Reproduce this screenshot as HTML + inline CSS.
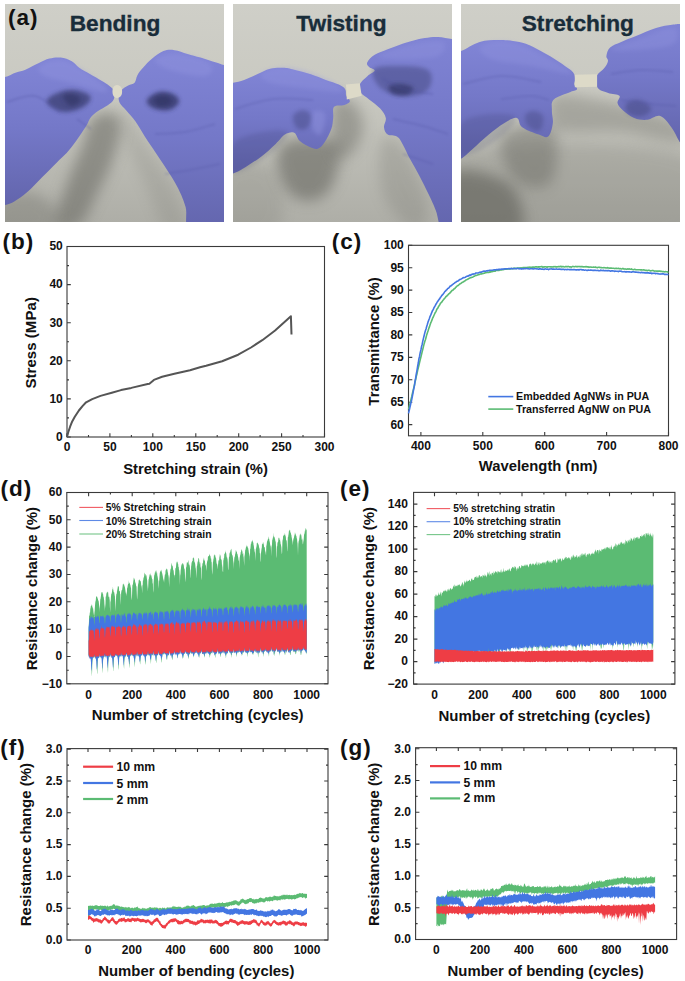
<!DOCTYPE html>
<html><head><meta charset="utf-8"><style>
html,body{margin:0;padding:0;background:#fff;}
svg{display:block;}
</style></head><body>
<svg width="685" height="981" viewBox="0 0 685 981">
<rect width="685" height="981" fill="#fff"/>
<defs>
<linearGradient id="bg1" x1="0" y1="0" x2="0" y2="1"><stop offset="0" stop-color="#cfcfc8"/><stop offset="0.4" stop-color="#c9c9c1"/><stop offset="1" stop-color="#aeaea7"/></linearGradient>
<linearGradient id="gl" x1="0" y1="0" x2="0" y2="1"><stop offset="0" stop-color="#8185d6"/><stop offset="0.45" stop-color="#7478c8"/><stop offset="1" stop-color="#6062a8"/></linearGradient>
<filter id="b2" x="-30%" y="-30%" width="160%" height="160%"><feGaussianBlur stdDeviation="2.2"/></filter>
<filter id="b6" x="-50%" y="-50%" width="200%" height="200%"><feGaussianBlur stdDeviation="7"/></filter>
<filter id="b1" x="-30%" y="-30%" width="160%" height="160%"><feGaussianBlur stdDeviation="0.9"/></filter>
<clipPath id="pc"><rect width="219" height="218"/></clipPath>
</defs><g transform="translate(5,4)"><g clip-path="url(#pc)"><rect width="219" height="218" fill="url(#bg1)"/><path d="M86.0 116.0 C90.7 110.2 98.6 107.3 104.0 108.0 C109.4 108.7 115.3 111.5 116.0 120.0 C116.7 128.5 112.3 142.4 108.0 155.0 C103.7 167.6 98.1 177.9 92.0 190.0 C85.9 202.1 81.6 216.2 74.0 222.0 C66.4 227.8 52.2 229.6 50.0 222.0 C47.8 214.4 57.0 194.8 62.0 180.0 C67.0 165.2 73.7 151.5 78.0 140.0 C82.3 128.5 81.3 121.8 86.0 116.0Z" fill="#5f5f59" opacity="0.5" filter="url(#b6)"/><path d="M-10.0 198.0 C-3.7 190.4 14.2 186.7 25.0 188.0 C35.8 189.3 46.4 197.4 50.0 205.0 C53.6 212.6 55.8 225.5 45.0 230.0 C34.2 234.5 -0.1 235.8 -10.0 230.0 C-19.9 224.2 -16.3 205.6 -10.0 198.0Z" fill="#5f5f59" opacity="0.3" filter="url(#b6)"/><path d="M118.0 105.0 C119.1 101.0 124.0 111.7 128.0 118.0 C132.0 124.3 134.2 130.6 140.0 140.0 C145.8 149.4 153.7 159.2 160.0 170.0 C166.3 180.8 171.4 190.1 175.0 200.0 C178.6 209.9 182.7 220.5 180.0 225.0 C177.3 229.5 167.2 233.1 160.0 225.0 C152.8 216.9 146.8 195.3 140.0 180.0 C133.2 164.7 126.0 153.5 122.0 140.0 C118.0 126.5 116.9 109.0 118.0 105.0Z" fill="#5f5f59" opacity="0.15" filter="url(#b6)"/><path d="M-10.0 74.0 C-8.2 50.6 -3.8 74.1 0.0 73.1 C3.8 72.1 7.4 69.8 11.1 68.5 C14.8 67.2 16.4 67.4 20.4 65.7 C24.4 64.0 29.1 61.2 33.4 59.2 C37.7 57.2 40.5 55.6 44.5 54.6 C48.5 53.6 51.7 53.1 55.7 53.6 C59.7 54.1 63.5 55.5 66.8 57.3 C70.1 59.1 70.9 61.5 74.2 63.8 C77.5 66.1 81.3 68.0 85.3 70.3 C89.3 72.6 93.2 74.8 96.5 76.8 C99.8 78.8 101.7 79.8 103.9 81.5 C106.1 83.2 107.5 84.3 108.5 86.1 C109.5 87.9 109.7 89.7 109.5 91.7 C109.3 93.7 109.3 95.2 107.6 97.2 C105.9 99.2 103.2 100.8 100.2 102.8 C97.2 104.8 93.6 106.4 90.9 108.4 C88.2 110.4 87.0 111.6 85.3 113.9 C83.6 116.2 83.6 118.0 81.6 121.3 C79.6 124.6 77.5 127.8 74.2 132.5 C70.9 137.2 67.1 142.6 63.1 147.3 C59.1 152.0 56.6 153.7 51.9 158.4 C47.2 163.1 42.4 168.0 37.1 173.3 C31.8 178.6 27.3 183.8 22.3 188.1 C17.3 192.4 13.3 195.1 9.3 197.4 C5.3 199.7 3.5 200.1 0.0 201.1 C-3.5 202.1 -8.2 225.9 -10.0 203.0 C-11.8 180.1 -11.8 97.4 -10.0 74.0Z" fill="url(#gl)"/><path d="M113.8 91.7 C114.1 89.4 114.9 87.9 116.6 86.1 C118.3 84.3 120.8 82.8 123.1 81.5 C125.4 80.2 127.9 80.5 129.6 78.7 C131.3 76.9 130.9 74.0 132.4 71.3 C133.9 68.6 135.3 66.8 138.0 63.8 C140.7 60.8 143.5 57.6 147.2 54.6 C150.9 51.6 154.4 48.6 158.4 47.1 C162.4 45.6 165.2 45.7 169.5 46.2 C173.8 46.7 177.8 48.6 182.5 49.9 C187.2 51.2 190.5 52.1 195.5 53.6 C200.5 55.1 206.1 57.0 210.3 58.3 C214.5 59.6 215.8 60.2 219.0 61.0 C222.2 61.8 226.4 32.9 228.0 63.0 C229.6 93.1 235.5 198.3 228.0 228.0 C220.5 257.7 194.7 232.5 186.2 228.0 C177.7 223.5 182.9 210.8 180.6 203.0 C178.3 195.2 176.5 191.1 173.2 184.4 C169.9 177.7 166.1 172.2 162.1 165.9 C158.1 159.6 155.0 155.2 151.0 149.2 C147.0 143.2 143.5 138.2 139.8 132.5 C136.1 126.8 133.8 122.3 130.5 117.6 C127.2 112.9 124.1 109.8 121.3 106.5 C118.5 103.2 116.1 101.8 114.8 99.1 C113.5 96.4 113.5 94.0 113.8 91.7Z" fill="url(#gl)"/><path d="M35.0 62.0 C38.6 59.3 49.2 54.1 60.0 57.0 C70.8 59.9 87.8 72.4 95.0 78.0 C102.2 83.6 104.5 87.6 100.0 88.0 C95.5 88.4 80.8 82.9 70.0 80.0 C59.2 77.1 46.3 75.2 40.0 72.0 C33.7 68.8 31.4 64.7 35.0 62.0Z" fill="#9598e2" opacity="0.35" filter="url(#b2)"/><path d="M150.0 55.0 C151.8 52.1 165.1 49.1 175.0 50.0 C184.9 50.9 200.5 56.0 205.0 60.0 C209.5 64.0 207.2 70.9 200.0 72.0 C192.8 73.1 174.0 69.1 165.0 66.0 C156.0 62.9 148.2 57.9 150.0 55.0Z" fill="#9598e2" opacity="0.35" filter="url(#b2)"/><path d="M42.0 96.0 C43.3 93.1 50.0 89.8 55.0 88.0 C60.0 86.2 64.6 85.3 70.0 86.0 C75.4 86.7 83.2 89.1 85.0 92.0 C86.8 94.9 84.1 99.1 80.0 102.0 C75.9 104.9 67.8 107.6 62.0 108.0 C56.2 108.4 51.6 106.2 48.0 104.0 C44.4 101.8 40.7 98.9 42.0 96.0Z" fill="#2c2d5a" opacity="0.6" filter="url(#b2)"/><path d="M58.0 92.0 C58.4 89.8 64.8 89.3 68.0 90.0 C71.2 90.7 76.4 93.8 76.0 96.0 C75.6 98.2 69.2 102.7 66.0 102.0 C62.8 101.3 57.6 94.2 58.0 92.0Z" fill="#2c2d5a" opacity="0.5" filter="url(#b2)"/><path d="M142.0 96.0 C143.1 93.1 149.3 89.1 154.0 88.0 C158.7 86.9 164.4 88.2 168.0 90.0 C171.6 91.8 174.7 95.1 174.0 98.0 C173.3 100.9 168.7 104.9 164.0 106.0 C159.3 107.1 152.0 105.8 148.0 104.0 C144.0 102.2 140.9 98.9 142.0 96.0Z" fill="#2c2d5a" opacity="0.7" filter="url(#b2)"/><path d="M150.0 94.0 C151.4 92.2 159.1 91.1 162.0 92.0 C164.9 92.9 167.4 97.2 166.0 99.0 C164.6 100.8 156.9 102.9 154.0 102.0 C151.1 101.1 148.6 95.8 150.0 94.0Z" fill="#2c2d5a" opacity="0.5" filter="url(#b2)"/><path d="M2.0 98.0 C7.0 96.9 20.5 90.2 30.0 92.0 C39.5 93.8 50.5 105.1 55.0 108.0" fill="none" stroke="#4b4d9c" stroke-width="2" opacity="0.25" filter="url(#b1)"/><path d="M72.0 115.0 C74.5 116.8 83.5 123.2 86.0 125.0" fill="none" stroke="#4b4d9c" stroke-width="2" opacity="0.25" filter="url(#b1)"/><path d="M150.0 130.0 C155.4 129.6 169.2 129.8 180.0 128.0 C190.8 126.2 204.6 121.4 210.0 120.0" fill="none" stroke="#4b4d9c" stroke-width="2" opacity="0.22" filter="url(#b1)"/><path d="M160.0 170.0 C165.4 169.1 180.1 166.8 190.0 165.0 C199.9 163.2 210.5 160.9 215.0 160.0" fill="none" stroke="#4b4d9c" stroke-width="2" opacity="0.2" filter="url(#b1)"/><path d="M108.0 84.0 C108.7 82.2 110.5 81.0 112.0 81.0 C113.5 81.0 115.7 82.2 116.5 84.0 C117.3 85.8 117.3 89.2 116.5 91.0 C115.7 92.8 113.5 94.0 112.0 94.0 C110.5 94.0 108.7 92.8 108.0 91.0 C107.3 89.2 107.3 85.8 108.0 84.0Z" fill="#dddac8"/></g><text x="110" y="27.3" font-family="Liberation Sans, sans-serif" font-weight="bold" font-size="22.7" text-anchor="middle" fill="#192d3a" stroke="#192d3a" stroke-width="0.35">Bending</text></g><g transform="translate(233,4)"><g clip-path="url(#pc)"><rect width="219" height="218" fill="url(#bg1)"/><path d="M50.0 140.0 C56.3 134.6 70.1 135.0 80.0 135.0 C89.9 135.0 101.0 132.8 105.0 140.0 C109.0 147.2 105.6 165.1 102.0 175.0 C98.4 184.9 92.6 191.9 85.0 195.0 C77.4 198.1 67.2 197.4 60.0 192.0 C52.8 186.6 46.8 174.4 45.0 165.0 C43.2 155.6 43.7 145.4 50.0 140.0Z" fill="#5f5f59" opacity="0.55" filter="url(#b6)"/><path d="M100.0 98.0 C103.6 89.0 116.6 95.1 122.0 100.0 C127.4 104.9 130.7 116.0 130.0 125.0 C129.3 134.0 123.0 145.5 118.0 150.0 C113.0 154.5 105.2 159.4 102.0 150.0 C98.8 140.6 96.4 107.0 100.0 98.0Z" fill="#5f5f59" opacity="0.4" filter="url(#b6)"/><path d="M150.0 135.0 C154.5 127.8 166.9 137.4 175.0 150.0 C183.1 162.6 194.1 191.5 195.0 205.0 C195.9 218.5 188.1 227.7 180.0 225.0 C171.9 222.3 155.4 206.2 150.0 190.0 C144.6 173.8 145.5 142.2 150.0 135.0Z" fill="#5f5f59" opacity="0.2" filter="url(#b6)"/><path d="M-10.0 170.0 C-2.8 157.4 19.2 156.4 30.0 160.0 C40.8 163.6 48.2 177.4 50.0 190.0 C51.8 202.6 50.8 222.8 40.0 230.0 C29.2 237.2 -1.0 240.8 -10.0 230.0 C-19.0 219.2 -17.2 182.6 -10.0 170.0Z" fill="#5f5f59" opacity="0.15" filter="url(#b6)"/><path d="M-10.0 79.0 C-8.2 62.4 -3.8 79.3 0.0 78.7 C3.8 78.1 6.8 77.4 11.1 75.9 C15.4 74.4 19.4 72.3 24.1 70.3 C28.8 68.3 32.4 66.0 37.1 64.8 C41.8 63.6 45.8 63.6 50.1 63.8 C54.4 64.0 56.2 64.5 61.2 65.7 C66.2 66.9 72.2 68.5 77.9 70.3 C83.6 72.1 87.8 74.1 92.8 75.9 C97.8 77.7 102.3 78.8 105.8 80.5 C109.3 82.2 110.9 83.2 112.2 85.2 C113.5 87.2 112.4 89.5 113.2 91.7 C114.0 93.9 117.2 95.5 116.9 97.2 C116.6 98.9 114.1 99.9 111.3 100.9 C108.5 101.9 103.1 100.5 101.1 102.8 C99.1 105.1 100.7 109.9 100.2 113.9 C99.7 117.9 99.8 120.8 98.3 125.1 C96.8 129.4 94.1 134.5 91.8 138.0 C89.5 141.5 87.8 143.5 85.3 144.5 C82.8 145.5 81.2 144.9 77.9 143.6 C74.6 142.3 69.8 139.8 66.8 137.1 C63.8 134.4 63.9 130.0 61.2 128.8 C58.5 127.6 55.2 128.6 51.9 130.6 C48.6 132.6 47.0 135.9 42.7 139.9 C38.4 143.9 33.5 148.6 27.8 152.9 C22.1 157.2 16.1 161.0 11.1 164.0 C6.1 167.0 3.8 168.3 0.0 169.6 C-3.8 170.9 -8.2 187.3 -10.0 171.0 C-11.8 154.7 -11.8 95.6 -10.0 79.0Z" fill="url(#gl)"/><path d="M134.3 58.3 C135.3 56.1 138.0 53.1 141.7 50.8 C145.4 48.5 149.7 47.3 154.7 45.3 C159.7 43.3 164.8 41.3 169.5 39.7 C174.2 38.1 176.6 37.4 180.6 36.4 C184.6 35.4 187.4 34.6 191.8 34.0 C196.2 33.4 200.1 32.8 205.0 33.0 C209.9 33.2 214.9 34.5 219.0 35.0 C223.1 35.5 226.4 1.3 228.0 36.0 C229.6 70.7 231.2 193.4 228.0 228.0 C224.8 262.6 214.5 231.8 210.0 228.0 C205.5 224.2 205.5 213.5 202.9 206.7 C200.3 199.9 198.5 196.4 195.5 190.0 C192.5 183.6 189.5 177.8 186.2 171.4 C182.9 165.0 179.9 160.4 176.9 154.7 C173.9 149.0 171.8 143.9 169.5 139.9 C167.2 135.9 166.6 134.2 163.9 132.5 C161.2 130.8 157.0 132.3 154.7 130.6 C152.4 128.9 151.3 126.2 151.0 123.2 C150.7 120.2 153.5 117.2 152.8 113.9 C152.1 110.6 150.2 107.9 147.2 104.6 C144.2 101.3 139.4 98.1 136.1 95.4 C132.8 92.7 130.5 91.8 128.7 89.8 C126.9 87.8 126.1 86.2 125.9 84.2 C125.7 82.2 126.3 80.9 127.8 78.7 C129.3 76.5 131.8 74.4 134.3 72.2 C136.8 70.0 141.4 68.3 141.7 66.6 C142.0 64.9 137.4 64.4 136.1 62.9 C134.8 61.4 133.3 60.5 134.3 58.3Z" fill="url(#gl)"/><path d="M30.0 68.0 C34.5 65.5 47.4 62.2 60.0 64.0 C72.6 65.8 91.4 73.7 100.0 78.0 C108.6 82.3 113.4 86.9 108.0 88.0 C102.6 89.1 83.1 85.8 70.0 84.0 C56.9 82.2 42.2 80.9 35.0 78.0 C27.8 75.1 25.5 70.5 30.0 68.0Z" fill="#9598e2" opacity="0.3" filter="url(#b2)"/><path d="M145.0 52.0 C146.8 49.3 168.3 42.5 180.0 40.0 C191.7 37.5 205.5 35.8 210.0 38.0 C214.5 40.2 212.2 48.9 205.0 52.0 C197.8 55.1 180.8 55.0 170.0 55.0 C159.2 55.0 143.2 54.7 145.0 52.0Z" fill="#9598e2" opacity="0.3" filter="url(#b2)"/><path d="M80.0 108.0 C82.2 105.3 90.6 106.0 92.0 110.0 C93.4 114.0 90.2 127.3 88.0 130.0 C85.8 132.7 81.4 129.0 80.0 125.0 C78.6 121.0 77.8 110.7 80.0 108.0Z" fill="#9598e2" opacity="0.4" filter="url(#b2)"/><path d="M60.0 112.0 C61.1 108.8 66.8 106.0 70.0 106.0 C73.2 106.0 77.3 108.8 78.0 112.0 C78.7 115.2 76.5 121.8 74.0 124.0 C71.5 126.2 66.5 126.2 64.0 124.0 C61.5 121.8 58.9 115.2 60.0 112.0Z" fill="#2c2d5a" opacity="0.3" filter="url(#b2)"/><path d="M140.0 66.0 C142.7 61.7 155.1 62.0 165.0 62.0 C174.9 62.0 189.4 62.0 195.0 66.0 C200.6 70.0 199.1 79.3 196.0 84.0 C192.9 88.7 186.3 91.6 178.0 92.0 C169.7 92.4 156.8 90.7 150.0 86.0 C143.2 81.3 137.3 70.3 140.0 66.0Z" fill="#2c2d5a" opacity="0.35" filter="url(#b2)"/><path d="M156.0 82.0 C157.4 80.2 163.7 79.6 168.0 80.0 C172.3 80.4 178.9 82.0 180.0 84.0 C181.1 86.0 177.6 89.9 174.0 91.0 C170.4 92.1 163.2 91.6 160.0 90.0 C156.8 88.4 154.6 83.8 156.0 82.0Z" fill="#2c2d5a" opacity="0.6" filter="url(#b2)"/><path d="M0.0 140.0 C5.4 132.8 20.1 129.8 30.0 128.0 C39.9 126.2 55.0 125.1 55.0 130.0 C55.0 134.9 39.9 148.2 30.0 155.0 C20.1 161.8 5.4 170.7 0.0 168.0 C-5.4 165.3 -5.4 147.2 0.0 140.0Z" fill="#2c2d5a" opacity="0.15" filter="url(#b2)"/><path d="M2.0 105.0 C8.8 103.2 26.0 96.6 40.0 95.0 C54.0 93.4 72.8 95.8 80.0 96.0" fill="none" stroke="#4b4d9c" stroke-width="2" opacity="0.22" filter="url(#b1)"/><path d="M150.0 75.0 C153.6 76.8 161.0 82.3 170.0 85.0 C179.0 87.7 194.6 89.1 200.0 90.0" fill="none" stroke="#4b4d9c" stroke-width="2" opacity="0.25" filter="url(#b1)"/><path d="M160.0 115.0 C165.4 116.3 180.1 119.3 190.0 122.0 C199.9 124.7 210.5 128.6 215.0 130.0" fill="none" stroke="#4b4d9c" stroke-width="2" opacity="0.22" filter="url(#b1)"/><path d="M170.0 150.0 C175.4 151.8 194.6 158.2 200.0 160.0" fill="none" stroke="#4b4d9c" stroke-width="2" opacity="0.2" filter="url(#b1)"/><path d="M113.0 80.5 L126.8 79.2 L128.7 91.7 L113.8 95.4Z" fill="#dddac8"/></g><text x="108.5" y="27.3" font-family="Liberation Sans, sans-serif" font-weight="bold" font-size="22.7" text-anchor="middle" fill="#192d3a" stroke="#192d3a" stroke-width="0.35">Twisting</text></g><g transform="translate(461,4)"><g clip-path="url(#pc)"><rect width="219" height="218" fill="url(#bg1)"/><path d="M45.0 128.0 C53.3 122.1 78.8 118.0 88.0 122.0 C97.2 126.0 96.0 139.6 96.0 150.0 C96.0 160.4 94.5 174.6 88.0 180.0 C81.5 185.4 68.3 184.5 60.0 180.0 C51.7 175.5 44.7 164.4 42.0 155.0 C39.3 145.6 36.7 133.9 45.0 128.0Z" fill="#5f5f59" opacity="0.4" filter="url(#b6)"/><path d="M-10.0 170.0 C-1.0 160.1 27.4 169.6 40.0 175.0 C52.6 180.4 57.3 190.1 60.0 200.0 C62.7 209.9 67.6 224.6 55.0 230.0 C42.4 235.4 1.7 240.8 -10.0 230.0 C-21.7 219.2 -19.0 179.9 -10.0 170.0Z" fill="#5f5f59" opacity="0.6" filter="url(#b6)"/><path d="M92.0 92.0 C100.6 87.3 120.6 92.4 140.0 96.0 C159.4 99.6 185.8 107.3 200.0 112.0 C214.2 116.7 215.6 117.3 219.0 122.0 C222.4 126.7 229.6 136.9 219.0 138.0 C208.4 139.1 179.6 129.8 160.0 128.0 C140.4 126.2 122.2 129.1 110.0 128.0 C97.8 126.9 95.2 128.5 92.0 122.0 C88.8 115.5 83.4 96.7 92.0 92.0Z" fill="#5f5f59" opacity="0.3" filter="url(#b6)"/><path d="M0.0 150.0 C39.4 135.6 179.6 135.6 219.0 150.0 C258.4 164.4 258.4 215.6 219.0 230.0 C179.6 244.4 39.4 244.4 0.0 230.0 C-39.4 215.6 -39.4 164.4 0.0 150.0Z" fill="#5f5f59" opacity="0.18" filter="url(#b6)"/><path d="M-10.0 49.0 C-8.2 29.4 -5.1 49.1 0.0 47.1 C5.1 45.1 11.9 39.9 18.6 37.9 C25.3 35.9 31.1 36.2 37.1 36.0 C43.1 35.8 46.9 36.2 51.9 36.9 C56.9 37.6 59.9 37.9 64.9 39.7 C69.9 41.5 74.8 44.4 79.8 47.1 C84.8 49.8 88.5 51.9 92.8 54.6 C97.1 57.3 100.4 59.5 103.9 62.0 C107.4 64.5 110.4 66.2 112.2 68.5 C114.0 70.8 113.9 72.8 114.1 75.0 C114.3 77.2 112.9 78.7 113.2 80.5 C113.5 82.3 116.7 83.9 116.0 85.2 C115.3 86.5 113.7 86.1 109.5 87.9 C105.3 89.7 96.1 92.1 92.8 95.4 C89.5 98.7 91.1 102.2 90.9 106.5 C90.7 110.8 92.5 114.8 91.8 119.5 C91.1 124.2 89.7 130.5 87.2 132.5 C84.7 134.5 82.6 132.3 77.9 130.6 C73.2 128.9 65.2 126.2 61.2 123.2 C57.2 120.2 59.0 114.6 55.7 113.9 C52.4 113.2 47.7 116.5 42.7 119.5 C37.7 122.5 33.5 125.9 27.8 130.6 C22.1 135.3 16.1 141.2 11.1 145.5 C6.1 149.8 3.8 152.8 0.0 154.7 C-3.8 156.6 -8.2 175.0 -10.0 156.0 C-11.8 137.0 -11.8 68.6 -10.0 49.0Z" fill="url(#gl)"/><path d="M136.1 71.3 C137.6 68.6 141.5 66.4 143.5 63.8 C145.5 61.2 146.7 59.1 147.0 57.0 C147.3 54.9 145.0 54.4 145.4 52.0 C145.8 49.6 146.4 45.9 149.1 43.4 C151.8 40.9 155.5 40.0 160.2 37.9 C164.9 35.8 168.7 34.5 175.0 32.0 C181.3 29.5 188.5 26.0 195.0 24.0 C201.5 22.0 206.7 21.5 211.0 20.8 C215.3 20.1 215.9 20.1 219.0 20.0 C222.1 19.9 226.4 -1.6 228.0 20.0 C229.6 41.6 229.6 118.8 228.0 140.0 C226.4 161.2 220.9 138.7 219.0 138.0 C217.1 137.3 219.3 138.9 217.7 136.2 C216.1 133.5 213.6 127.5 210.3 123.2 C207.0 118.9 203.5 113.4 199.2 112.1 C194.9 110.8 190.9 115.5 186.2 115.8 C181.5 116.1 177.5 115.6 173.2 113.9 C168.9 112.2 165.1 109.2 162.1 106.5 C159.1 103.8 157.2 101.8 156.5 99.1 C155.8 96.4 160.1 93.5 158.4 91.7 C156.7 89.9 150.9 90.1 147.2 88.9 C143.5 87.7 140.2 87.0 138.0 85.2 C135.8 83.4 135.5 81.2 135.2 78.7 C134.9 76.2 134.6 74.0 136.1 71.3Z" fill="url(#gl)"/><path d="M20.0 42.0 C23.6 38.9 36.5 35.1 50.0 38.0 C63.5 40.9 84.2 52.2 95.0 58.0 C105.8 63.8 114.5 69.3 110.0 70.0 C105.5 70.7 84.4 64.7 70.0 62.0 C55.6 59.3 39.0 58.6 30.0 55.0 C21.0 51.4 16.4 45.1 20.0 42.0Z" fill="#9598e2" opacity="0.3" filter="url(#b2)"/><path d="M150.0 45.0 C150.9 42.8 168.8 37.8 180.0 34.0 C191.2 30.2 206.2 22.9 212.0 24.0 C217.8 25.1 218.7 36.0 212.0 40.0 C205.3 44.0 186.2 45.1 175.0 46.0 C163.8 46.9 149.1 47.2 150.0 45.0Z" fill="#9598e2" opacity="0.3" filter="url(#b2)"/><path d="M64.0 112.0 C64.7 109.1 68.8 107.0 72.0 107.0 C75.2 107.0 80.7 108.6 82.0 112.0 C83.3 115.4 81.5 124.0 79.0 126.0 C76.5 128.0 70.7 125.5 68.0 123.0 C65.3 120.5 63.3 114.9 64.0 112.0Z" fill="#2c2d5a" opacity="0.25" filter="url(#b2)"/><path d="M165.0 100.0 C166.8 97.5 173.5 95.3 178.0 96.0 C182.5 96.7 189.3 101.1 190.0 104.0 C190.7 106.9 186.0 110.9 182.0 112.0 C178.0 113.1 171.1 112.2 168.0 110.0 C164.9 107.8 163.2 102.5 165.0 100.0Z" fill="#2c2d5a" opacity="0.3" filter="url(#b2)"/><path d="M0.0 120.0 C5.4 112.8 20.1 110.9 30.0 110.0 C39.9 109.1 55.0 109.6 55.0 115.0 C55.0 120.4 39.9 133.7 30.0 140.0 C20.1 146.3 5.4 153.6 0.0 150.0 C-5.4 146.4 -5.4 127.2 0.0 120.0Z" fill="#2c2d5a" opacity="0.15" filter="url(#b2)"/><path d="M2.0 80.0 C8.8 78.6 26.0 72.4 40.0 72.0 C54.0 71.6 72.8 76.9 80.0 78.0" fill="none" stroke="#4b4d9c" stroke-width="2" opacity="0.22" filter="url(#b1)"/><path d="M40.0 95.0 C45.4 94.5 61.4 91.8 70.0 92.0 C78.6 92.2 84.8 95.3 88.0 96.0" fill="none" stroke="#4b4d9c" stroke-width="2" opacity="0.2" filter="url(#b1)"/><path d="M150.0 70.0 C155.4 69.3 168.8 66.4 180.0 66.0 C191.2 65.6 206.2 67.6 212.0 68.0" fill="none" stroke="#4b4d9c" stroke-width="2" opacity="0.22" filter="url(#b1)"/><path d="M160.0 96.0 C165.4 96.7 180.1 98.9 190.0 100.0 C199.9 101.1 210.5 101.6 215.0 102.0" fill="none" stroke="#4b4d9c" stroke-width="2" opacity="0.2" filter="url(#b1)"/><path d="M113.8 70.8 L136.1 70.3 L136.1 82.8 L113.8 83.3Z" fill="#dddac8"/></g><text x="116.8" y="27.3" font-family="Liberation Sans, sans-serif" font-weight="bold" font-size="22.7" text-anchor="middle" fill="#192d3a" stroke="#192d3a" stroke-width="0.35">Stretching</text></g>
<g><rect x="67.0" y="246.5" width="257.5" height="190.5" fill="none" stroke="#3a3a3a" stroke-width="1.1"/>
<path d="M67.0 437.0h3.8M67.0 398.9h3.8M67.0 360.8h3.8M67.0 322.7h3.8M67.0 284.6h3.8M67.0 246.5h3.8M67.0 417.9h2.0M67.0 379.9h2.0M67.0 341.8h2.0M67.0 303.6h2.0M67.0 265.6h2.0M67.0 437.0v-3.8M109.9 437.0v-3.8M152.8 437.0v-3.8M195.8 437.0v-3.8M238.7 437.0v-3.8M281.6 437.0v-3.8M324.5 437.0v-3.8M88.5 437.0v-2.0M131.4 437.0v-2.0M174.3 437.0v-2.0M217.2 437.0v-2.0M260.1 437.0v-2.0M303.0 437.0v-2.0" stroke="#3a3a3a" stroke-width="1.1" fill="none"/>
<path d="M67.0 437.0 L68.3 432.0 L70.1 426.7 L72.2 421.4 L74.8 416.8 L78.9 410.5 L82.5 406.1 L86.1 402.3 L92.2 399.1 L100.5 395.9 L111.8 392.8 L121.0 390.1 L131.3 387.9 L147.7 384.0 L149.4 383.7 L153.9 379.9 L162.1 376.8 L174.4 373.8 L190.0 370.3 L200.0 367.3 L206.1 365.8 L222.1 361.2 L238.2 354.7 L251.0 347.5 L262.3 340.2 L275.1 330.5 L290.9 316.2 L291.5 334.5" stroke="#555" stroke-width="2" fill="none" stroke-linejoin="round"/>
</g>
<g font-family="Liberation Sans, sans-serif" font-weight="bold" fill="#111"><text x="62.8" y="440.8" font-size="12" text-anchor="end" >0</text>
<text x="62.8" y="402.7" font-size="12" text-anchor="end" >10</text>
<text x="62.8" y="364.6" font-size="12" text-anchor="end" >20</text>
<text x="62.8" y="326.5" font-size="12" text-anchor="end" >30</text>
<text x="62.8" y="288.4" font-size="12" text-anchor="end" >40</text>
<text x="62.8" y="250.3" font-size="12" text-anchor="end" >50</text>
<text x="67.0" y="451.3" font-size="12" text-anchor="middle" >0</text>
<text x="109.9" y="451.3" font-size="12" text-anchor="middle" >50</text>
<text x="152.8" y="451.3" font-size="12" text-anchor="middle" >100</text>
<text x="195.8" y="451.3" font-size="12" text-anchor="middle" >150</text>
<text x="238.7" y="451.3" font-size="12" text-anchor="middle" >200</text>
<text x="281.6" y="451.3" font-size="12" text-anchor="middle" >250</text>
<text x="324.5" y="451.3" font-size="12" text-anchor="middle" >300</text>
<text x="195.6" y="474.2" font-size="14.8" text-anchor="middle" >Stretching strain (%)</text>
<text transform="translate(36.0,342.8) rotate(-90)" font-size="15.1" text-anchor="middle">Stress (MPa)</text>
</g>
<g><rect x="408.5" y="245.3" width="260.0" height="190.5" fill="none" stroke="#3a3a3a" stroke-width="1.1"/>
<path d="M408.5 424.6h3.8M408.5 402.2h3.8M408.5 379.8h3.8M408.5 357.4h3.8M408.5 334.9h3.8M408.5 312.5h3.8M408.5 290.1h3.8M408.5 267.7h3.8M408.5 245.3h3.8M420.9 435.8v-3.8M482.8 435.8v-3.8M544.7 435.8v-3.8M606.6 435.8v-3.8M668.5 435.8v-3.8" stroke="#3a3a3a" stroke-width="1.1" fill="none"/>
<path d="M408.5 409.4 L409.2 406.7 L409.8 404.2 L410.5 401.7 L411.1 399.0 L411.8 396.4 L412.4 393.5 L413.1 390.6 L413.7 388.1 L414.4 385.3 L415.0 382.2 L415.7 379.3 L416.3 376.4 L417.0 373.7 L417.6 370.6 L418.3 367.7 L418.9 365.2 L419.6 362.4 L420.2 359.9 L420.9 357.1 L421.5 354.5 L422.2 351.6 L422.8 349.2 L423.5 346.4 L424.1 343.9 L424.8 341.6 L425.4 339.8 L426.1 337.2 L426.7 334.9 L427.4 332.7 L428.0 331.0 L428.7 328.8 L429.4 326.9 L430.0 325.0 L430.7 322.9 L431.3 321.6 L432.0 319.9 L432.6 318.2 L433.3 317.0 L433.9 315.5 L434.6 314.0 L435.2 312.7 L435.9 311.6 L436.5 310.2 L437.2 308.7 L437.8 308.1 L438.5 306.6 L439.1 305.7 L439.8 304.8 L440.4 303.4 L441.1 302.7 L441.7 302.2 L442.4 301.1 L443.0 300.2 L443.7 299.5 L444.3 298.6 L445.0 298.0 L445.6 297.1 L446.3 296.3 L446.9 296.0 L447.6 295.1 L448.2 294.6 L448.9 293.8 L449.6 293.4 L450.2 292.6 L450.9 291.9 L451.5 291.1 L452.2 290.4 L452.8 290.3 L453.5 289.6 L454.1 288.7 L454.8 288.6 L455.4 287.7 L456.1 287.1 L456.7 286.3 L457.4 285.9 L458.0 285.5 L458.7 285.0 L459.3 284.5 L460.0 283.7 L460.6 283.6 L461.3 283.1 L461.9 282.6 L462.6 282.3 L463.2 281.9 L463.9 281.6 L464.5 281.0 L465.2 280.7 L465.8 280.1 L466.5 279.8 L467.1 279.5 L467.8 279.1 L468.4 278.9 L469.1 278.3 L469.8 278.2 L470.4 277.7 L471.1 277.8 L471.7 277.2 L472.4 277.2 L473.0 277.0 L473.7 276.4 L474.3 276.3 L475.0 275.8 L475.6 275.2 L476.3 275.5 L476.9 275.3 L477.6 274.9 L478.2 274.7 L478.9 274.6 L479.5 274.4 L480.2 274.1 L480.8 273.9 L481.5 274.0 L482.1 273.7 L482.8 273.5 L483.4 273.5 L484.1 273.1 L484.7 273.1 L485.4 272.7 L486.0 272.7 L486.7 272.5 L487.3 272.5 L488.0 272.3 L488.7 272.5 L489.3 272.2 L490.0 271.8 L490.6 272.1 L491.3 271.5 L491.9 271.8 L492.6 271.2 L493.2 271.4 L493.9 271.0 L494.5 271.0 L495.2 271.2 L495.8 270.5 L496.5 270.4 L497.1 270.5 L497.8 270.5 L498.4 270.3 L499.1 270.4 L499.7 269.9 L500.4 270.1 L501.0 269.9 L501.7 269.9 L502.3 269.8 L503.0 269.8 L503.6 269.3 L504.3 269.4 L504.9 269.1 L505.6 269.2 L506.2 269.3 L506.9 269.1 L507.5 269.1 L508.2 268.9 L508.9 268.9 L509.5 268.8 L510.2 269.0 L510.8 268.8 L511.5 268.3 L512.1 268.7 L512.8 268.7 L513.4 268.4 L514.1 268.1 L514.7 268.6 L515.4 268.3 L516.0 268.3 L516.7 268.5 L517.3 268.0 L518.0 268.1 L518.6 268.0 L519.3 268.1 L519.9 267.9 L520.6 268.0 L521.2 267.9 L521.9 268.0 L522.5 268.0 L523.2 267.5 L523.8 267.8 L524.5 267.6 L525.1 267.6 L525.8 267.6 L526.4 267.6 L527.1 267.4 L527.7 267.5 L528.4 267.4 L529.1 267.4 L529.7 267.1 L530.4 267.2 L531.0 267.2 L531.7 267.3 L532.3 267.5 L533.0 267.0 L533.6 267.0 L534.3 267.2 L534.9 267.0 L535.6 266.9 L536.2 266.9 L536.9 266.9 L537.5 267.1 L538.2 266.7 L538.8 267.2 L539.5 266.8 L540.1 266.8 L540.8 266.7 L541.4 266.5 L542.1 266.6 L542.7 267.1 L543.4 267.1 L544.0 266.7 L544.7 267.0 L545.3 266.8 L546.0 266.7 L546.6 267.1 L547.3 267.2 L547.9 266.7 L548.6 266.8 L549.3 266.8 L549.9 266.8 L550.6 266.9 L551.2 267.0 L551.9 266.8 L552.5 266.9 L553.2 267.0 L553.8 266.6 L554.5 266.7 L555.1 266.6 L555.8 266.9 L556.4 266.8 L557.1 266.9 L557.7 266.8 L558.4 266.6 L559.0 266.8 L559.7 266.6 L560.3 266.6 L561.0 266.3 L561.6 266.9 L562.3 266.5 L562.9 266.7 L563.6 266.6 L564.2 266.9 L564.9 266.7 L565.5 266.5 L566.2 266.6 L566.8 266.6 L567.5 266.7 L568.1 266.4 L568.8 266.6 L569.5 267.0 L570.1 266.7 L570.8 267.0 L571.4 267.2 L572.1 266.7 L572.7 266.4 L573.4 266.6 L574.0 266.8 L574.7 266.8 L575.3 266.4 L576.0 266.6 L576.6 266.6 L577.3 266.6 L577.9 266.6 L578.6 266.5 L579.2 266.5 L579.9 266.6 L580.5 266.8 L581.2 266.6 L581.8 266.8 L582.5 266.5 L583.1 267.0 L583.8 266.8 L584.4 266.8 L585.1 267.0 L585.7 266.5 L586.4 266.6 L587.0 267.0 L587.7 266.8 L588.3 266.9 L589.0 267.4 L589.7 267.0 L590.3 267.0 L591.0 267.1 L591.6 267.3 L592.3 267.2 L592.9 267.2 L593.6 267.0 L594.2 267.2 L594.9 267.3 L595.5 267.0 L596.2 267.5 L596.8 267.5 L597.5 267.8 L598.1 267.2 L598.8 267.3 L599.4 267.4 L600.1 267.4 L600.7 267.6 L601.4 267.6 L602.0 267.7 L602.7 267.7 L603.3 267.7 L604.0 267.5 L604.6 267.7 L605.3 267.8 L605.9 268.0 L606.6 268.0 L607.2 267.6 L607.9 267.9 L608.6 268.0 L609.2 268.1 L609.9 268.3 L610.5 268.1 L611.2 268.0 L611.8 268.2 L612.5 268.2 L613.1 268.3 L613.8 268.3 L614.4 268.6 L615.1 268.4 L615.7 268.5 L616.4 268.3 L617.0 268.6 L617.7 268.4 L618.3 268.2 L619.0 268.6 L619.6 268.7 L620.3 268.6 L620.9 268.7 L621.6 268.9 L622.2 268.7 L622.9 268.4 L623.5 268.9 L624.2 268.9 L624.8 269.1 L625.5 268.9 L626.1 269.2 L626.8 269.2 L627.4 268.8 L628.1 269.3 L628.8 268.9 L629.4 268.9 L630.1 269.2 L630.7 269.2 L631.4 268.9 L632.0 269.4 L632.7 269.5 L633.3 269.7 L634.0 269.5 L634.6 269.2 L635.3 269.4 L635.9 269.8 L636.6 269.8 L637.2 269.8 L637.9 269.7 L638.5 269.8 L639.2 269.8 L639.8 269.8 L640.5 269.9 L641.1 269.9 L641.8 269.9 L642.4 270.0 L643.1 270.0 L643.7 269.8 L644.4 270.0 L645.0 270.2 L645.7 270.5 L646.3 270.2 L647.0 270.7 L647.6 270.6 L648.3 270.3 L649.0 270.3 L649.6 270.5 L650.3 270.9 L650.9 270.7 L651.6 270.8 L652.2 270.6 L652.9 270.4 L653.5 270.8 L654.2 271.0 L654.8 271.1 L655.5 271.0 L656.1 271.0 L656.8 271.3 L657.4 271.1 L658.1 271.4 L658.7 271.0 L659.4 271.1 L660.0 271.1 L660.7 271.4 L661.3 271.3 L662.0 271.5 L662.6 271.6 L663.3 271.6 L663.9 271.8 L664.6 271.9 L665.2 271.6 L665.9 271.8 L666.5 271.8 L667.2 271.7 L667.8 272.2 L668.5 272.1" stroke="#5bbb73" stroke-width="1.6" fill="none" stroke-linejoin="round"/>
<path d="M408.5 413.4 L409.2 410.6 L409.8 407.9 L410.5 404.8 L411.1 402.0 L411.8 399.2 L412.4 396.0 L413.1 392.4 L413.7 389.1 L414.4 385.9 L415.0 381.5 L415.7 377.8 L416.3 373.8 L417.0 370.3 L417.6 366.5 L418.3 363.0 L418.9 358.9 L419.6 356.2 L420.2 352.7 L420.9 350.0 L421.5 346.8 L422.2 344.2 L422.8 341.1 L423.5 338.1 L424.1 335.8 L424.8 332.9 L425.4 330.7 L426.1 328.7 L426.7 326.4 L427.4 324.3 L428.0 322.1 L428.7 320.3 L429.4 318.5 L430.0 316.6 L430.7 315.1 L431.3 313.6 L432.0 311.9 L432.6 310.4 L433.3 309.5 L433.9 307.9 L434.6 306.8 L435.2 305.7 L435.9 304.3 L436.5 303.5 L437.2 302.0 L437.8 301.4 L438.5 300.3 L439.1 299.4 L439.8 298.6 L440.4 297.4 L441.1 296.7 L441.7 295.6 L442.4 294.9 L443.0 294.2 L443.7 293.2 L444.3 292.4 L445.0 291.4 L445.6 291.0 L446.3 290.1 L446.9 289.7 L447.6 288.6 L448.2 288.3 L448.9 287.8 L449.6 286.9 L450.2 286.1 L450.9 286.0 L451.5 285.4 L452.2 284.8 L452.8 284.4 L453.5 283.7 L454.1 283.4 L454.8 282.9 L455.4 282.2 L456.1 282.1 L456.7 281.4 L457.4 281.3 L458.0 280.9 L458.7 280.6 L459.3 279.6 L460.0 279.6 L460.6 279.2 L461.3 278.9 L461.9 278.6 L462.6 278.3 L463.2 277.6 L463.9 277.8 L464.5 277.6 L465.2 277.3 L465.8 277.0 L466.5 276.4 L467.1 276.1 L467.8 276.1 L468.4 276.0 L469.1 275.5 L469.8 275.0 L470.4 275.5 L471.1 274.6 L471.7 274.7 L472.4 274.1 L473.0 274.3 L473.7 273.9 L474.3 274.0 L475.0 273.7 L475.6 273.1 L476.3 273.0 L476.9 273.0 L477.6 273.0 L478.2 273.0 L478.9 272.6 L479.5 272.3 L480.2 272.2 L480.8 272.1 L481.5 272.1 L482.1 271.8 L482.8 271.6 L483.4 271.2 L484.1 271.0 L484.7 271.2 L485.4 271.2 L486.0 271.0 L486.7 270.9 L487.3 270.9 L488.0 270.6 L488.7 270.7 L489.3 270.3 L490.0 270.3 L490.6 270.2 L491.3 270.2 L491.9 270.2 L492.6 270.2 L493.2 270.0 L493.9 269.9 L494.5 269.7 L495.2 269.7 L495.8 269.9 L496.5 269.6 L497.1 269.7 L497.8 269.5 L498.4 269.4 L499.1 269.7 L499.7 269.2 L500.4 269.2 L501.0 269.2 L501.7 269.1 L502.3 269.1 L503.0 269.1 L503.6 269.0 L504.3 269.0 L504.9 268.8 L505.6 269.0 L506.2 268.7 L506.9 268.7 L507.5 268.7 L508.2 268.7 L508.9 268.5 L509.5 268.9 L510.2 268.5 L510.8 268.6 L511.5 268.6 L512.1 268.5 L512.8 268.7 L513.4 268.7 L514.1 268.5 L514.7 268.5 L515.4 268.6 L516.0 268.9 L516.7 268.5 L517.3 268.4 L518.0 268.5 L518.6 268.6 L519.3 268.9 L519.9 268.5 L520.6 268.7 L521.2 269.1 L521.9 268.6 L522.5 268.9 L523.2 268.9 L523.8 268.8 L524.5 268.5 L525.1 268.8 L525.8 268.7 L526.4 268.4 L527.1 268.5 L527.7 268.8 L528.4 268.8 L529.1 269.0 L529.7 268.9 L530.4 268.7 L531.0 268.7 L531.7 268.8 L532.3 268.6 L533.0 269.0 L533.6 268.9 L534.3 268.7 L534.9 268.8 L535.6 268.7 L536.2 268.8 L536.9 269.0 L537.5 268.9 L538.2 269.1 L538.8 269.2 L539.5 268.8 L540.1 269.0 L540.8 268.9 L541.4 269.3 L542.1 269.1 L542.7 269.1 L543.4 269.2 L544.0 269.4 L544.7 269.1 L545.3 268.9 L546.0 269.0 L546.6 269.2 L547.3 269.1 L547.9 269.0 L548.6 269.6 L549.3 269.1 L549.9 269.0 L550.6 269.0 L551.2 268.9 L551.9 269.0 L552.5 269.1 L553.2 269.1 L553.8 269.1 L554.5 269.3 L555.1 269.3 L555.8 269.1 L556.4 268.9 L557.1 269.3 L557.7 269.3 L558.4 269.3 L559.0 269.1 L559.7 269.3 L560.3 269.1 L561.0 269.5 L561.6 269.4 L562.3 269.4 L562.9 269.3 L563.6 269.2 L564.2 269.7 L564.9 269.6 L565.5 269.4 L566.2 269.6 L566.8 269.8 L567.5 269.3 L568.1 269.5 L568.8 269.5 L569.5 269.7 L570.1 269.4 L570.8 269.7 L571.4 269.4 L572.1 269.8 L572.7 269.8 L573.4 269.6 L574.0 269.8 L574.7 269.6 L575.3 269.7 L576.0 269.9 L576.6 269.8 L577.3 269.9 L577.9 269.6 L578.6 269.9 L579.2 269.9 L579.9 269.6 L580.5 269.5 L581.2 269.5 L581.8 269.9 L582.5 269.9 L583.1 269.7 L583.8 270.0 L584.4 270.2 L585.1 270.0 L585.7 270.0 L586.4 270.2 L587.0 270.4 L587.7 270.4 L588.3 270.0 L589.0 270.3 L589.7 270.2 L590.3 270.1 L591.0 270.1 L591.6 270.3 L592.3 270.2 L592.9 270.4 L593.6 270.4 L594.2 270.5 L594.9 270.1 L595.5 270.4 L596.2 270.5 L596.8 270.5 L597.5 270.5 L598.1 270.3 L598.8 270.8 L599.4 270.7 L600.1 270.6 L600.7 270.1 L601.4 270.4 L602.0 270.6 L602.7 270.5 L603.3 270.3 L604.0 270.7 L604.6 270.8 L605.3 270.5 L605.9 270.7 L606.6 270.6 L607.2 270.9 L607.9 270.5 L608.6 270.5 L609.2 270.8 L609.9 270.8 L610.5 271.3 L611.2 270.8 L611.8 271.0 L612.5 270.9 L613.1 270.9 L613.8 271.1 L614.4 271.4 L615.1 271.1 L615.7 271.3 L616.4 271.3 L617.0 271.3 L617.7 271.3 L618.3 271.7 L619.0 271.1 L619.6 271.3 L620.3 271.2 L620.9 271.1 L621.6 271.4 L622.2 271.8 L622.9 271.7 L623.5 271.8 L624.2 271.7 L624.8 271.6 L625.5 272.0 L626.1 271.6 L626.8 272.0 L627.4 271.7 L628.1 271.8 L628.8 271.9 L629.4 271.9 L630.1 272.0 L630.7 272.0 L631.4 272.3 L632.0 272.0 L632.7 271.7 L633.3 271.7 L634.0 271.9 L634.6 272.0 L635.3 272.3 L635.9 272.0 L636.6 272.3 L637.2 272.3 L637.9 272.4 L638.5 272.4 L639.2 272.5 L639.8 272.5 L640.5 272.7 L641.1 272.6 L641.8 272.2 L642.4 272.6 L643.1 272.7 L643.7 272.6 L644.4 272.6 L645.0 273.0 L645.7 272.9 L646.3 272.7 L647.0 272.9 L647.6 272.9 L648.3 272.7 L649.0 273.2 L649.6 273.1 L650.3 273.2 L650.9 272.9 L651.6 273.6 L652.2 273.4 L652.9 273.4 L653.5 273.2 L654.2 273.3 L654.8 273.2 L655.5 273.8 L656.1 273.4 L656.8 273.6 L657.4 273.8 L658.1 273.6 L658.7 273.9 L659.4 274.1 L660.0 273.9 L660.7 274.1 L661.3 274.0 L662.0 273.9 L662.6 273.9 L663.3 273.8 L663.9 274.1 L664.6 274.4 L665.2 274.3 L665.9 274.4 L666.5 274.5 L667.2 274.3 L667.8 274.5 L668.5 274.8" stroke="#4376e2" stroke-width="1.6" fill="none" stroke-linejoin="round"/>
<path d="M488.3 396.6H513.3" stroke="#4376e2" stroke-width="1.6"/><path d="M488.3 409.1H513.3" stroke="#5bbb73" stroke-width="1.6"/>
</g>
<g font-family="Liberation Sans, sans-serif" font-weight="bold" fill="#111"><text x="403.8" y="428.5" font-size="12" text-anchor="end" >60</text>
<text x="403.8" y="406.1" font-size="12" text-anchor="end" >65</text>
<text x="403.8" y="383.7" font-size="12" text-anchor="end" >70</text>
<text x="403.8" y="361.3" font-size="12" text-anchor="end" >75</text>
<text x="403.8" y="338.8" font-size="12" text-anchor="end" >80</text>
<text x="403.8" y="316.4" font-size="12" text-anchor="end" >85</text>
<text x="403.8" y="294.0" font-size="12" text-anchor="end" >90</text>
<text x="403.8" y="271.6" font-size="12" text-anchor="end" >95</text>
<text x="403.8" y="249.2" font-size="12" text-anchor="end" >100</text>
<text x="420.9" y="449.6" font-size="12" text-anchor="middle" >400</text>
<text x="482.8" y="449.6" font-size="12" text-anchor="middle" >500</text>
<text x="544.7" y="449.6" font-size="12" text-anchor="middle" >600</text>
<text x="606.6" y="449.6" font-size="12" text-anchor="middle" >700</text>
<text x="668.5" y="449.6" font-size="12" text-anchor="middle" >800</text>
<text x="516.0" y="400.3" font-size="10.7" text-anchor="start" >Embedded AgNWs in PUA</text>
<text x="516.0" y="412.8" font-size="10.7" text-anchor="start" >Transferred AgNW on PUA</text>
<text x="538.2" y="471.0" font-size="14.8" text-anchor="middle" >Wavelength (nm)</text>
<text transform="translate(378.6,341.5) rotate(-90)" font-size="14.9" text-anchor="middle">Transmittance (%)</text>
</g>
<g><path d="M88.6 621.0 L88.8 629.3 L89.1 615.5 L89.3 616.1 L89.6 615.0 L89.8 612.4 L90.1 612.4 L90.3 608.8 L90.6 608.0 L90.8 606.3 L91.1 605.2 L91.3 606.1 L91.6 603.5 L91.8 606.2 L92.1 604.5 L92.3 607.8 L92.6 606.3 L92.8 608.4 L93.1 608.3 L93.3 610.1 L93.6 613.2 L93.8 615.5 L94.1 610.4 L94.3 617.1 L94.6 613.0 L94.8 608.4 L95.1 604.4 L95.3 602.2 L95.5 601.3 L95.8 600.2 L96.0 597.3 L96.3 596.2 L96.5 595.7 L96.8 597.3 L97.0 596.5 L97.3 597.3 L97.5 599.3 L97.8 597.6 L98.0 599.4 L98.3 601.1 L98.5 600.2 L98.8 602.2 L99.0 604.2 L99.3 608.8 L99.5 603.9 L99.8 612.2 L100.0 604.6 L100.3 599.1 L100.5 599.2 L100.8 597.0 L101.0 595.4 L101.3 593.1 L101.5 592.3 L101.8 592.0 L102.0 592.7 L102.2 591.7 L102.5 592.6 L102.7 594.1 L103.0 593.3 L103.2 595.2 L103.5 597.6 L103.7 596.6 L104.0 599.6 L104.2 600.3 L104.5 605.7 L104.7 611.2 L105.0 604.0 L105.2 608.2 L105.5 603.3 L105.7 596.0 L106.0 596.9 L106.2 595.2 L106.5 593.0 L106.7 593.3 L107.0 591.8 L107.2 593.1 L107.5 591.2 L107.7 592.2 L108.0 591.8 L108.2 592.9 L108.4 595.5 L108.7 597.0 L108.9 597.2 L109.2 596.6 L109.4 598.3 L109.7 600.2 L109.9 607.1 L110.2 612.5 L110.4 600.2 L110.7 602.2 L110.9 597.8 L111.2 594.6 L111.4 593.7 L111.7 593.6 L111.9 592.2 L112.2 590.1 L112.4 589.3 L112.7 588.9 L112.9 586.4 L113.2 589.6 L113.4 589.9 L113.7 591.9 L113.9 592.2 L114.2 592.3 L114.4 593.4 L114.7 595.5 L114.9 596.3 L115.1 599.3 L115.4 606.9 L115.6 611.5 L115.9 601.5 L116.1 596.6 L116.4 593.8 L116.6 594.2 L116.9 592.4 L117.1 588.3 L117.4 591.8 L117.6 588.2 L117.9 586.1 L118.1 586.5 L118.4 586.1 L118.6 587.6 L118.9 585.6 L119.1 590.2 L119.4 591.6 L119.6 590.9 L119.9 590.9 L120.1 593.8 L120.4 594.3 L120.6 599.5 L120.9 604.9 L121.1 593.2 L121.4 591.3 L121.6 589.8 L121.8 590.5 L122.1 589.9 L122.3 588.6 L122.6 586.4 L122.8 584.5 L123.1 583.8 L123.3 585.3 L123.6 583.3 L123.8 583.9 L124.1 584.5 L124.3 585.4 L124.6 586.5 L124.8 586.7 L125.1 588.3 L125.3 589.5 L125.6 591.9 L125.8 592.8 L126.1 594.2 L126.3 596.3 L126.6 591.8 L126.8 594.3 L127.1 588.1 L127.3 587.9 L127.6 586.4 L127.8 584.9 L128.1 584.0 L128.3 583.5 L128.5 584.2 L128.8 579.7 L129.0 583.6 L129.3 582.7 L129.5 582.3 L129.8 583.5 L130.0 584.3 L130.3 585.1 L130.5 585.8 L130.8 588.1 L131.0 586.7 L131.3 593.9 L131.5 597.8 L131.8 600.4 L132.0 595.9 L132.3 586.8 L132.5 584.3 L132.8 585.0 L133.0 583.7 L133.3 580.9 L133.5 580.1 L133.8 577.6 L134.0 578.0 L134.3 578.5 L134.5 579.4 L134.8 579.4 L135.0 580.6 L135.2 582.8 L135.5 582.3 L135.7 583.6 L136.0 584.9 L136.2 586.4 L136.5 586.0 L136.7 590.9 L137.0 598.3 L137.2 599.6 L137.5 593.8 L137.7 587.8 L138.0 584.9 L138.2 584.1 L138.5 582.7 L138.7 580.3 L139.0 580.1 L139.2 580.7 L139.5 579.5 L139.7 579.7 L140.0 579.2 L140.2 581.3 L140.5 581.1 L140.7 581.1 L141.0 582.9 L141.2 585.1 L141.5 586.0 L141.7 586.7 L141.9 588.6 L142.2 593.3 L142.4 585.5 L142.7 585.0 L142.9 580.4 L143.2 580.5 L143.4 578.6 L143.7 577.3 L143.9 577.6 L144.2 575.7 L144.4 574.1 L144.7 572.5 L144.9 573.1 L145.2 576.8 L145.4 574.2 L145.7 574.3 L145.9 574.1 L146.2 575.8 L146.4 575.0 L146.7 577.3 L146.9 578.8 L147.2 580.8 L147.4 586.5 L147.7 591.7 L147.9 583.7 L148.1 589.1 L148.4 582.0 L148.6 579.4 L148.9 578.8 L149.1 577.2 L149.4 576.2 L149.6 574.6 L149.9 574.5 L150.1 572.8 L150.4 575.3 L150.6 573.9 L150.9 576.0 L151.1 575.5 L151.4 575.3 L151.6 576.9 L151.9 578.2 L152.1 579.3 L152.4 579.1 L152.6 584.0 L152.9 582.8 L153.1 592.7 L153.4 590.3 L153.6 583.0 L153.9 578.7 L154.1 576.2 L154.4 574.2 L154.6 575.1 L154.8 572.8 L155.1 572.1 L155.3 573.1 L155.6 570.6 L155.8 571.3 L156.1 569.5 L156.3 572.6 L156.6 570.6 L156.8 574.0 L157.1 572.4 L157.3 575.2 L157.6 576.6 L157.8 577.7 L158.1 580.1 L158.3 585.2 L158.6 588.7 L158.8 579.9 L159.1 581.6 L159.3 579.6 L159.6 575.5 L159.8 572.9 L160.1 572.1 L160.3 571.4 L160.6 571.0 L160.8 570.6 L161.1 569.9 L161.3 569.4 L161.5 572.3 L161.8 570.4 L162.0 573.6 L162.3 573.3 L162.5 574.9 L162.8 575.9 L163.0 578.0 L163.3 579.5 L163.5 580.0 L163.8 582.0 L164.0 576.4 L164.3 583.0 L164.5 577.8 L164.8 575.1 L165.0 574.2 L165.3 574.5 L165.5 571.0 L165.8 569.4 L166.0 570.5 L166.3 568.3 L166.5 569.5 L166.8 568.6 L167.0 568.8 L167.3 569.5 L167.5 570.5 L167.8 572.8 L168.0 572.3 L168.2 575.0 L168.5 575.6 L168.7 577.3 L169.0 583.2 L169.2 587.3 L169.5 574.7 L169.7 578.2 L170.0 573.2 L170.2 572.0 L170.5 568.6 L170.7 568.4 L171.0 569.7 L171.2 565.5 L171.5 563.2 L171.7 563.0 L172.0 565.8 L172.2 565.6 L172.5 565.8 L172.7 566.3 L173.0 568.2 L173.2 570.5 L173.5 569.7 L173.7 571.2 L174.0 574.9 L174.2 575.2 L174.5 575.4 L174.7 574.0 L174.9 578.2 L175.2 571.7 L175.4 568.6 L175.7 567.9 L175.9 568.0 L176.2 564.7 L176.4 562.8 L176.7 561.3 L176.9 562.8 L177.2 562.5 L177.4 561.3 L177.7 561.9 L177.9 563.8 L178.2 564.3 L178.4 567.0 L178.7 566.7 L178.9 569.5 L179.2 570.1 L179.4 571.5 L179.7 576.2 L179.9 585.0 L180.2 574.1 L180.4 575.6 L180.7 570.1 L180.9 569.1 L181.1 566.7 L181.4 565.2 L181.6 563.9 L181.9 564.8 L182.1 563.1 L182.4 562.9 L182.6 563.5 L182.9 564.6 L183.1 563.7 L183.4 565.4 L183.6 563.1 L183.9 566.6 L184.1 567.9 L184.4 569.4 L184.6 568.3 L184.9 572.9 L185.1 578.2 L185.4 582.4 L185.6 578.5 L185.9 571.8 L186.1 566.3 L186.4 567.7 L186.6 564.8 L186.9 561.9 L187.1 563.1 L187.4 561.9 L187.6 561.9 L187.8 563.4 L188.1 560.8 L188.3 560.0 L188.6 562.5 L188.8 564.9 L189.1 563.6 L189.3 564.9 L189.6 565.2 L189.8 566.6 L190.1 569.6 L190.3 570.1 L190.6 578.6 L190.8 576.6 L191.1 566.5 L191.3 565.4 L191.6 562.5 L191.8 562.6 L192.1 561.2 L192.3 560.9 L192.6 561.2 L192.8 558.3 L193.1 557.3 L193.3 558.5 L193.6 556.9 L193.8 558.2 L194.1 558.6 L194.3 560.9 L194.5 563.1 L194.8 561.5 L195.0 563.0 L195.3 565.1 L195.5 567.5 L195.8 568.4 L196.0 571.2 L196.3 578.6 L196.5 573.8 L196.8 566.1 L197.0 566.5 L197.3 563.9 L197.5 562.6 L197.8 560.9 L198.0 562.1 L198.3 558.2 L198.5 558.3 L198.8 558.3 L199.0 558.3 L199.3 561.2 L199.5 564.7 L199.8 561.9 L200.0 561.9 L200.3 563.3 L200.5 566.5 L200.8 567.6 L201.0 568.5 L201.2 577.7 L201.5 580.6 L201.7 569.4 L202.0 565.4 L202.2 566.7 L202.5 562.6 L202.7 563.0 L203.0 563.7 L203.2 558.5 L203.5 561.1 L203.7 558.7 L204.0 557.2 L204.2 559.9 L204.5 561.3 L204.7 559.6 L205.0 561.6 L205.2 564.0 L205.5 565.0 L205.7 565.6 L206.0 565.5 L206.2 568.3 L206.5 571.1 L206.7 564.1 L207.0 562.8 L207.2 561.0 L207.5 559.7 L207.7 561.5 L207.9 556.9 L208.2 556.7 L208.4 556.1 L208.7 556.1 L208.9 555.9 L209.2 554.8 L209.4 553.5 L209.7 555.2 L209.9 555.5 L210.2 556.1 L210.4 555.6 L210.7 557.8 L210.9 558.8 L211.2 558.5 L211.4 561.7 L211.7 562.2 L211.9 569.5 L212.2 574.8 L212.4 572.7 L212.7 566.0 L212.9 562.6 L213.2 561.2 L213.4 559.2 L213.7 558.2 L213.9 555.5 L214.2 554.7 L214.4 556.3 L214.6 553.8 L214.9 555.2 L215.1 554.7 L215.4 556.5 L215.6 558.4 L215.9 556.7 L216.1 558.5 L216.4 561.6 L216.6 563.6 L216.9 563.8 L217.1 565.8 L217.4 569.4 L217.6 566.6 L217.9 564.1 L218.1 564.5 L218.4 561.2 L218.6 560.0 L218.9 560.5 L219.1 560.8 L219.4 557.0 L219.6 556.4 L219.9 553.9 L220.1 554.6 L220.4 555.7 L220.6 555.4 L220.8 559.1 L221.1 558.7 L221.3 560.3 L221.6 559.3 L221.8 561.9 L222.1 567.2 L222.3 563.8 L222.6 570.7 L222.8 571.4 L223.1 572.3 L223.3 560.8 L223.6 559.7 L223.8 557.9 L224.1 557.8 L224.3 554.0 L224.6 554.0 L224.8 553.5 L225.1 552.0 L225.3 552.8 L225.6 550.1 L225.8 552.4 L226.1 553.0 L226.3 553.8 L226.6 556.2 L226.8 557.6 L227.1 557.3 L227.3 558.5 L227.5 558.9 L227.8 562.3 L228.0 569.2 L228.3 570.1 L228.5 566.5 L228.8 559.7 L229.0 556.7 L229.3 556.7 L229.5 552.7 L229.8 553.6 L230.0 551.2 L230.3 552.6 L230.5 549.4 L230.8 550.7 L231.0 548.9 L231.3 548.7 L231.5 550.1 L231.8 553.6 L232.0 554.4 L232.3 555.4 L232.5 555.0 L232.8 556.7 L233.0 558.4 L233.3 561.7 L233.5 569.1 L233.8 560.7 L234.0 563.6 L234.2 559.7 L234.5 556.5 L234.7 557.5 L235.0 555.6 L235.2 553.8 L235.5 553.4 L235.7 551.0 L236.0 549.5 L236.2 551.0 L236.5 551.4 L236.7 552.1 L237.0 552.2 L237.2 553.9 L237.5 553.9 L237.7 555.3 L238.0 556.5 L238.2 557.5 L238.5 559.7 L238.7 561.2 L239.0 560.1 L239.2 569.1 L239.5 561.6 L239.7 557.8 L240.0 556.3 L240.2 555.0 L240.5 554.2 L240.7 552.2 L240.9 552.0 L241.2 551.0 L241.4 548.7 L241.7 550.3 L241.9 549.5 L242.2 551.1 L242.4 551.4 L242.7 554.0 L242.9 554.3 L243.2 552.8 L243.4 556.1 L243.7 557.5 L243.9 561.0 L244.2 566.0 L244.4 556.9 L244.7 554.9 L244.9 554.1 L245.2 550.1 L245.4 550.0 L245.7 548.5 L245.9 547.6 L246.2 546.4 L246.4 546.6 L246.7 546.2 L246.9 544.4 L247.2 546.5 L247.4 546.3 L247.6 546.7 L247.9 548.1 L248.1 547.7 L248.4 549.6 L248.6 550.5 L248.9 552.9 L249.1 554.0 L249.4 556.6 L249.6 552.4 L249.9 561.0 L250.1 549.1 L250.4 548.8 L250.6 546.4 L250.9 543.4 L251.1 544.3 L251.4 542.3 L251.6 541.4 L251.9 541.3 L252.1 541.7 L252.4 539.6 L252.6 540.5 L252.9 541.4 L253.1 542.3 L253.4 543.3 L253.6 545.4 L253.8 545.3 L254.1 548.9 L254.3 548.4 L254.6 551.4 L254.8 551.7 L255.1 553.5 L255.3 561.1 L255.6 554.7 L255.8 548.9 L256.1 548.4 L256.3 547.3 L256.6 546.1 L256.8 542.9 L257.1 543.0 L257.3 542.4 L257.6 543.8 L257.8 542.0 L258.1 544.7 L258.3 543.5 L258.6 546.1 L258.8 543.8 L259.1 548.9 L259.3 546.9 L259.6 548.8 L259.8 553.2 L260.1 552.9 L260.3 554.1 L260.5 562.3 L260.8 560.5 L261.0 553.1 L261.3 550.8 L261.5 549.1 L261.8 547.4 L262.0 543.6 L262.3 544.4 L262.5 544.0 L262.8 543.5 L263.0 542.1 L263.3 542.5 L263.5 544.9 L263.8 543.1 L264.0 546.8 L264.3 547.0 L264.5 547.4 L264.8 547.3 L265.0 550.9 L265.3 552.1 L265.5 555.0 L265.8 549.3 L266.0 556.2 L266.3 545.6 L266.5 545.8 L266.8 543.2 L267.0 541.5 L267.2 541.3 L267.5 538.4 L267.7 541.4 L268.0 539.5 L268.2 536.3 L268.5 537.5 L268.7 539.1 L269.0 538.7 L269.2 538.8 L269.5 541.6 L269.7 541.2 L270.0 543.4 L270.2 544.7 L270.5 546.1 L270.7 546.3 L271.0 550.3 L271.2 556.6 L271.5 544.6 L271.7 547.6 L272.0 544.3 L272.2 540.2 L272.5 539.5 L272.7 538.5 L273.0 537.2 L273.2 537.5 L273.5 532.6 L273.7 536.4 L273.9 536.1 L274.2 537.8 L274.4 537.4 L274.7 536.2 L274.9 538.9 L275.2 539.4 L275.4 541.9 L275.7 540.7 L275.9 544.2 L276.2 549.0 L276.4 555.9 L276.7 558.2 L276.9 546.0 L277.2 546.4 L277.4 543.4 L277.7 542.2 L277.9 542.1 L278.2 541.6 L278.4 537.9 L278.7 538.3 L278.9 537.3 L279.2 537.9 L279.4 540.0 L279.7 539.9 L279.9 537.8 L280.2 541.1 L280.4 541.7 L280.6 544.1 L280.9 544.4 L281.1 545.7 L281.4 547.5 L281.6 551.8 L281.9 554.4 L282.1 552.8 L282.4 542.0 L282.6 540.1 L282.9 539.2 L283.1 535.8 L283.4 536.3 L283.6 535.3 L283.9 535.3 L284.1 532.7 L284.4 534.4 L284.6 535.2 L284.9 535.0 L285.1 534.0 L285.4 536.8 L285.6 535.1 L285.9 537.7 L286.1 540.5 L286.4 540.5 L286.6 539.8 L286.9 544.1 L287.1 551.6 L287.3 550.5 L287.6 545.5 L287.8 537.3 L288.1 537.3 L288.3 535.4 L288.6 533.9 L288.8 531.9 L289.1 529.8 L289.3 531.4 L289.6 529.2 L289.8 530.6 L290.1 530.0 L290.3 532.2 L290.6 532.8 L290.8 532.4 L291.1 534.9 L291.3 534.2 L291.6 537.0 L291.8 537.7 L292.1 539.7 L292.3 541.1 L292.6 545.3 L292.8 542.6 L293.1 538.7 L293.3 541.9 L293.5 538.8 L293.8 538.0 L294.0 537.6 L294.3 535.2 L294.5 535.5 L294.8 533.8 L295.0 531.8 L295.3 535.3 L295.5 533.3 L295.8 533.7 L296.0 536.1 L296.3 535.5 L296.5 536.8 L296.8 538.7 L297.0 538.3 L297.3 542.5 L297.5 542.6 L297.8 548.5 L298.0 555.5 L298.3 544.0 L298.5 542.6 L298.8 540.3 L299.0 540.9 L299.3 538.2 L299.5 537.3 L299.8 534.0 L300.0 536.1 L300.2 533.0 L300.5 535.6 L300.7 533.5 L301.0 534.6 L301.2 534.8 L301.5 536.8 L301.7 539.2 L302.0 539.9 L302.2 538.0 L302.5 540.6 L302.7 543.4 L303.0 544.4 L303.2 542.2 L303.5 540.5 L303.7 539.3 L304.0 535.2 L304.2 533.1 L304.5 534.7 L304.7 532.1 L305.0 530.2 L305.2 528.0 L305.5 532.1 L305.7 528.6 L306.0 527.9 L306.2 530.6 L306.5 529.1 L306.7 530.1 L306.7 652.8 L306.5 654.5 L306.2 653.1 L306.0 652.3 L305.7 650.6 L305.5 651.8 L305.2 651.4 L305.0 649.8 L304.7 649.3 L304.5 650.2 L304.2 649.6 L304.0 649.8 L303.7 648.3 L303.5 647.5 L303.2 650.0 L303.0 649.6 L302.7 650.5 L302.5 650.4 L302.2 650.5 L302.0 649.3 L301.7 651.3 L301.5 652.9 L301.2 654.8 L301.0 655.3 L300.7 654.7 L300.5 650.4 L300.2 649.3 L300.0 649.4 L299.8 652.3 L299.5 650.7 L299.3 649.9 L299.0 651.0 L298.8 652.2 L298.5 650.1 L298.3 649.0 L298.0 647.9 L297.8 649.5 L297.5 649.5 L297.3 649.7 L297.0 650.5 L296.8 650.5 L296.5 650.6 L296.3 652.6 L296.0 654.1 L295.8 653.8 L295.5 654.5 L295.3 652.5 L295.0 651.3 L294.8 652.0 L294.5 650.6 L294.3 651.5 L294.0 652.6 L293.8 652.0 L293.5 651.7 L293.3 650.8 L293.1 648.7 L292.8 647.1 L292.6 648.2 L292.3 650.8 L292.1 650.1 L291.8 651.1 L291.6 650.9 L291.3 649.8 L291.1 651.2 L290.8 651.6 L290.6 654.3 L290.3 654.9 L290.1 655.2 L289.8 652.1 L289.6 651.4 L289.3 650.4 L289.1 651.3 L288.8 652.7 L288.6 650.9 L288.3 651.2 L288.1 652.1 L287.8 650.5 L287.6 649.2 L287.3 648.9 L287.1 650.4 L286.9 650.7 L286.6 651.5 L286.4 651.6 L286.1 651.9 L285.9 650.5 L285.6 650.8 L285.4 653.5 L285.1 655.1 L284.9 655.0 L284.6 653.2 L284.4 651.8 L284.1 652.6 L283.9 651.6 L283.6 651.1 L283.4 651.6 L283.1 650.9 L282.9 650.6 L282.6 650.5 L282.4 649.8 L282.1 649.3 L281.9 649.5 L281.6 649.5 L281.4 651.2 L281.1 652.3 L280.9 650.8 L280.6 651.9 L280.4 651.2 L280.2 653.1 L279.9 652.7 L279.7 655.9 L279.4 653.8 L279.2 652.2 L278.9 651.7 L278.7 650.8 L278.4 651.4 L278.2 651.3 L277.9 652.3 L277.7 651.5 L277.4 651.5 L277.2 649.6 L276.9 649.4 L276.7 648.3 L276.4 648.8 L276.2 649.2 L275.9 650.1 L275.7 650.6 L275.4 652.4 L275.2 650.9 L274.9 651.2 L274.7 653.6 L274.4 654.5 L274.2 656.0 L273.9 655.0 L273.7 653.0 L273.5 649.9 L273.2 651.2 L273.0 651.1 L272.7 651.5 L272.5 651.0 L272.2 651.8 L272.0 651.4 L271.7 650.6 L271.5 649.1 L271.2 647.8 L271.0 649.1 L270.7 650.6 L270.5 651.0 L270.2 652.1 L270.0 650.8 L269.7 651.4 L269.5 651.7 L269.2 652.6 L269.0 656.7 L268.7 654.9 L268.5 653.1 L268.2 651.9 L268.0 650.6 L267.7 652.6 L267.5 652.6 L267.2 650.4 L267.0 652.5 L266.8 650.6 L266.5 651.4 L266.3 651.2 L266.0 649.8 L265.8 648.8 L265.5 651.2 L265.3 650.7 L265.0 650.7 L264.8 651.8 L264.5 651.3 L264.3 651.4 L264.0 652.0 L263.8 654.7 L263.5 657.0 L263.3 654.3 L263.0 652.5 L262.8 652.8 L262.5 652.3 L262.3 650.1 L262.0 651.4 L261.8 652.5 L261.5 651.5 L261.3 650.0 L261.0 651.7 L260.8 648.7 L260.5 647.8 L260.3 650.5 L260.1 651.4 L259.8 653.0 L259.6 653.4 L259.3 651.3 L259.1 651.2 L258.8 651.5 L258.6 652.5 L258.3 656.4 L258.1 657.6 L257.8 653.1 L257.6 652.5 L257.3 652.1 L257.1 650.9 L256.8 651.1 L256.6 651.0 L256.3 653.3 L256.1 652.9 L255.8 651.5 L255.6 651.5 L255.3 651.4 L255.1 649.1 L254.8 650.7 L254.6 649.4 L254.3 652.1 L254.1 651.1 L253.8 651.8 L253.6 654.5 L253.4 652.4 L253.1 655.2 L252.9 654.3 L252.6 654.5 L252.4 653.2 L252.1 652.8 L251.9 651.8 L251.6 651.8 L251.4 651.5 L251.1 651.7 L250.9 652.0 L250.6 651.9 L250.4 652.5 L250.1 651.0 L249.9 648.2 L249.6 649.5 L249.4 651.5 L249.1 650.7 L248.9 652.4 L248.6 651.8 L248.4 652.3 L248.1 652.4 L247.9 652.8 L247.6 656.1 L247.4 656.9 L247.2 653.9 L246.9 653.5 L246.7 652.5 L246.4 651.1 L246.2 652.7 L245.9 651.7 L245.7 652.2 L245.4 652.3 L245.2 651.5 L244.9 651.6 L244.7 649.7 L244.4 648.4 L244.2 650.1 L243.9 652.1 L243.7 652.5 L243.4 653.1 L243.2 651.8 L242.9 650.5 L242.7 652.6 L242.4 654.8 L242.2 654.8 L241.9 656.3 L241.7 653.7 L241.4 652.9 L241.2 652.4 L240.9 652.7 L240.7 652.0 L240.5 651.9 L240.2 652.6 L240.0 651.4 L239.7 652.2 L239.5 651.4 L239.2 649.5 L239.0 650.2 L238.7 653.5 L238.5 651.8 L238.2 651.3 L238.0 652.7 L237.7 651.5 L237.5 652.2 L237.2 653.3 L237.0 653.9 L236.7 657.2 L236.5 656.0 L236.2 653.7 L236.0 651.9 L235.7 652.1 L235.5 652.1 L235.2 651.2 L235.0 652.2 L234.7 652.9 L234.5 653.5 L234.2 652.0 L234.0 650.5 L233.8 648.5 L233.5 649.8 L233.3 651.8 L233.0 653.2 L232.8 652.5 L232.5 652.6 L232.3 653.2 L232.0 652.1 L231.8 654.7 L231.5 655.1 L231.3 658.1 L231.0 655.7 L230.8 652.7 L230.5 653.5 L230.3 650.4 L230.0 653.3 L229.8 651.8 L229.5 651.1 L229.3 653.0 L229.0 651.6 L228.8 651.5 L228.5 649.5 L228.3 650.3 L228.0 649.8 L227.8 652.9 L227.5 653.0 L227.3 652.8 L227.1 652.8 L226.8 652.7 L226.6 654.8 L226.3 654.3 L226.1 657.2 L225.8 658.0 L225.6 655.2 L225.3 653.5 L225.1 653.0 L224.8 651.1 L224.6 653.0 L224.3 653.6 L224.1 652.5 L223.8 652.4 L223.6 653.5 L223.3 651.8 L223.1 650.0 L222.8 651.6 L222.6 651.6 L222.3 652.5 L222.1 652.6 L221.8 652.3 L221.6 653.0 L221.3 653.6 L221.1 652.9 L220.8 656.1 L220.6 657.1 L220.4 656.7 L220.1 653.9 L219.9 652.2 L219.6 651.9 L219.4 653.1 L219.1 652.8 L218.9 654.4 L218.6 654.1 L218.4 652.3 L218.1 650.5 L217.9 651.0 L217.6 649.2 L217.4 651.7 L217.1 651.9 L216.9 653.3 L216.6 652.2 L216.4 653.3 L216.1 653.5 L215.9 654.0 L215.6 654.1 L215.4 657.3 L215.1 657.7 L214.9 655.1 L214.6 654.1 L214.4 654.6 L214.2 653.2 L213.9 652.4 L213.7 651.9 L213.4 653.3 L213.2 652.1 L212.9 652.0 L212.7 652.8 L212.4 649.4 L212.2 650.3 L211.9 652.3 L211.7 652.9 L211.4 652.8 L211.2 652.9 L210.9 654.0 L210.7 653.5 L210.4 654.8 L210.2 655.2 L209.9 657.3 L209.7 657.8 L209.4 655.0 L209.2 654.4 L208.9 652.4 L208.7 653.2 L208.4 653.3 L208.2 652.3 L207.9 652.2 L207.7 653.6 L207.5 652.2 L207.2 652.6 L207.0 651.4 L206.7 652.7 L206.5 652.7 L206.2 654.7 L206.0 652.1 L205.7 653.6 L205.5 652.8 L205.2 653.6 L205.0 653.6 L204.7 656.3 L204.5 657.4 L204.2 656.9 L204.0 654.1 L203.7 653.7 L203.5 654.4 L203.2 652.8 L203.0 653.7 L202.7 653.7 L202.5 653.7 L202.2 654.0 L202.0 652.6 L201.7 651.6 L201.5 650.5 L201.2 652.0 L201.0 652.6 L200.8 653.9 L200.5 652.8 L200.3 652.1 L200.0 653.0 L199.8 652.8 L199.5 655.1 L199.3 657.2 L199.0 658.1 L198.8 656.1 L198.5 654.8 L198.3 653.7 L198.0 654.6 L197.8 652.0 L197.5 653.8 L197.3 652.2 L197.0 653.3 L196.8 652.8 L196.5 651.3 L196.3 652.0 L196.0 650.0 L195.8 653.7 L195.5 652.1 L195.3 652.2 L195.0 652.9 L194.8 653.8 L194.5 653.0 L194.3 654.0 L194.1 655.8 L193.8 657.4 L193.6 657.0 L193.3 654.4 L193.1 654.3 L192.8 653.2 L192.6 652.3 L192.3 653.4 L192.1 653.7 L191.8 654.3 L191.6 652.3 L191.3 654.0 L191.1 652.7 L190.8 650.4 L190.6 652.7 L190.3 652.6 L190.1 653.4 L189.8 654.1 L189.6 654.0 L189.3 655.0 L189.1 653.9 L188.8 655.8 L188.6 658.3 L188.3 659.1 L188.1 657.2 L187.8 653.8 L187.6 653.4 L187.4 653.4 L187.1 654.5 L186.9 653.5 L186.6 653.2 L186.4 653.4 L186.1 653.8 L185.9 653.6 L185.6 651.4 L185.4 650.8 L185.1 651.9 L184.9 652.8 L184.6 654.3 L184.4 653.7 L184.1 653.2 L183.9 654.4 L183.6 655.3 L183.4 657.4 L183.1 657.4 L182.9 659.6 L182.6 657.0 L182.4 653.3 L182.1 655.2 L181.9 652.8 L181.6 653.1 L181.4 653.1 L181.1 653.2 L180.9 653.4 L180.7 652.8 L180.4 651.1 L180.2 650.7 L179.9 650.7 L179.7 652.7 L179.4 653.8 L179.2 654.6 L178.9 654.3 L178.7 654.1 L178.4 653.9 L178.2 654.6 L177.9 657.0 L177.7 658.1 L177.4 658.0 L177.2 655.4 L176.9 653.6 L176.7 653.8 L176.4 653.6 L176.2 654.4 L175.9 654.1 L175.7 654.7 L175.4 653.3 L175.2 653.7 L174.9 652.3 L174.7 651.2 L174.5 652.2 L174.2 652.3 L174.0 654.8 L173.7 652.6 L173.5 653.8 L173.2 653.9 L173.0 655.2 L172.7 656.9 L172.5 659.6 L172.2 659.9 L172.0 658.7 L171.7 655.5 L171.5 654.2 L171.2 654.5 L171.0 654.4 L170.7 656.4 L170.5 654.3 L170.2 654.5 L170.0 654.4 L169.7 652.0 L169.5 650.2 L169.2 652.0 L169.0 653.7 L168.7 655.5 L168.5 654.8 L168.2 655.7 L168.0 654.4 L167.8 653.4 L167.5 656.0 L167.3 658.0 L167.0 660.2 L166.8 660.1 L166.5 657.5 L166.3 656.3 L166.0 653.1 L165.8 653.4 L165.5 654.1 L165.3 653.8 L165.0 655.1 L164.8 653.3 L164.5 654.5 L164.3 652.5 L164.0 652.9 L163.8 652.9 L163.5 655.0 L163.3 654.6 L163.0 654.0 L162.8 654.6 L162.5 653.9 L162.3 655.2 L162.0 658.2 L161.8 662.4 L161.5 662.3 L161.3 659.5 L161.1 657.2 L160.8 655.0 L160.6 655.8 L160.3 653.3 L160.1 655.4 L159.8 655.3 L159.6 654.9 L159.3 654.2 L159.1 654.7 L158.8 652.7 L158.6 651.5 L158.3 652.8 L158.1 654.8 L157.8 656.1 L157.6 655.2 L157.3 654.5 L157.1 654.8 L156.8 655.2 L156.6 659.3 L156.3 663.0 L156.1 662.7 L155.8 659.4 L155.6 655.5 L155.3 656.8 L155.1 654.2 L154.8 654.9 L154.6 655.0 L154.4 655.9 L154.1 654.5 L153.9 654.7 L153.6 653.8 L153.4 651.3 L153.1 652.2 L152.9 654.7 L152.6 655.5 L152.4 655.4 L152.1 653.9 L151.9 655.0 L151.6 654.1 L151.4 657.2 L151.1 660.4 L150.9 664.3 L150.6 660.9 L150.4 657.0 L150.1 656.1 L149.9 654.8 L149.6 655.5 L149.4 655.4 L149.1 655.1 L148.9 655.0 L148.6 655.9 L148.4 654.6 L148.1 652.8 L147.9 652.4 L147.7 652.9 L147.4 654.6 L147.2 655.5 L146.9 655.8 L146.7 655.8 L146.4 655.0 L146.2 655.6 L145.9 658.2 L145.7 663.0 L145.4 665.0 L145.2 662.6 L144.9 658.0 L144.7 654.5 L144.4 655.2 L144.2 655.6 L143.9 655.2 L143.7 654.0 L143.4 655.8 L143.2 654.6 L142.9 653.9 L142.7 653.2 L142.4 651.0 L142.2 653.7 L141.9 655.9 L141.7 655.2 L141.5 654.0 L141.2 654.4 L141.0 655.0 L140.7 656.4 L140.5 660.5 L140.2 664.4 L140.0 664.1 L139.7 660.4 L139.5 657.2 L139.2 654.3 L139.0 655.3 L138.7 656.2 L138.5 655.5 L138.2 655.2 L138.0 655.2 L137.7 655.8 L137.5 655.9 L137.2 652.3 L137.0 653.8 L136.7 655.2 L136.5 656.8 L136.2 654.0 L136.0 654.0 L135.7 654.5 L135.5 654.9 L135.2 660.5 L135.0 663.7 L134.8 667.4 L134.5 663.8 L134.3 658.5 L134.0 656.7 L133.8 656.2 L133.5 656.1 L133.3 655.1 L133.0 655.4 L132.8 655.2 L132.5 656.6 L132.3 654.4 L132.0 654.6 L131.8 653.8 L131.5 655.8 L131.3 655.0 L131.0 655.3 L130.8 655.4 L130.5 654.8 L130.3 656.9 L130.0 656.0 L129.8 660.4 L129.5 666.2 L129.3 668.6 L129.0 663.4 L128.8 657.8 L128.5 657.2 L128.3 655.3 L128.1 657.3 L127.8 656.7 L127.6 656.3 L127.3 656.4 L127.1 657.3 L126.8 655.0 L126.6 653.7 L126.3 653.8 L126.1 654.0 L125.8 656.6 L125.6 655.3 L125.3 657.3 L125.1 657.6 L124.8 655.6 L124.6 658.5 L124.3 662.4 L124.1 669.1 L123.8 666.6 L123.6 660.9 L123.3 656.9 L123.1 656.4 L122.8 656.0 L122.6 655.2 L122.3 654.7 L122.1 655.4 L121.8 655.2 L121.6 656.8 L121.4 654.3 L121.1 652.3 L120.9 655.4 L120.6 656.5 L120.4 656.1 L120.1 655.3 L119.9 655.6 L119.6 655.5 L119.4 657.1 L119.1 659.9 L118.9 667.9 L118.6 670.0 L118.4 665.4 L118.1 660.0 L117.9 656.3 L117.6 655.5 L117.4 657.1 L117.1 656.8 L116.9 655.4 L116.6 655.4 L116.4 656.0 L116.1 655.1 L115.9 655.5 L115.6 654.2 L115.4 653.8 L115.1 656.3 L114.9 655.9 L114.7 657.2 L114.4 656.3 L114.2 657.0 L113.9 658.2 L113.7 663.7 L113.4 670.9 L113.2 670.9 L112.9 664.6 L112.7 658.9 L112.4 658.4 L112.2 656.9 L111.9 656.1 L111.7 657.9 L111.4 657.2 L111.2 655.4 L110.9 656.1 L110.7 655.5 L110.4 654.0 L110.2 655.1 L109.9 655.3 L109.7 655.9 L109.4 657.2 L109.2 657.5 L108.9 655.7 L108.7 657.6 L108.4 661.3 L108.2 667.1 L108.0 673.1 L107.7 670.1 L107.5 663.0 L107.2 657.9 L107.0 658.1 L106.7 656.2 L106.5 655.9 L106.2 655.6 L106.0 656.1 L105.7 657.7 L105.5 656.3 L105.2 656.2 L105.0 654.5 L104.7 653.5 L104.5 655.8 L104.2 656.6 L104.0 657.3 L103.7 657.0 L103.5 657.7 L103.2 658.7 L103.0 662.2 L102.7 670.7 L102.5 673.4 L102.2 666.8 L102.0 659.2 L101.8 658.4 L101.5 657.1 L101.3 658.4 L101.0 655.7 L100.8 656.6 L100.5 657.1 L100.3 655.7 L100.0 659.1 L99.8 655.0 L99.5 654.9 L99.3 656.9 L99.0 657.3 L98.8 657.9 L98.5 658.1 L98.3 656.9 L98.0 657.7 L97.8 660.1 L97.5 668.3 L97.3 674.6 L97.0 672.4 L96.8 665.8 L96.5 659.2 L96.3 657.7 L96.0 658.6 L95.8 658.7 L95.5 658.8 L95.3 657.5 L95.1 657.0 L94.8 657.5 L94.6 656.7 L94.3 655.5 L94.1 657.3 L93.8 657.9 L93.6 657.0 L93.3 658.1 L93.1 656.5 L92.8 657.6 L92.6 659.2 L92.3 663.1 L92.1 671.7 L91.8 676.7 L91.6 671.4 L91.3 663.4 L91.1 658.3 L90.8 656.2 L90.6 657.8 L90.3 657.8 L90.1 658.1 L89.8 657.5 L89.6 657.4 L89.3 657.0 L89.1 656.0 L88.8 656.1 L88.6 655.9Z" fill="#5bbb73"/>
<path d="M88.6 623.6 L88.8 627.3 L89.1 624.0 L89.3 621.1 L89.6 618.6 L89.8 618.6 L90.1 618.7 L90.3 619.3 L90.6 616.6 L90.8 616.8 L91.1 616.7 L91.3 617.8 L91.6 617.6 L91.8 616.0 L92.1 616.8 L92.3 618.1 L92.6 617.5 L92.8 617.4 L93.1 617.8 L93.3 618.4 L93.6 617.0 L93.8 619.3 L94.1 623.6 L94.3 625.7 L94.6 621.3 L94.8 617.9 L95.1 616.4 L95.3 617.2 L95.5 615.8 L95.8 616.4 L96.0 616.9 L96.3 618.5 L96.5 617.0 L96.8 617.2 L97.0 616.3 L97.3 616.0 L97.5 615.3 L97.8 616.5 L98.0 617.6 L98.3 614.9 L98.5 616.7 L98.8 617.3 L99.0 618.1 L99.3 621.7 L99.5 623.5 L99.8 622.6 L100.0 617.7 L100.3 616.1 L100.5 615.9 L100.8 615.4 L101.0 616.5 L101.3 616.4 L101.5 615.9 L101.8 616.7 L102.0 615.7 L102.2 615.9 L102.5 615.3 L102.7 615.9 L103.0 617.6 L103.2 616.2 L103.5 615.2 L103.7 618.0 L104.0 617.2 L104.2 616.9 L104.5 619.3 L104.7 622.2 L105.0 623.9 L105.2 622.1 L105.5 617.4 L105.7 616.1 L106.0 617.2 L106.2 615.9 L106.5 614.9 L106.7 615.8 L107.0 615.1 L107.2 614.7 L107.5 615.4 L107.7 614.5 L108.0 615.1 L108.2 616.4 L108.4 615.3 L108.7 615.2 L108.9 615.3 L109.2 616.7 L109.4 615.9 L109.7 615.7 L109.9 618.8 L110.2 621.7 L110.4 621.8 L110.7 619.1 L110.9 616.0 L111.2 616.1 L111.4 614.8 L111.7 615.6 L111.9 615.8 L112.2 615.2 L112.4 615.0 L112.7 614.5 L112.9 614.5 L113.2 616.0 L113.4 615.7 L113.7 615.0 L113.9 615.0 L114.2 615.5 L114.4 613.5 L114.7 614.9 L114.9 616.1 L115.1 616.3 L115.4 618.9 L115.6 622.8 L115.9 622.7 L116.1 617.4 L116.4 615.7 L116.6 613.6 L116.9 616.7 L117.1 613.8 L117.4 615.0 L117.6 613.9 L117.9 614.8 L118.1 614.2 L118.4 613.6 L118.6 614.6 L118.9 613.9 L119.1 615.0 L119.4 615.4 L119.6 615.4 L119.9 615.7 L120.1 615.6 L120.4 614.7 L120.6 618.4 L120.9 622.4 L121.1 622.6 L121.4 617.9 L121.6 615.3 L121.8 614.1 L122.1 613.9 L122.3 615.4 L122.6 614.5 L122.8 616.6 L123.1 614.8 L123.3 613.6 L123.6 615.3 L123.8 615.9 L124.1 615.4 L124.3 614.3 L124.6 613.6 L124.8 612.6 L125.1 613.7 L125.3 616.2 L125.6 617.1 L125.8 615.7 L126.1 617.4 L126.3 623.2 L126.6 621.8 L126.8 617.8 L127.1 615.2 L127.3 614.8 L127.6 614.0 L127.8 613.4 L128.1 614.1 L128.3 613.3 L128.5 612.2 L128.8 614.5 L129.0 614.6 L129.3 613.4 L129.5 612.4 L129.8 614.0 L130.0 613.3 L130.3 614.6 L130.5 613.7 L130.8 615.2 L131.0 614.3 L131.3 615.7 L131.5 619.0 L131.8 620.8 L132.0 618.7 L132.3 616.4 L132.5 613.8 L132.8 615.6 L133.0 613.2 L133.3 611.6 L133.5 613.2 L133.8 613.1 L134.0 613.3 L134.3 612.5 L134.5 613.7 L134.8 612.9 L135.0 613.8 L135.2 614.1 L135.5 613.8 L135.7 614.1 L136.0 615.6 L136.2 612.6 L136.5 614.6 L136.7 618.0 L137.0 619.4 L137.2 621.2 L137.5 617.4 L137.7 614.2 L138.0 614.7 L138.2 616.1 L138.5 613.6 L138.7 613.2 L139.0 612.4 L139.2 613.7 L139.5 613.1 L139.7 612.5 L140.0 613.3 L140.2 613.3 L140.5 613.1 L140.7 614.2 L141.0 612.2 L141.2 614.4 L141.5 613.8 L141.7 614.3 L141.9 615.3 L142.2 617.1 L142.4 620.1 L142.7 618.5 L142.9 615.4 L143.2 614.3 L143.4 612.7 L143.7 614.5 L143.9 613.1 L144.2 612.5 L144.4 612.3 L144.7 613.5 L144.9 613.7 L145.2 611.2 L145.4 613.1 L145.7 614.2 L145.9 614.0 L146.2 613.1 L146.4 612.3 L146.7 613.4 L146.9 612.5 L147.2 613.6 L147.4 614.7 L147.7 617.9 L147.9 621.1 L148.1 617.6 L148.4 614.8 L148.6 613.8 L148.9 612.5 L149.1 613.5 L149.4 612.6 L149.6 613.1 L149.9 612.4 L150.1 612.6 L150.4 611.2 L150.6 612.2 L150.9 612.3 L151.1 611.1 L151.4 615.0 L151.6 613.7 L151.9 615.2 L152.1 613.1 L152.4 612.8 L152.6 613.2 L152.9 615.7 L153.1 620.3 L153.4 618.4 L153.6 615.7 L153.9 613.7 L154.1 613.7 L154.4 612.2 L154.6 612.8 L154.8 612.6 L155.1 611.9 L155.3 611.7 L155.6 612.4 L155.8 610.8 L156.1 612.7 L156.3 613.0 L156.6 611.9 L156.8 612.2 L157.1 612.4 L157.3 612.9 L157.6 612.7 L157.8 613.4 L158.1 615.2 L158.3 616.4 L158.6 620.8 L158.8 618.3 L159.1 613.7 L159.3 612.7 L159.6 610.1 L159.8 613.3 L160.1 612.6 L160.3 611.7 L160.6 610.5 L160.8 611.7 L161.1 612.5 L161.3 610.5 L161.5 612.4 L161.8 611.9 L162.0 611.1 L162.3 612.5 L162.5 612.5 L162.8 611.9 L163.0 612.6 L163.3 612.5 L163.5 615.1 L163.8 618.2 L164.0 620.4 L164.3 617.5 L164.5 611.6 L164.8 611.8 L165.0 611.1 L165.3 612.5 L165.5 611.6 L165.8 611.5 L166.0 612.4 L166.3 610.6 L166.5 611.6 L166.8 611.3 L167.0 612.5 L167.3 610.6 L167.5 610.9 L167.8 611.3 L168.0 612.5 L168.2 612.4 L168.5 611.1 L168.7 613.0 L169.0 615.0 L169.2 618.7 L169.5 619.2 L169.7 613.1 L170.0 613.8 L170.2 611.4 L170.5 611.5 L170.7 612.6 L171.0 610.8 L171.2 610.5 L171.5 610.7 L171.7 611.2 L172.0 610.3 L172.2 609.9 L172.5 610.7 L172.7 609.6 L173.0 610.5 L173.2 610.7 L173.5 610.3 L173.7 612.1 L174.0 612.3 L174.2 612.6 L174.5 615.9 L174.7 617.7 L174.9 615.5 L175.2 612.7 L175.4 611.3 L175.7 611.4 L175.9 611.3 L176.2 611.2 L176.4 609.9 L176.7 610.8 L176.9 610.6 L177.2 610.0 L177.4 610.7 L177.7 610.6 L177.9 612.4 L178.2 610.4 L178.4 611.1 L178.7 610.8 L178.9 610.8 L179.2 612.8 L179.4 609.7 L179.7 613.4 L179.9 617.1 L180.2 619.6 L180.4 613.9 L180.7 611.3 L180.9 611.1 L181.1 610.4 L181.4 609.4 L181.6 610.5 L181.9 610.8 L182.1 608.8 L182.4 609.5 L182.6 609.9 L182.9 608.0 L183.1 609.9 L183.4 610.3 L183.6 610.0 L183.9 610.7 L184.1 610.3 L184.4 610.5 L184.6 611.4 L184.9 611.8 L185.1 614.2 L185.4 617.5 L185.6 616.1 L185.9 612.0 L186.1 610.5 L186.4 609.9 L186.6 610.4 L186.9 610.1 L187.1 608.9 L187.4 611.2 L187.6 609.1 L187.8 606.7 L188.1 610.9 L188.3 608.3 L188.6 611.1 L188.8 609.5 L189.1 608.6 L189.3 608.9 L189.6 611.0 L189.8 611.4 L190.1 611.8 L190.3 611.5 L190.6 615.9 L190.8 617.7 L191.1 614.5 L191.3 611.0 L191.6 609.8 L191.8 609.8 L192.1 611.1 L192.3 608.4 L192.6 611.7 L192.8 608.3 L193.1 609.6 L193.3 609.2 L193.6 609.6 L193.8 609.6 L194.1 609.5 L194.3 609.9 L194.5 610.7 L194.8 609.2 L195.0 610.5 L195.3 609.1 L195.5 610.9 L195.8 613.5 L196.0 616.3 L196.3 616.1 L196.5 613.7 L196.8 610.7 L197.0 608.7 L197.3 610.5 L197.5 610.2 L197.8 609.2 L198.0 610.1 L198.3 611.0 L198.5 610.2 L198.8 608.6 L199.0 608.5 L199.3 608.7 L199.5 609.0 L199.8 610.4 L200.0 609.0 L200.3 608.8 L200.5 610.4 L200.8 609.3 L201.0 611.3 L201.2 614.0 L201.5 616.9 L201.7 616.5 L202.0 610.3 L202.2 610.6 L202.5 609.6 L202.7 609.7 L203.0 608.8 L203.2 608.6 L203.5 608.8 L203.7 607.5 L204.0 608.3 L204.2 609.0 L204.5 611.2 L204.7 609.2 L205.0 609.3 L205.2 609.9 L205.5 610.1 L205.7 609.0 L206.0 608.8 L206.2 608.5 L206.5 610.7 L206.7 616.0 L207.0 616.6 L207.2 614.6 L207.5 609.7 L207.7 609.1 L207.9 609.7 L208.2 609.1 L208.4 609.0 L208.7 609.2 L208.9 607.4 L209.2 605.8 L209.4 607.7 L209.7 607.6 L209.9 608.5 L210.2 609.0 L210.4 607.1 L210.7 609.3 L210.9 608.8 L211.2 609.4 L211.4 609.0 L211.7 610.2 L211.9 612.2 L212.2 617.3 L212.4 615.7 L212.7 610.6 L212.9 610.4 L213.2 609.6 L213.4 607.7 L213.7 608.4 L213.9 607.6 L214.2 610.2 L214.4 608.1 L214.6 609.1 L214.9 609.3 L215.1 607.9 L215.4 607.4 L215.6 609.8 L215.9 609.6 L216.1 609.3 L216.4 609.1 L216.6 610.2 L216.9 607.5 L217.1 610.1 L217.4 614.2 L217.6 616.9 L217.9 612.1 L218.1 608.5 L218.4 609.4 L218.6 608.4 L218.9 607.5 L219.1 609.4 L219.4 608.7 L219.6 606.9 L219.9 608.5 L220.1 608.2 L220.4 609.1 L220.6 608.7 L220.8 607.7 L221.1 609.0 L221.3 609.6 L221.6 609.2 L221.8 607.3 L222.1 608.8 L222.3 609.9 L222.6 611.2 L222.8 614.7 L223.1 615.7 L223.3 613.7 L223.6 609.2 L223.8 608.8 L224.1 607.7 L224.3 609.4 L224.6 607.2 L224.8 608.3 L225.1 609.2 L225.3 606.5 L225.6 608.0 L225.8 607.5 L226.1 608.0 L226.3 607.1 L226.6 607.3 L226.8 607.4 L227.1 607.9 L227.3 609.9 L227.5 610.2 L227.8 609.4 L228.0 613.3 L228.3 615.4 L228.5 614.3 L228.8 611.8 L229.0 609.6 L229.3 609.2 L229.5 608.8 L229.8 608.1 L230.0 607.2 L230.3 606.5 L230.5 608.3 L230.8 607.8 L231.0 606.1 L231.3 606.8 L231.5 607.5 L231.8 609.8 L232.0 608.8 L232.3 608.0 L232.5 608.8 L232.8 606.8 L233.0 608.7 L233.3 609.9 L233.5 614.6 L233.8 616.6 L234.0 613.3 L234.2 609.9 L234.5 608.4 L234.7 607.7 L235.0 607.6 L235.2 606.8 L235.5 608.6 L235.7 607.1 L236.0 606.9 L236.2 605.8 L236.5 607.4 L236.7 607.1 L237.0 608.2 L237.2 607.3 L237.5 607.5 L237.7 608.5 L238.0 608.4 L238.2 608.3 L238.5 608.3 L238.7 612.0 L239.0 614.0 L239.2 615.1 L239.5 609.4 L239.7 607.3 L240.0 608.2 L240.2 608.2 L240.5 605.5 L240.7 606.8 L240.9 606.7 L241.2 607.3 L241.4 606.9 L241.7 606.2 L241.9 606.5 L242.2 607.9 L242.4 606.3 L242.7 607.2 L242.9 608.4 L243.2 606.9 L243.4 608.0 L243.7 607.5 L243.9 609.5 L244.2 611.9 L244.4 616.5 L244.7 612.9 L244.9 610.7 L245.2 607.7 L245.4 609.6 L245.7 607.4 L245.9 606.6 L246.2 606.6 L246.4 605.9 L246.7 607.6 L246.9 605.3 L247.2 605.4 L247.4 607.8 L247.6 607.6 L247.9 607.6 L248.1 607.3 L248.4 607.2 L248.6 609.6 L248.9 607.2 L249.1 608.3 L249.4 610.6 L249.6 612.7 L249.9 615.1 L250.1 610.5 L250.4 607.9 L250.6 607.7 L250.9 606.2 L251.1 606.4 L251.4 607.3 L251.6 608.0 L251.9 607.0 L252.1 605.9 L252.4 606.6 L252.6 605.0 L252.9 606.4 L253.1 606.6 L253.4 606.6 L253.6 607.8 L253.8 607.3 L254.1 607.9 L254.3 609.5 L254.6 609.7 L254.8 610.1 L255.1 614.7 L255.3 613.7 L255.6 610.9 L255.8 608.1 L256.1 606.4 L256.3 606.8 L256.6 607.1 L256.8 605.3 L257.1 606.4 L257.3 606.5 L257.6 605.1 L257.8 607.6 L258.1 605.8 L258.3 607.4 L258.6 607.2 L258.8 607.3 L259.1 606.8 L259.3 606.9 L259.6 606.9 L259.8 607.2 L260.1 607.4 L260.3 610.6 L260.5 613.9 L260.8 611.3 L261.0 608.7 L261.3 608.0 L261.5 606.2 L261.8 606.5 L262.0 605.7 L262.3 607.7 L262.5 603.9 L262.8 607.0 L263.0 605.8 L263.3 605.1 L263.5 607.2 L263.8 606.7 L264.0 608.0 L264.3 607.7 L264.5 608.3 L264.8 606.7 L265.0 606.7 L265.3 607.7 L265.5 608.3 L265.8 612.0 L266.0 613.8 L266.3 610.3 L266.5 607.6 L266.8 607.0 L267.0 605.3 L267.2 606.1 L267.5 606.4 L267.7 606.1 L268.0 605.3 L268.2 605.9 L268.5 605.4 L268.7 605.8 L269.0 604.8 L269.2 605.1 L269.5 607.3 L269.7 606.5 L270.0 605.9 L270.2 607.0 L270.5 606.1 L270.7 607.3 L271.0 610.0 L271.2 613.8 L271.5 612.2 L271.7 608.1 L272.0 607.9 L272.2 607.0 L272.5 606.9 L272.7 604.5 L273.0 605.5 L273.2 605.3 L273.5 605.3 L273.7 605.7 L273.9 606.0 L274.2 604.9 L274.4 606.0 L274.7 604.5 L274.9 605.8 L275.2 606.0 L275.4 606.4 L275.7 606.5 L275.9 606.7 L276.2 606.9 L276.4 609.8 L276.7 614.6 L276.9 610.4 L277.2 606.7 L277.4 607.0 L277.7 606.5 L277.9 606.2 L278.2 607.6 L278.4 604.9 L278.7 605.3 L278.9 605.2 L279.2 605.0 L279.4 605.0 L279.7 603.4 L279.9 605.3 L280.2 604.9 L280.4 606.2 L280.6 605.6 L280.9 606.3 L281.1 606.3 L281.4 607.5 L281.6 609.7 L281.9 612.4 L282.1 612.1 L282.4 608.5 L282.6 607.0 L282.9 605.6 L283.1 607.7 L283.4 604.7 L283.6 605.3 L283.9 604.9 L284.1 604.0 L284.4 605.2 L284.6 604.1 L284.9 605.4 L285.1 604.7 L285.4 605.6 L285.6 605.2 L285.9 604.4 L286.1 606.2 L286.4 606.4 L286.6 606.3 L286.9 606.8 L287.1 608.0 L287.3 613.6 L287.6 612.8 L287.8 607.9 L288.1 607.1 L288.3 605.9 L288.6 605.3 L288.8 605.9 L289.1 605.5 L289.3 606.3 L289.6 604.5 L289.8 605.1 L290.1 603.8 L290.3 603.9 L290.6 605.7 L290.8 605.4 L291.1 605.2 L291.3 604.7 L291.6 606.9 L291.8 605.7 L292.1 604.5 L292.3 607.8 L292.6 611.3 L292.8 612.7 L293.1 610.3 L293.3 605.5 L293.5 605.2 L293.8 605.0 L294.0 604.4 L294.3 604.2 L294.5 606.2 L294.8 604.1 L295.0 604.8 L295.3 604.2 L295.5 605.0 L295.8 605.3 L296.0 603.9 L296.3 604.9 L296.5 605.2 L296.8 605.4 L297.0 605.2 L297.3 605.5 L297.5 608.1 L297.8 609.5 L298.0 612.5 L298.3 610.9 L298.5 606.5 L298.8 606.3 L299.0 603.4 L299.3 604.7 L299.5 604.2 L299.8 604.9 L300.0 604.8 L300.2 603.0 L300.5 604.2 L300.7 604.2 L301.0 603.3 L301.2 602.9 L301.5 605.7 L301.7 604.8 L302.0 604.8 L302.2 603.4 L302.5 603.0 L302.7 605.4 L303.0 606.2 L303.2 609.3 L303.5 611.5 L303.7 610.1 L304.0 605.5 L304.2 605.5 L304.5 606.8 L304.7 605.6 L305.0 604.1 L305.2 603.5 L305.5 605.8 L305.7 605.3 L306.0 603.7 L306.2 606.6 L306.5 603.5 L306.7 603.3 L306.7 652.2 L306.5 652.3 L306.2 653.1 L306.0 653.1 L305.7 652.3 L305.5 650.8 L305.2 651.0 L305.0 650.7 L304.7 650.4 L304.5 649.2 L304.2 649.7 L304.0 650.5 L303.7 648.7 L303.5 646.6 L303.2 648.8 L303.0 650.4 L302.7 650.1 L302.5 650.6 L302.2 650.1 L302.0 650.3 L301.7 651.1 L301.5 650.8 L301.2 651.6 L301.0 653.8 L300.7 653.1 L300.5 651.8 L300.2 649.8 L300.0 650.2 L299.8 650.0 L299.5 649.5 L299.3 649.9 L299.0 649.8 L298.8 651.6 L298.5 649.8 L298.3 649.2 L298.0 648.3 L297.8 650.2 L297.5 650.8 L297.3 651.0 L297.0 649.9 L296.8 650.2 L296.5 649.9 L296.3 651.6 L296.0 651.6 L295.8 650.2 L295.5 652.4 L295.3 651.7 L295.0 651.6 L294.8 651.5 L294.5 650.9 L294.3 651.4 L294.0 651.0 L293.8 651.4 L293.5 650.7 L293.3 651.3 L293.1 647.9 L292.8 647.1 L292.6 648.1 L292.3 651.1 L292.1 649.8 L291.8 650.6 L291.6 650.7 L291.3 649.8 L291.1 650.9 L290.8 651.1 L290.6 652.2 L290.3 652.5 L290.1 652.4 L289.8 653.0 L289.6 653.1 L289.3 650.7 L289.1 651.7 L288.8 653.1 L288.6 651.4 L288.3 652.1 L288.1 651.4 L287.8 649.4 L287.6 648.0 L287.3 648.8 L287.1 649.5 L286.9 650.1 L286.6 650.5 L286.4 651.8 L286.1 653.2 L285.9 651.2 L285.6 650.6 L285.4 650.3 L285.1 651.7 L284.9 652.5 L284.6 653.5 L284.4 652.7 L284.1 652.1 L283.9 651.7 L283.6 652.0 L283.4 650.6 L283.1 650.8 L282.9 651.9 L282.6 651.3 L282.4 650.8 L282.1 649.4 L281.9 649.0 L281.6 648.6 L281.4 651.2 L281.1 651.8 L280.9 651.2 L280.6 651.1 L280.4 652.2 L280.2 652.8 L279.9 651.0 L279.7 653.6 L279.4 653.4 L279.2 653.0 L278.9 651.2 L278.7 651.5 L278.4 652.5 L278.2 650.5 L277.9 651.5 L277.7 652.2 L277.4 650.9 L277.2 650.9 L276.9 649.9 L276.7 648.2 L276.4 648.1 L276.2 649.9 L275.9 650.9 L275.7 650.4 L275.4 651.2 L275.2 650.1 L274.9 651.2 L274.7 651.9 L274.4 651.9 L274.2 653.2 L273.9 654.5 L273.7 652.3 L273.5 651.1 L273.2 650.2 L273.0 650.6 L272.7 651.8 L272.5 651.6 L272.2 650.7 L272.0 650.4 L271.7 650.2 L271.5 649.1 L271.2 647.5 L271.0 650.1 L270.7 650.6 L270.5 650.9 L270.2 651.5 L270.0 651.2 L269.7 651.1 L269.5 652.0 L269.2 651.4 L269.0 654.0 L268.7 653.6 L268.5 653.6 L268.2 653.1 L268.0 652.3 L267.7 652.7 L267.5 652.8 L267.2 651.0 L267.0 650.2 L266.8 651.7 L266.5 651.5 L266.3 652.5 L266.0 650.2 L265.8 648.8 L265.5 650.4 L265.3 651.2 L265.0 650.6 L264.8 650.1 L264.5 651.5 L264.3 651.2 L264.0 651.3 L263.8 652.0 L263.5 652.4 L263.3 653.9 L263.0 654.0 L262.8 653.8 L262.5 651.2 L262.3 652.1 L262.0 652.1 L261.8 652.8 L261.5 650.7 L261.3 649.7 L261.0 651.3 L260.8 649.2 L260.5 648.1 L260.3 649.8 L260.1 651.5 L259.8 653.1 L259.6 652.4 L259.3 651.6 L259.1 651.9 L258.8 651.1 L258.6 652.6 L258.3 653.7 L258.1 653.0 L257.8 653.7 L257.6 651.6 L257.3 653.6 L257.1 651.6 L256.8 651.7 L256.6 650.2 L256.3 652.5 L256.1 652.8 L255.8 652.2 L255.6 651.2 L255.3 650.2 L255.1 649.6 L254.8 650.4 L254.6 650.3 L254.3 651.1 L254.1 651.4 L253.8 652.5 L253.6 652.9 L253.4 652.4 L253.1 653.3 L252.9 652.3 L252.6 654.2 L252.4 653.4 L252.1 653.1 L251.9 652.2 L251.6 652.2 L251.4 652.0 L251.1 651.5 L250.9 650.9 L250.6 652.7 L250.4 650.8 L250.1 650.0 L249.9 648.5 L249.6 649.1 L249.4 652.4 L249.1 651.4 L248.9 651.8 L248.6 652.3 L248.4 652.8 L248.1 652.3 L247.9 651.8 L247.6 653.1 L247.4 654.0 L247.2 652.9 L246.9 653.0 L246.7 652.7 L246.4 651.6 L246.2 653.3 L245.9 652.7 L245.7 651.0 L245.4 651.2 L245.2 653.0 L244.9 651.7 L244.7 650.2 L244.4 648.0 L244.2 650.7 L243.9 652.7 L243.7 651.3 L243.4 652.4 L243.2 651.7 L242.9 650.7 L242.7 652.3 L242.4 653.1 L242.2 652.1 L241.9 654.7 L241.7 654.1 L241.4 654.3 L241.2 654.1 L240.9 653.0 L240.7 652.5 L240.5 651.8 L240.2 652.1 L240.0 651.9 L239.7 652.1 L239.5 651.7 L239.2 648.8 L239.0 649.3 L238.7 651.8 L238.5 652.3 L238.2 652.4 L238.0 652.0 L237.7 650.5 L237.5 652.5 L237.2 652.5 L237.0 652.6 L236.7 654.0 L236.5 655.0 L236.2 653.6 L236.0 653.5 L235.7 652.8 L235.5 652.8 L235.2 651.5 L235.0 652.8 L234.7 652.1 L234.5 653.1 L234.2 652.3 L234.0 650.3 L233.8 649.1 L233.5 650.0 L233.3 652.1 L233.0 652.9 L232.8 653.2 L232.5 651.4 L232.3 652.2 L232.0 652.4 L231.8 652.4 L231.5 652.5 L231.3 655.3 L231.0 654.8 L230.8 652.9 L230.5 653.2 L230.3 651.5 L230.0 653.4 L229.8 651.6 L229.5 650.5 L229.3 653.2 L229.0 650.7 L228.8 650.7 L228.5 650.6 L228.3 651.2 L228.0 650.5 L227.8 653.3 L227.5 653.6 L227.3 653.5 L227.1 652.3 L226.8 652.7 L226.6 654.5 L226.3 652.7 L226.1 653.7 L225.8 654.9 L225.6 656.0 L225.3 655.3 L225.1 652.6 L224.8 651.4 L224.6 653.7 L224.3 653.6 L224.1 652.0 L223.8 651.1 L223.6 653.7 L223.3 650.9 L223.1 650.8 L222.8 652.3 L222.6 652.1 L222.3 653.0 L222.1 653.3 L221.8 652.3 L221.6 654.0 L221.3 652.9 L221.1 652.0 L220.8 653.4 L220.6 653.6 L220.4 654.7 L220.1 654.3 L219.9 653.6 L219.6 653.4 L219.4 653.9 L219.1 653.0 L218.9 653.5 L218.6 652.9 L218.4 652.2 L218.1 650.3 L217.9 651.1 L217.6 649.1 L217.4 651.5 L217.1 652.4 L216.9 652.8 L216.6 652.9 L216.4 654.6 L216.1 653.0 L215.9 654.5 L215.6 653.6 L215.4 653.9 L215.1 654.6 L214.9 655.8 L214.6 654.9 L214.4 654.7 L214.2 652.0 L213.9 651.7 L213.7 651.7 L213.4 653.2 L213.2 652.2 L212.9 652.4 L212.7 654.0 L212.4 650.4 L212.2 650.1 L211.9 651.7 L211.7 652.5 L211.4 652.0 L211.2 653.2 L210.9 653.0 L210.7 652.3 L210.4 652.9 L210.2 653.6 L209.9 654.1 L209.7 654.8 L209.4 654.9 L209.2 654.8 L208.9 653.2 L208.7 654.2 L208.4 652.9 L208.2 653.7 L207.9 653.4 L207.7 652.9 L207.5 651.4 L207.2 652.0 L207.0 649.6 L206.7 651.2 L206.5 652.8 L206.2 653.2 L206.0 652.8 L205.7 654.2 L205.5 652.2 L205.2 654.1 L205.0 653.5 L204.7 653.6 L204.5 656.0 L204.2 655.9 L204.0 655.5 L203.7 654.1 L203.5 653.0 L203.2 653.8 L203.0 654.3 L202.7 653.0 L202.5 654.1 L202.2 654.0 L202.0 652.6 L201.7 651.0 L201.5 648.6 L201.2 652.4 L201.0 652.3 L200.8 653.8 L200.5 652.6 L200.3 652.4 L200.0 654.0 L199.8 652.4 L199.5 653.7 L199.3 654.9 L199.0 656.7 L198.8 656.9 L198.5 655.4 L198.3 654.3 L198.0 654.5 L197.8 653.9 L197.5 654.5 L197.3 651.7 L197.0 653.0 L196.8 652.7 L196.5 653.0 L196.3 652.0 L196.0 649.9 L195.8 653.2 L195.5 652.8 L195.3 652.3 L195.0 653.4 L194.8 654.6 L194.5 652.3 L194.3 653.0 L194.1 654.5 L193.8 655.3 L193.6 656.1 L193.3 656.1 L193.1 655.5 L192.8 653.5 L192.6 653.4 L192.3 652.6 L192.1 653.3 L191.8 653.7 L191.6 652.6 L191.3 652.8 L191.1 652.7 L190.8 649.8 L190.6 652.1 L190.3 653.5 L190.1 652.1 L189.8 652.8 L189.6 654.2 L189.3 654.2 L189.1 654.1 L188.8 652.9 L188.6 655.8 L188.3 657.2 L188.1 657.3 L187.8 655.5 L187.6 655.4 L187.4 653.6 L187.1 653.7 L186.9 653.9 L186.6 652.6 L186.4 652.7 L186.1 654.1 L185.9 652.6 L185.6 652.4 L185.4 650.4 L185.1 651.9 L184.9 653.0 L184.6 653.2 L184.4 654.2 L184.1 653.2 L183.9 654.1 L183.6 653.8 L183.4 655.8 L183.1 655.3 L182.9 657.9 L182.6 657.4 L182.4 655.4 L182.1 655.5 L181.9 654.3 L181.6 654.2 L181.4 653.7 L181.1 653.0 L180.9 653.9 L180.7 653.5 L180.4 650.7 L180.2 650.6 L179.9 650.1 L179.7 653.5 L179.4 654.0 L179.2 653.4 L178.9 653.8 L178.7 654.6 L178.4 654.1 L178.2 654.5 L177.9 654.7 L177.7 655.8 L177.4 659.1 L177.2 656.3 L176.9 655.3 L176.7 653.5 L176.4 653.4 L176.2 655.0 L175.9 655.2 L175.7 654.8 L175.4 653.8 L175.2 653.4 L174.9 652.1 L174.7 650.8 L174.5 652.7 L174.2 654.2 L174.0 655.0 L173.7 653.0 L173.5 654.3 L173.2 654.9 L173.0 654.2 L172.7 655.2 L172.5 655.8 L172.2 658.0 L172.0 658.8 L171.7 656.9 L171.5 655.7 L171.2 655.2 L171.0 653.5 L170.7 656.6 L170.5 654.0 L170.2 654.5 L170.0 655.1 L169.7 652.1 L169.5 650.7 L169.2 653.2 L169.0 653.9 L168.7 655.3 L168.5 654.4 L168.2 655.5 L168.0 653.6 L167.8 654.4 L167.5 654.7 L167.3 656.4 L167.0 655.8 L166.8 659.2 L166.5 659.1 L166.3 656.0 L166.0 654.8 L165.8 654.1 L165.5 655.1 L165.3 653.2 L165.0 654.2 L164.8 653.2 L164.5 653.3 L164.3 652.7 L164.0 652.0 L163.8 652.9 L163.5 654.3 L163.3 653.5 L163.0 654.0 L162.8 653.4 L162.5 653.4 L162.3 656.2 L162.0 656.9 L161.8 657.4 L161.5 657.8 L161.3 659.5 L161.1 660.0 L160.8 656.9 L160.6 656.0 L160.3 655.7 L160.1 655.5 L159.8 655.1 L159.6 655.2 L159.3 654.9 L159.1 653.8 L158.8 652.8 L158.6 651.6 L158.3 653.2 L158.1 654.7 L157.8 655.0 L157.6 654.2 L157.3 655.4 L157.1 655.1 L156.8 655.5 L156.6 655.4 L156.3 658.3 L156.1 659.5 L155.8 661.2 L155.6 659.5 L155.3 656.7 L155.1 654.9 L154.8 654.7 L154.6 655.6 L154.4 654.9 L154.1 655.4 L153.9 656.6 L153.6 653.7 L153.4 652.1 L153.1 652.1 L152.9 654.5 L152.6 654.5 L152.4 655.2 L152.1 654.3 L151.9 653.9 L151.6 654.1 L151.4 655.2 L151.1 657.0 L150.9 660.0 L150.6 659.1 L150.4 659.9 L150.1 658.1 L149.9 656.5 L149.6 654.5 L149.4 655.4 L149.1 655.3 L148.9 654.9 L148.6 654.6 L148.4 654.6 L148.1 652.0 L147.9 652.8 L147.7 652.7 L147.4 654.8 L147.2 655.1 L146.9 655.4 L146.7 655.1 L146.4 655.9 L146.2 656.5 L145.9 655.9 L145.7 658.5 L145.4 660.9 L145.2 662.0 L144.9 660.5 L144.7 657.2 L144.4 656.8 L144.2 656.0 L143.9 654.8 L143.7 655.4 L143.4 656.6 L143.2 655.2 L142.9 655.4 L142.7 655.0 L142.4 652.1 L142.2 653.8 L141.9 655.9 L141.7 655.8 L141.5 655.2 L141.2 654.7 L141.0 655.6 L140.7 656.5 L140.5 657.2 L140.2 660.0 L140.0 661.4 L139.7 661.8 L139.5 660.3 L139.2 656.7 L139.0 657.2 L138.7 656.2 L138.5 656.1 L138.2 653.6 L138.0 656.6 L137.7 656.0 L137.5 654.4 L137.2 652.1 L137.0 653.1 L136.7 654.5 L136.5 656.8 L136.2 655.0 L136.0 655.0 L135.7 654.8 L135.5 655.6 L135.2 658.8 L135.0 658.4 L134.8 660.5 L134.5 662.5 L134.3 662.2 L134.0 658.1 L133.8 658.4 L133.5 656.1 L133.3 656.2 L133.0 655.5 L132.8 654.6 L132.5 656.6 L132.3 654.3 L132.0 653.2 L131.8 652.7 L131.5 655.0 L131.3 654.7 L131.0 656.1 L130.8 655.6 L130.5 654.7 L130.3 656.0 L130.0 655.4 L129.8 658.0 L129.5 659.9 L129.3 663.9 L129.0 664.1 L128.8 661.2 L128.5 659.1 L128.3 659.1 L128.1 656.6 L127.8 656.0 L127.6 656.1 L127.3 656.3 L127.1 656.9 L126.8 654.5 L126.6 654.0 L126.3 653.5 L126.1 654.5 L125.8 655.4 L125.6 655.6 L125.3 656.5 L125.1 656.5 L124.8 655.9 L124.6 657.5 L124.3 657.5 L124.1 661.1 L123.8 665.2 L123.6 665.5 L123.3 661.1 L123.1 658.8 L122.8 657.0 L122.6 655.8 L122.3 655.4 L122.1 656.1 L121.8 655.1 L121.6 657.2 L121.4 655.8 L121.1 652.5 L120.9 653.9 L120.6 656.4 L120.4 657.1 L120.1 655.6 L119.9 655.7 L119.6 656.5 L119.4 656.5 L119.1 657.3 L118.9 661.2 L118.6 664.3 L118.4 665.8 L118.1 664.3 L117.9 660.2 L117.6 658.1 L117.4 655.4 L117.1 655.0 L116.9 655.3 L116.6 655.6 L116.4 655.7 L116.1 655.1 L115.9 655.7 L115.6 654.7 L115.4 654.9 L115.1 656.6 L114.9 656.9 L114.7 657.1 L114.4 657.6 L114.2 656.9 L113.9 656.9 L113.7 658.7 L113.4 662.8 L113.2 667.2 L112.9 667.5 L112.7 665.1 L112.4 660.7 L112.2 658.5 L111.9 656.3 L111.7 657.9 L111.4 658.1 L111.2 655.5 L110.9 656.9 L110.7 656.2 L110.4 653.9 L110.2 654.3 L109.9 655.4 L109.7 656.5 L109.4 656.3 L109.2 657.0 L108.9 656.0 L108.7 655.4 L108.4 659.2 L108.2 661.2 L108.0 663.3 L107.7 667.6 L107.5 668.1 L107.2 663.5 L107.0 659.7 L106.7 656.9 L106.5 656.0 L106.2 655.7 L106.0 657.7 L105.7 657.0 L105.5 655.4 L105.2 656.1 L105.0 655.2 L104.7 655.1 L104.5 656.4 L104.2 656.9 L104.0 656.8 L103.7 656.6 L103.5 657.0 L103.2 659.2 L103.0 659.7 L102.7 663.5 L102.5 668.0 L102.2 668.7 L102.0 664.5 L101.8 662.5 L101.5 657.2 L101.3 658.1 L101.0 657.3 L100.8 656.1 L100.5 657.2 L100.3 657.3 L100.0 657.7 L99.8 654.7 L99.5 654.9 L99.3 657.4 L99.0 656.9 L98.8 658.2 L98.5 658.4 L98.3 657.4 L98.0 658.4 L97.8 657.8 L97.5 662.2 L97.3 666.1 L97.0 669.1 L96.8 669.7 L96.5 665.5 L96.3 661.2 L96.0 659.9 L95.8 658.5 L95.5 657.3 L95.3 657.8 L95.1 657.1 L94.8 657.7 L94.6 655.7 L94.3 654.5 L94.1 656.6 L93.8 657.2 L93.6 656.8 L93.3 658.8 L93.1 656.5 L92.8 657.5 L92.6 658.7 L92.3 659.9 L92.1 664.1 L91.8 669.0 L91.6 671.1 L91.3 669.0 L91.1 664.2 L90.8 660.2 L90.6 658.8 L90.3 658.7 L90.1 658.2 L89.8 659.2 L89.6 656.9 L89.3 658.2 L89.1 655.4 L88.8 657.1 L88.6 657.5Z" fill="#4376e2"/>
<path d="M88.6 640.2 L88.8 640.8 L89.1 638.4 L89.3 632.1 L89.6 631.1 L89.8 631.1 L90.1 630.7 L90.3 629.8 L90.6 630.2 L90.8 630.2 L91.1 631.2 L91.3 629.5 L91.6 630.0 L91.8 628.6 L92.1 630.2 L92.3 630.3 L92.6 630.8 L92.8 629.8 L93.1 630.6 L93.3 631.2 L93.6 629.7 L93.8 632.0 L94.1 639.0 L94.3 640.8 L94.6 634.2 L94.8 631.9 L95.1 627.8 L95.3 629.9 L95.5 628.9 L95.8 630.6 L96.0 629.3 L96.3 628.2 L96.5 628.6 L96.8 629.4 L97.0 627.0 L97.3 628.5 L97.5 629.4 L97.8 629.8 L98.0 629.6 L98.3 628.3 L98.5 630.1 L98.8 629.6 L99.0 631.3 L99.3 633.3 L99.5 639.1 L99.8 636.8 L100.0 631.7 L100.3 630.0 L100.5 628.4 L100.8 628.0 L101.0 629.5 L101.3 627.8 L101.5 625.3 L101.8 628.3 L102.0 627.4 L102.2 629.1 L102.5 627.7 L102.7 628.6 L103.0 627.6 L103.2 628.3 L103.5 629.3 L103.7 627.5 L104.0 628.7 L104.2 629.6 L104.5 630.5 L104.7 636.1 L105.0 638.0 L105.2 634.5 L105.5 630.1 L105.7 627.6 L106.0 628.9 L106.2 626.9 L106.5 629.2 L106.7 626.0 L107.0 627.0 L107.2 627.2 L107.5 627.5 L107.7 626.5 L108.0 627.2 L108.2 627.3 L108.4 626.4 L108.7 627.7 L108.9 627.6 L109.2 627.1 L109.4 626.7 L109.7 628.3 L109.9 630.9 L110.2 636.1 L110.4 636.0 L110.7 630.2 L110.9 628.7 L111.2 627.2 L111.4 627.0 L111.7 626.3 L111.9 625.4 L112.2 626.5 L112.4 626.2 L112.7 625.3 L112.9 627.3 L113.2 627.0 L113.4 626.8 L113.7 626.6 L113.9 626.5 L114.2 627.2 L114.4 625.5 L114.7 627.6 L114.9 627.4 L115.1 627.6 L115.4 632.0 L115.6 637.0 L115.9 634.3 L116.1 628.7 L116.4 627.2 L116.6 626.2 L116.9 627.3 L117.1 626.4 L117.4 627.7 L117.6 626.9 L117.9 627.0 L118.1 624.9 L118.4 626.4 L118.6 625.9 L118.9 627.0 L119.1 626.5 L119.4 626.7 L119.6 627.3 L119.9 626.0 L120.1 628.2 L120.4 626.7 L120.6 627.1 L120.9 635.1 L121.1 636.6 L121.4 633.5 L121.6 627.9 L121.8 628.1 L122.1 625.9 L122.3 626.7 L122.6 627.7 L122.8 627.1 L123.1 627.2 L123.3 625.9 L123.6 625.0 L123.8 626.1 L124.1 626.9 L124.3 626.7 L124.6 626.0 L124.8 628.3 L125.1 625.9 L125.3 626.2 L125.6 628.7 L125.8 626.5 L126.1 632.2 L126.3 636.0 L126.6 634.3 L126.8 631.3 L127.1 628.5 L127.3 627.2 L127.6 627.0 L127.8 626.1 L128.1 626.3 L128.3 626.1 L128.5 625.9 L128.8 625.6 L129.0 626.2 L129.3 625.3 L129.5 625.7 L129.8 626.7 L130.0 624.4 L130.3 627.1 L130.5 625.5 L130.8 626.9 L131.0 626.2 L131.3 627.6 L131.5 631.9 L131.8 635.1 L132.0 633.8 L132.3 625.7 L132.5 625.9 L132.8 626.6 L133.0 626.9 L133.3 623.6 L133.5 624.1 L133.8 625.3 L134.0 624.5 L134.3 624.0 L134.5 625.1 L134.8 625.7 L135.0 625.4 L135.2 624.8 L135.5 625.6 L135.7 626.8 L136.0 625.2 L136.2 627.5 L136.5 627.1 L136.7 628.0 L137.0 634.0 L137.2 635.3 L137.5 630.5 L137.7 625.9 L138.0 625.8 L138.2 627.2 L138.5 625.2 L138.7 627.8 L139.0 626.8 L139.2 623.6 L139.5 623.9 L139.7 625.2 L140.0 625.0 L140.2 625.0 L140.5 624.3 L140.7 625.9 L141.0 626.1 L141.2 626.0 L141.5 625.5 L141.7 625.6 L141.9 627.1 L142.2 629.9 L142.4 636.2 L142.7 633.8 L142.9 629.0 L143.2 626.7 L143.4 624.3 L143.7 625.4 L143.9 625.9 L144.2 624.9 L144.4 625.6 L144.7 624.1 L144.9 623.8 L145.2 623.7 L145.4 625.6 L145.7 624.9 L145.9 623.4 L146.2 625.2 L146.4 624.1 L146.7 624.0 L146.9 626.5 L147.2 624.7 L147.4 626.9 L147.7 631.6 L147.9 633.9 L148.1 631.0 L148.4 626.7 L148.6 624.8 L148.9 625.3 L149.1 624.4 L149.4 626.4 L149.6 623.1 L149.9 624.9 L150.1 623.8 L150.4 623.9 L150.6 624.2 L150.9 624.3 L151.1 624.5 L151.4 626.0 L151.6 625.2 L151.9 623.9 L152.1 625.9 L152.4 626.0 L152.6 624.0 L152.9 627.7 L153.1 632.6 L153.4 634.2 L153.6 628.8 L153.9 625.0 L154.1 624.3 L154.4 624.7 L154.6 625.7 L154.8 625.0 L155.1 625.5 L155.3 622.7 L155.6 624.3 L155.8 624.1 L156.1 623.8 L156.3 624.2 L156.6 623.9 L156.8 624.9 L157.1 625.8 L157.3 623.2 L157.6 625.4 L157.8 625.4 L158.1 626.9 L158.3 630.9 L158.6 634.7 L158.8 631.6 L159.1 627.9 L159.3 624.6 L159.6 625.0 L159.8 623.3 L160.1 625.2 L160.3 623.9 L160.6 623.3 L160.8 624.9 L161.1 623.5 L161.3 623.6 L161.5 624.5 L161.8 624.1 L162.0 623.3 L162.3 624.0 L162.5 624.7 L162.8 624.6 L163.0 624.2 L163.3 623.9 L163.5 626.5 L163.8 631.6 L164.0 633.1 L164.3 631.1 L164.5 626.8 L164.8 626.2 L165.0 623.4 L165.3 625.9 L165.5 623.9 L165.8 623.1 L166.0 624.7 L166.3 624.0 L166.5 623.6 L166.8 622.9 L167.0 624.9 L167.3 623.5 L167.5 623.3 L167.8 623.8 L168.0 623.9 L168.2 623.2 L168.5 624.2 L168.7 625.2 L169.0 628.8 L169.2 633.0 L169.5 633.1 L169.7 627.0 L170.0 624.5 L170.2 623.0 L170.5 624.4 L170.7 623.6 L171.0 623.2 L171.2 623.0 L171.5 622.3 L171.7 622.7 L172.0 622.4 L172.2 621.6 L172.5 622.7 L172.7 624.4 L173.0 624.8 L173.2 623.2 L173.5 624.1 L173.7 623.7 L174.0 624.4 L174.2 624.6 L174.5 629.3 L174.7 634.9 L174.9 630.4 L175.2 626.0 L175.4 625.0 L175.7 623.0 L175.9 623.5 L176.2 622.9 L176.4 621.1 L176.7 621.9 L176.9 622.0 L177.2 623.1 L177.4 623.9 L177.7 622.0 L177.9 623.4 L178.2 623.2 L178.4 623.7 L178.7 623.4 L178.9 621.6 L179.2 624.0 L179.4 624.5 L179.7 626.6 L179.9 631.7 L180.2 634.2 L180.4 629.7 L180.7 624.9 L180.9 623.6 L181.1 623.9 L181.4 623.9 L181.6 623.7 L181.9 623.1 L182.1 622.8 L182.4 623.9 L182.6 623.0 L182.9 622.4 L183.1 622.9 L183.4 624.0 L183.6 623.3 L183.9 623.1 L184.1 622.6 L184.4 624.7 L184.6 623.0 L184.9 624.9 L185.1 628.2 L185.4 632.5 L185.6 632.1 L185.9 626.8 L186.1 623.7 L186.4 622.5 L186.6 623.3 L186.9 623.9 L187.1 623.2 L187.4 622.2 L187.6 621.4 L187.8 622.6 L188.1 622.6 L188.3 622.6 L188.6 622.6 L188.8 623.4 L189.1 623.1 L189.3 622.7 L189.6 622.9 L189.8 623.1 L190.1 624.3 L190.3 625.7 L190.6 630.8 L190.8 632.3 L191.1 627.9 L191.3 624.3 L191.6 621.8 L191.8 623.0 L192.1 622.9 L192.3 623.6 L192.6 622.2 L192.8 622.6 L193.1 622.0 L193.3 621.7 L193.6 622.4 L193.8 623.2 L194.1 622.5 L194.3 622.6 L194.5 622.6 L194.8 622.2 L195.0 623.1 L195.3 623.3 L195.5 622.3 L195.8 625.8 L196.0 632.0 L196.3 632.9 L196.5 627.3 L196.8 623.3 L197.0 622.1 L197.3 620.6 L197.5 622.7 L197.8 622.2 L198.0 622.5 L198.3 622.0 L198.5 622.2 L198.8 622.8 L199.0 621.3 L199.3 622.1 L199.5 621.3 L199.8 622.9 L200.0 622.4 L200.3 622.2 L200.5 624.3 L200.8 624.1 L201.0 623.7 L201.2 628.5 L201.5 634.3 L201.7 630.8 L202.0 625.9 L202.2 623.4 L202.5 621.3 L202.7 622.9 L203.0 620.6 L203.2 622.3 L203.5 622.6 L203.7 620.6 L204.0 621.0 L204.2 620.8 L204.5 620.4 L204.7 621.3 L205.0 621.2 L205.2 623.8 L205.5 623.1 L205.7 622.2 L206.0 622.6 L206.2 622.6 L206.5 625.8 L206.7 629.6 L207.0 630.9 L207.2 627.5 L207.5 623.1 L207.7 622.2 L207.9 621.6 L208.2 622.0 L208.4 622.5 L208.7 621.8 L208.9 621.7 L209.2 622.9 L209.4 621.5 L209.7 621.8 L209.9 621.7 L210.2 622.5 L210.4 621.8 L210.7 621.8 L210.9 623.0 L211.2 622.3 L211.4 622.1 L211.7 622.9 L211.9 627.7 L212.2 632.8 L212.4 631.2 L212.7 626.7 L212.9 621.0 L213.2 623.0 L213.4 622.8 L213.7 621.5 L213.9 622.3 L214.2 623.7 L214.4 621.8 L214.6 622.3 L214.9 622.1 L215.1 623.1 L215.4 622.6 L215.6 622.1 L215.9 622.2 L216.1 623.2 L216.4 623.0 L216.6 623.2 L216.9 622.7 L217.1 624.5 L217.4 630.0 L217.6 632.1 L217.9 629.8 L218.1 624.0 L218.4 623.3 L218.6 622.0 L218.9 622.2 L219.1 621.9 L219.4 621.4 L219.6 621.3 L219.9 621.4 L220.1 621.4 L220.4 622.6 L220.6 621.8 L220.8 623.6 L221.1 623.8 L221.3 622.4 L221.6 622.4 L221.8 621.1 L222.1 622.0 L222.3 622.1 L222.6 625.9 L222.8 630.5 L223.1 631.0 L223.3 626.6 L223.6 622.9 L223.8 622.2 L224.1 622.8 L224.3 622.6 L224.6 622.9 L224.8 621.3 L225.1 621.7 L225.3 621.9 L225.6 621.1 L225.8 622.0 L226.1 620.8 L226.3 620.2 L226.6 621.5 L226.8 622.6 L227.1 623.3 L227.3 620.6 L227.5 622.1 L227.8 624.4 L228.0 626.5 L228.3 633.4 L228.5 630.7 L228.8 625.2 L229.0 622.8 L229.3 623.0 L229.5 619.9 L229.8 622.1 L230.0 621.3 L230.3 621.4 L230.5 622.6 L230.8 621.7 L231.0 621.2 L231.3 620.7 L231.5 621.8 L231.8 621.4 L232.0 622.1 L232.3 621.5 L232.5 624.1 L232.8 621.7 L233.0 623.0 L233.3 624.9 L233.5 631.6 L233.8 633.0 L234.0 627.6 L234.2 621.7 L234.5 622.7 L234.7 622.4 L235.0 621.3 L235.2 621.3 L235.5 621.9 L235.7 621.4 L236.0 621.5 L236.2 620.6 L236.5 620.6 L236.7 619.9 L237.0 620.7 L237.2 621.1 L237.5 621.6 L237.7 621.1 L238.0 622.8 L238.2 620.4 L238.5 622.6 L238.7 624.7 L239.0 631.7 L239.2 630.3 L239.5 625.6 L239.7 622.8 L240.0 622.4 L240.2 622.4 L240.5 620.1 L240.7 620.4 L240.9 621.2 L241.2 621.0 L241.4 621.6 L241.7 622.6 L241.9 622.6 L242.2 621.8 L242.4 621.5 L242.7 622.5 L242.9 621.0 L243.2 621.4 L243.4 621.8 L243.7 623.6 L243.9 623.6 L244.2 627.8 L244.4 632.9 L244.7 631.0 L244.9 622.6 L245.2 621.5 L245.4 622.0 L245.7 620.2 L245.9 620.5 L246.2 620.9 L246.4 620.9 L246.7 620.3 L246.9 619.7 L247.2 620.9 L247.4 621.3 L247.6 620.8 L247.9 623.7 L248.1 621.4 L248.4 621.9 L248.6 621.7 L248.9 622.0 L249.1 622.0 L249.4 624.4 L249.6 629.6 L249.9 631.7 L250.1 626.6 L250.4 623.3 L250.6 620.9 L250.9 622.9 L251.1 621.2 L251.4 620.8 L251.6 622.1 L251.9 621.3 L252.1 619.7 L252.4 620.9 L252.6 621.6 L252.9 623.5 L253.1 620.9 L253.4 621.2 L253.6 620.9 L253.8 619.8 L254.1 621.7 L254.3 621.7 L254.6 623.2 L254.8 626.2 L255.1 631.1 L255.3 629.7 L255.6 624.5 L255.8 622.7 L256.1 621.9 L256.3 620.2 L256.6 622.0 L256.8 620.4 L257.1 619.6 L257.3 620.2 L257.6 620.4 L257.8 619.6 L258.1 620.6 L258.3 621.0 L258.6 621.3 L258.8 620.3 L259.1 620.8 L259.3 620.2 L259.6 621.9 L259.8 622.1 L260.1 623.8 L260.3 627.9 L260.5 632.2 L260.8 627.4 L261.0 623.1 L261.3 622.4 L261.5 623.7 L261.8 622.6 L262.0 619.8 L262.3 620.9 L262.5 620.6 L262.8 621.0 L263.0 620.2 L263.3 622.2 L263.5 622.4 L263.8 622.2 L264.0 621.0 L264.3 620.6 L264.5 620.9 L264.8 621.5 L265.0 622.6 L265.3 621.4 L265.5 625.0 L265.8 630.0 L266.0 631.0 L266.3 626.4 L266.5 622.9 L266.8 621.8 L267.0 622.2 L267.2 620.8 L267.5 621.0 L267.7 619.9 L268.0 622.1 L268.2 619.5 L268.5 620.5 L268.7 620.7 L269.0 621.4 L269.2 621.5 L269.5 622.2 L269.7 620.3 L270.0 621.4 L270.2 620.7 L270.5 620.9 L270.7 623.0 L271.0 626.7 L271.2 631.4 L271.5 628.5 L271.7 623.9 L272.0 621.5 L272.2 620.5 L272.5 621.0 L272.7 619.1 L273.0 621.4 L273.2 619.5 L273.5 619.3 L273.7 621.2 L273.9 619.7 L274.2 620.3 L274.4 619.9 L274.7 621.8 L274.9 620.7 L275.2 621.8 L275.4 621.4 L275.7 620.1 L275.9 621.7 L276.2 625.4 L276.4 629.6 L276.7 632.2 L276.9 626.3 L277.2 623.2 L277.4 622.5 L277.7 620.0 L277.9 620.6 L278.2 620.4 L278.4 621.2 L278.7 619.2 L278.9 620.4 L279.2 621.8 L279.4 621.3 L279.7 621.2 L279.9 620.7 L280.2 620.1 L280.4 621.4 L280.6 621.4 L280.9 619.3 L281.1 621.2 L281.4 622.4 L281.6 625.0 L281.9 631.2 L282.1 629.8 L282.4 624.2 L282.6 622.2 L282.9 620.1 L283.1 621.0 L283.4 620.4 L283.6 621.1 L283.9 621.0 L284.1 621.5 L284.4 619.9 L284.6 620.4 L284.9 620.5 L285.1 621.3 L285.4 621.5 L285.6 621.2 L285.9 620.4 L286.1 620.6 L286.4 621.6 L286.6 621.0 L286.9 621.1 L287.1 626.8 L287.3 629.3 L287.6 627.9 L287.8 622.1 L288.1 621.6 L288.3 619.8 L288.6 621.6 L288.8 620.3 L289.1 620.6 L289.3 621.8 L289.6 621.2 L289.8 619.0 L290.1 619.7 L290.3 619.1 L290.6 620.2 L290.8 622.8 L291.1 620.4 L291.3 621.2 L291.6 621.2 L291.8 621.3 L292.1 622.0 L292.3 624.5 L292.6 627.8 L292.8 630.3 L293.1 626.6 L293.3 622.3 L293.5 620.0 L293.8 620.3 L294.0 620.3 L294.3 621.3 L294.5 620.5 L294.8 621.0 L295.0 621.5 L295.3 619.2 L295.5 620.3 L295.8 620.5 L296.0 621.1 L296.3 619.8 L296.5 618.8 L296.8 620.1 L297.0 620.0 L297.3 622.0 L297.5 621.7 L297.8 625.1 L298.0 629.0 L298.3 629.3 L298.5 624.8 L298.8 621.2 L299.0 620.9 L299.3 619.2 L299.5 619.7 L299.8 619.9 L300.0 619.9 L300.2 619.2 L300.5 620.1 L300.7 620.6 L301.0 621.5 L301.2 619.1 L301.5 619.8 L301.7 619.8 L302.0 620.4 L302.2 619.2 L302.5 621.5 L302.7 620.0 L303.0 623.3 L303.2 627.7 L303.5 631.7 L303.7 627.2 L304.0 622.6 L304.2 620.4 L304.5 620.9 L304.7 621.4 L305.0 619.7 L305.2 618.9 L305.5 619.3 L305.7 619.8 L306.0 619.3 L306.2 621.2 L306.5 620.2 L306.7 619.1 L306.7 649.7 L306.5 649.5 L306.2 649.4 L306.0 650.3 L305.7 649.5 L305.5 649.8 L305.2 649.6 L305.0 649.4 L304.7 648.6 L304.5 649.2 L304.2 648.5 L304.0 648.7 L303.7 647.6 L303.5 646.1 L303.2 648.4 L303.0 648.5 L302.7 648.7 L302.5 649.1 L302.2 649.0 L302.0 649.0 L301.7 650.3 L301.5 650.1 L301.2 649.5 L301.0 650.3 L300.7 650.2 L300.5 649.4 L300.2 649.1 L300.0 649.1 L299.8 650.3 L299.5 649.4 L299.3 649.3 L299.0 649.6 L298.8 650.2 L298.5 648.8 L298.3 647.5 L298.0 647.4 L297.8 649.1 L297.5 649.7 L297.3 649.8 L297.0 649.2 L296.8 650.0 L296.5 650.2 L296.3 650.3 L296.0 650.6 L295.8 648.5 L295.5 649.2 L295.3 649.5 L295.0 649.5 L294.8 650.5 L294.5 649.6 L294.3 650.5 L294.0 649.8 L293.8 650.0 L293.5 649.5 L293.3 649.9 L293.1 647.9 L292.8 645.7 L292.6 647.6 L292.3 649.4 L292.1 648.9 L291.8 650.0 L291.6 649.6 L291.3 649.2 L291.1 649.8 L290.8 649.1 L290.6 649.5 L290.3 649.6 L290.1 650.3 L289.8 649.8 L289.6 650.4 L289.3 649.4 L289.1 650.2 L288.8 651.3 L288.6 650.2 L288.3 650.7 L288.1 650.9 L287.8 648.9 L287.6 647.8 L287.3 647.8 L287.1 648.7 L286.9 649.3 L286.6 649.8 L286.4 650.1 L286.1 651.5 L285.9 649.6 L285.6 649.6 L285.4 650.2 L285.1 650.0 L284.9 649.7 L284.6 650.5 L284.4 649.9 L284.1 650.5 L283.9 650.3 L283.6 649.4 L283.4 650.0 L283.1 649.7 L282.9 649.8 L282.6 650.1 L282.4 648.8 L282.1 647.6 L281.9 648.1 L281.6 648.4 L281.4 650.6 L281.1 650.4 L280.9 650.0 L280.6 650.6 L280.4 650.9 L280.2 650.8 L279.9 649.7 L279.7 650.7 L279.4 649.5 L279.2 650.1 L278.9 649.7 L278.7 650.3 L278.4 650.5 L278.2 649.6 L277.9 650.8 L277.7 650.4 L277.4 649.9 L277.2 649.4 L276.9 648.6 L276.7 647.4 L276.4 647.8 L276.2 648.7 L275.9 649.7 L275.7 650.0 L275.4 650.8 L275.2 649.8 L274.9 649.6 L274.7 651.1 L274.4 650.5 L274.2 651.2 L273.9 650.3 L273.7 650.8 L273.5 649.0 L273.2 649.5 L273.0 649.6 L272.7 650.1 L272.5 650.3 L272.2 650.5 L272.0 649.7 L271.7 649.2 L271.5 647.8 L271.2 646.8 L271.0 648.6 L270.7 649.9 L270.5 650.1 L270.2 650.6 L270.0 649.8 L269.7 650.1 L269.5 650.8 L269.2 650.4 L269.0 651.2 L268.7 650.7 L268.5 650.5 L268.2 650.2 L268.0 650.2 L267.7 651.4 L267.5 651.2 L267.2 649.9 L267.0 650.4 L266.8 650.8 L266.5 650.1 L266.3 650.4 L266.0 648.6 L265.8 648.3 L265.5 649.2 L265.3 650.2 L265.0 649.5 L264.8 650.6 L264.5 649.8 L264.3 649.7 L264.0 649.8 L263.8 650.1 L263.5 650.6 L263.3 650.4 L263.0 650.7 L262.8 651.4 L262.5 650.4 L262.3 650.4 L262.0 650.0 L261.8 651.5 L261.5 650.4 L261.3 649.4 L261.0 650.4 L260.8 648.2 L260.5 647.5 L260.3 648.9 L260.1 650.2 L259.8 651.7 L259.6 651.3 L259.3 650.0 L259.1 650.2 L258.8 650.6 L258.6 650.7 L258.3 650.9 L258.1 650.7 L257.8 650.4 L257.6 650.7 L257.3 651.4 L257.1 650.2 L256.8 650.8 L256.6 649.6 L256.3 651.2 L256.1 651.5 L255.8 650.8 L255.6 650.1 L255.3 648.9 L255.1 648.4 L254.8 650.1 L254.6 649.2 L254.3 650.9 L254.1 650.3 L253.8 650.8 L253.6 652.3 L253.4 650.9 L253.1 651.5 L252.9 650.3 L252.6 650.8 L252.4 650.3 L252.1 650.8 L251.9 650.6 L251.6 650.9 L251.4 650.4 L251.1 650.3 L250.9 650.3 L250.6 651.6 L250.4 650.3 L250.1 649.4 L249.9 647.1 L249.6 648.7 L249.4 650.6 L249.1 649.4 L248.9 650.7 L248.6 650.7 L248.4 651.0 L248.1 651.0 L247.9 650.3 L247.6 651.0 L247.4 651.3 L247.2 650.7 L246.9 650.7 L246.7 650.8 L246.4 650.4 L246.2 651.2 L245.9 651.2 L245.7 650.3 L245.4 650.7 L245.2 651.0 L244.9 650.6 L244.7 648.6 L244.4 647.6 L244.2 649.2 L243.9 651.2 L243.7 650.9 L243.4 651.5 L243.2 651.1 L242.9 649.8 L242.7 650.9 L242.4 650.7 L242.2 650.0 L241.9 651.0 L241.7 650.7 L241.4 651.3 L241.2 651.4 L240.9 651.4 L240.7 651.5 L240.5 651.0 L240.2 651.2 L240.0 650.6 L239.7 651.0 L239.5 650.8 L239.2 648.2 L239.0 649.1 L238.7 650.9 L238.5 650.7 L238.2 650.6 L238.0 651.6 L237.7 649.7 L237.5 651.0 L237.2 651.2 L237.0 650.0 L236.7 651.2 L236.5 651.0 L236.2 650.8 L236.0 651.2 L235.7 651.5 L235.5 651.7 L235.2 650.5 L235.0 651.8 L234.7 651.4 L234.5 652.0 L234.2 651.0 L234.0 649.9 L233.8 648.7 L233.5 649.4 L233.3 650.4 L233.0 651.8 L232.8 651.4 L232.5 651.4 L232.3 651.2 L232.0 651.4 L231.8 651.1 L231.5 650.9 L231.3 652.3 L231.0 652.0 L230.8 651.0 L230.5 652.2 L230.3 650.4 L230.0 652.2 L229.8 650.8 L229.5 650.3 L229.3 651.9 L229.0 650.5 L228.8 649.9 L228.5 649.4 L228.3 649.3 L228.0 649.2 L227.8 651.4 L227.5 651.7 L227.3 651.8 L227.1 651.6 L226.8 651.1 L226.6 652.2 L226.3 651.3 L226.1 650.8 L225.8 652.4 L225.6 652.6 L225.3 652.0 L225.1 651.3 L224.8 650.6 L224.6 651.6 L224.3 652.1 L224.1 651.0 L223.8 650.8 L223.6 652.3 L223.3 650.5 L223.1 649.5 L222.8 649.9 L222.6 650.7 L222.3 651.0 L222.1 652.2 L221.8 651.3 L221.6 651.9 L221.3 651.6 L221.1 651.2 L220.8 651.5 L220.6 651.3 L220.4 652.0 L220.1 651.9 L219.9 651.4 L219.6 651.1 L219.4 652.5 L219.1 651.2 L218.9 652.4 L218.6 652.1 L218.4 651.7 L218.1 650.3 L217.9 650.3 L217.6 648.0 L217.4 649.8 L217.1 651.3 L216.9 651.9 L216.6 651.8 L216.4 652.1 L216.1 651.8 L215.9 653.3 L215.6 651.9 L215.4 651.9 L215.1 652.0 L214.9 651.9 L214.6 652.0 L214.4 653.0 L214.2 651.5 L213.9 651.6 L213.7 651.1 L213.4 652.4 L213.2 651.1 L212.9 650.9 L212.7 652.4 L212.4 648.9 L212.2 649.6 L211.9 651.0 L211.7 651.0 L211.4 651.4 L211.2 652.0 L210.9 652.2 L210.7 651.5 L210.4 652.4 L210.2 651.7 L209.9 652.2 L209.7 651.7 L209.4 651.9 L209.2 652.5 L208.9 651.6 L208.7 651.7 L208.4 651.8 L208.2 651.8 L207.9 651.6 L207.7 652.3 L207.5 650.9 L207.2 650.8 L207.0 649.8 L206.7 650.4 L206.5 651.2 L206.2 652.5 L206.0 651.6 L205.7 652.7 L205.5 651.4 L205.2 652.3 L205.0 651.5 L204.7 651.7 L204.5 652.2 L204.2 652.8 L204.0 652.4 L203.7 652.2 L203.5 652.0 L203.2 652.0 L203.0 652.0 L202.7 652.5 L202.5 652.7 L202.2 652.8 L202.0 651.0 L201.7 650.0 L201.5 649.1 L201.2 651.3 L201.0 651.0 L200.8 652.4 L200.5 651.7 L200.3 651.6 L200.0 652.5 L199.8 651.6 L199.5 652.5 L199.3 652.1 L199.0 652.4 L198.8 652.9 L198.5 652.5 L198.3 652.2 L198.0 653.0 L197.8 652.1 L197.5 652.6 L197.3 651.9 L197.0 652.3 L196.8 651.8 L196.5 651.1 L196.3 650.5 L196.0 649.7 L195.8 651.3 L195.5 651.8 L195.3 651.5 L195.0 651.3 L194.8 652.9 L194.5 652.5 L194.3 651.8 L194.1 652.7 L193.8 652.5 L193.6 652.3 L193.3 652.1 L193.1 652.5 L192.8 652.1 L192.6 651.8 L192.3 652.5 L192.1 652.5 L191.8 652.0 L191.6 651.6 L191.3 652.7 L191.1 651.2 L190.8 649.4 L190.6 650.7 L190.3 651.0 L190.1 651.5 L189.8 652.3 L189.6 653.4 L189.3 653.3 L189.1 652.5 L188.8 652.4 L188.6 652.8 L188.3 652.8 L188.1 653.4 L187.8 651.6 L187.6 652.6 L187.4 652.2 L187.1 652.9 L186.9 652.2 L186.6 651.5 L186.4 652.3 L186.1 652.2 L185.9 652.1 L185.6 650.4 L185.4 649.7 L185.1 651.3 L184.9 651.8 L184.6 652.3 L184.4 652.5 L184.1 652.7 L183.9 652.9 L183.6 653.4 L183.4 653.1 L183.1 652.2 L182.9 653.1 L182.6 652.9 L182.4 651.9 L182.1 653.5 L181.9 653.0 L181.6 652.5 L181.4 652.4 L181.1 652.0 L180.9 652.5 L180.7 652.3 L180.4 650.6 L180.2 649.7 L179.9 649.7 L179.7 652.0 L179.4 653.2 L179.2 652.1 L178.9 652.9 L178.7 653.0 L178.4 652.9 L178.2 652.4 L177.9 652.1 L177.7 652.0 L177.4 653.2 L177.2 652.6 L176.9 652.5 L176.7 652.1 L176.4 652.0 L176.2 653.4 L175.9 653.2 L175.7 653.7 L175.4 652.5 L175.2 653.0 L174.9 650.6 L174.7 650.1 L174.5 651.3 L174.2 652.0 L174.0 653.7 L173.7 652.3 L173.5 652.6 L173.2 653.3 L173.0 653.5 L172.7 653.6 L172.5 653.2 L172.2 652.8 L172.0 653.8 L171.7 653.6 L171.5 653.0 L171.2 653.6 L171.0 653.6 L170.7 654.7 L170.5 653.4 L170.2 653.2 L170.0 653.4 L169.7 651.1 L169.5 650.6 L169.2 651.0 L169.0 652.3 L168.7 654.2 L168.5 653.8 L168.2 654.3 L168.0 653.2 L167.8 652.9 L167.5 653.4 L167.3 653.2 L167.0 652.7 L166.8 653.4 L166.5 653.9 L166.3 653.8 L166.0 652.7 L165.8 653.2 L165.5 653.3 L165.3 653.2 L165.0 653.1 L164.8 653.1 L164.5 652.7 L164.3 651.3 L164.0 651.4 L163.8 651.5 L163.5 653.1 L163.3 652.7 L163.0 652.7 L162.8 653.2 L162.5 652.7 L162.3 653.7 L162.0 654.2 L161.8 654.6 L161.5 653.4 L161.3 653.9 L161.1 654.2 L160.8 653.7 L160.6 653.8 L160.3 653.7 L160.1 653.8 L159.8 654.2 L159.6 654.6 L159.3 653.5 L159.1 653.3 L158.8 651.6 L158.6 650.5 L158.3 652.1 L158.1 653.9 L157.8 654.3 L157.6 653.8 L157.3 653.6 L157.1 653.8 L156.8 653.7 L156.6 653.8 L156.3 654.6 L156.1 653.9 L155.8 654.4 L155.6 654.5 L155.3 654.0 L155.1 653.9 L154.8 653.6 L154.6 655.0 L154.4 654.2 L154.1 653.4 L153.9 654.7 L153.6 651.9 L153.4 650.5 L153.1 651.2 L152.9 652.6 L152.6 653.9 L152.4 654.0 L152.1 653.3 L151.9 653.5 L151.6 653.3 L151.4 653.6 L151.1 654.2 L150.9 654.2 L150.6 652.8 L150.4 653.7 L150.1 654.1 L149.9 653.8 L149.6 653.8 L149.4 653.8 L149.1 653.9 L148.9 654.1 L148.6 654.5 L148.4 653.3 L148.1 650.9 L147.9 651.5 L147.7 651.9 L147.4 654.2 L147.2 654.6 L146.9 654.4 L146.7 654.1 L146.4 654.4 L146.2 654.5 L145.9 653.9 L145.7 653.9 L145.4 654.4 L145.2 654.7 L144.9 654.8 L144.7 653.7 L144.4 654.6 L144.2 654.7 L143.9 653.8 L143.7 654.3 L143.4 655.5 L143.2 654.4 L142.9 653.3 L142.7 652.7 L142.4 651.2 L142.2 652.6 L141.9 654.6 L141.7 654.3 L141.5 654.0 L141.2 654.0 L141.0 654.4 L140.7 654.3 L140.5 654.4 L140.2 654.0 L140.0 653.9 L139.7 654.4 L139.5 654.5 L139.2 654.2 L139.0 655.2 L138.7 654.6 L138.5 654.4 L138.2 653.6 L138.0 654.6 L137.7 654.4 L137.5 653.3 L137.2 651.4 L137.0 652.2 L136.7 653.0 L136.5 655.4 L136.2 654.1 L136.0 653.8 L135.7 654.0 L135.5 654.0 L135.2 656.1 L135.0 654.6 L134.8 654.2 L134.5 654.5 L134.3 655.2 L134.0 654.5 L133.8 655.2 L133.5 655.3 L133.3 654.5 L133.0 654.4 L132.8 655.0 L132.5 655.4 L132.3 653.7 L132.0 652.7 L131.8 652.2 L131.5 653.7 L131.3 653.9 L131.0 654.0 L130.8 655.0 L130.5 654.0 L130.3 655.2 L130.0 654.3 L129.8 654.8 L129.5 654.7 L129.3 655.4 L129.0 654.6 L128.8 654.6 L128.5 655.6 L128.3 656.0 L128.1 655.1 L127.8 654.9 L127.6 655.1 L127.3 655.6 L127.1 655.6 L126.8 653.6 L126.6 653.1 L126.3 652.7 L126.1 653.2 L125.8 655.0 L125.6 654.4 L125.3 655.2 L125.1 655.0 L124.8 654.7 L124.6 655.6 L124.3 654.4 L124.1 654.8 L123.8 655.3 L123.6 655.6 L123.3 655.5 L123.1 655.1 L122.8 655.4 L122.6 654.6 L122.3 654.3 L122.1 655.1 L121.8 654.5 L121.6 655.7 L121.4 653.6 L121.1 652.2 L120.9 653.7 L120.6 655.3 L120.4 655.3 L120.1 654.4 L119.9 654.8 L119.6 655.1 L119.4 654.7 L119.1 654.7 L118.9 655.9 L118.6 655.4 L118.4 655.2 L118.1 656.0 L117.9 655.1 L117.6 655.6 L117.4 655.1 L117.1 654.5 L116.9 655.0 L116.6 654.1 L116.4 654.9 L116.1 654.4 L115.9 654.6 L115.6 653.3 L115.4 654.2 L115.1 655.3 L114.9 655.6 L114.7 656.4 L114.4 655.4 L114.2 655.6 L113.9 655.5 L113.7 655.9 L113.4 655.5 L113.2 656.3 L112.9 656.7 L112.7 656.1 L112.4 656.0 L112.2 655.7 L111.9 655.1 L111.7 655.7 L111.4 657.0 L111.2 654.7 L110.9 655.7 L110.7 655.3 L110.4 652.7 L110.2 653.7 L109.9 654.5 L109.7 655.2 L109.4 656.0 L109.2 656.2 L108.9 655.4 L108.7 654.8 L108.4 656.0 L108.2 655.9 L108.0 656.0 L107.7 656.1 L107.5 656.1 L107.2 655.9 L107.0 656.3 L106.7 654.9 L106.5 655.7 L106.2 654.9 L106.0 656.1 L105.7 656.0 L105.5 655.3 L105.2 654.3 L105.0 653.3 L104.7 653.6 L104.5 654.8 L104.2 655.4 L104.0 655.6 L103.7 655.9 L103.5 655.5 L103.2 656.6 L103.0 656.1 L102.7 655.8 L102.5 656.2 L102.2 655.3 L102.0 655.1 L101.8 656.5 L101.5 655.6 L101.3 656.7 L101.0 655.9 L100.8 655.5 L100.5 656.4 L100.3 656.1 L100.0 656.7 L99.8 653.5 L99.5 654.4 L99.3 655.9 L99.0 656.2 L98.8 656.5 L98.5 657.0 L98.3 656.4 L98.0 656.1 L97.8 656.4 L97.5 656.9 L97.3 656.5 L97.0 655.0 L96.8 656.0 L96.5 656.3 L96.3 656.8 L96.0 657.4 L95.8 657.6 L95.5 656.8 L95.3 656.8 L95.1 656.9 L94.8 656.7 L94.6 655.5 L94.3 654.4 L94.1 654.9 L93.8 656.9 L93.6 656.3 L93.3 657.5 L93.1 656.2 L92.8 656.7 L92.6 656.9 L92.3 657.0 L92.1 657.7 L91.8 656.4 L91.6 656.6 L91.3 657.0 L91.1 656.9 L90.8 656.6 L90.6 656.8 L90.3 656.8 L90.1 657.3 L89.8 657.7 L89.6 656.5 L89.3 656.5 L89.1 654.7 L88.8 654.8 L88.6 655.2Z" fill="#ee3d45"/>
<rect x="66.8" y="492.5" width="261.2" height="191.3" fill="none" stroke="#3a3a3a" stroke-width="1.1"/>
<path d="M66.8 683.8h3.8M66.8 656.5h3.8M66.8 629.2h3.8M66.8 601.8h3.8M66.8 574.5h3.8M66.8 547.1h3.8M66.8 519.8h3.8M66.8 492.5h3.8M66.8 670.2h2.0M66.8 642.8h2.0M66.8 615.5h2.0M66.8 588.1h2.0M66.8 560.8h2.0M66.8 533.5h2.0M66.8 506.1h2.0M328.0 683.8h-3.8M328.0 656.5h-3.8M328.0 629.2h-3.8M328.0 601.8h-3.8M328.0 574.5h-3.8M328.0 547.1h-3.8M328.0 519.8h-3.8M328.0 492.5h-3.8M328.0 670.2h-2.0M328.0 642.8h-2.0M328.0 615.5h-2.0M328.0 588.1h-2.0M328.0 560.8h-2.0M328.0 533.5h-2.0M328.0 506.1h-2.0M88.6 492.5v3.8M132.2 492.5v3.8M175.8 492.5v3.8M219.5 492.5v3.8M263.1 492.5v3.8M306.7 492.5v3.8M110.4 492.5v2.0M154.0 492.5v2.0M197.6 492.5v2.0M241.3 492.5v2.0M284.9 492.5v2.0" stroke="#3a3a3a" stroke-width="1.1" fill="none"/>
<path d="M79.3 507.4H103" stroke="#ee3d45" stroke-width="1.1" opacity="0.85"/><path d="M79.3 520.5H103" stroke="#4376e2" stroke-width="1.1" opacity="0.85"/><path d="M79.3 534.0H103" stroke="#5bbb73" stroke-width="1.1" opacity="0.85"/></g>
<g font-family="Liberation Sans, sans-serif" font-weight="bold" fill="#111"><text x="62.2" y="687.6" font-size="12" text-anchor="end" >&#8722;10</text>
<text x="62.2" y="660.3" font-size="12" text-anchor="end" >0</text>
<text x="62.2" y="633.0" font-size="12" text-anchor="end" >10</text>
<text x="62.2" y="605.6" font-size="12" text-anchor="end" >20</text>
<text x="62.2" y="578.3" font-size="12" text-anchor="end" >30</text>
<text x="62.2" y="550.9" font-size="12" text-anchor="end" >40</text>
<text x="62.2" y="523.6" font-size="12" text-anchor="end" >50</text>
<text x="62.2" y="496.3" font-size="12" text-anchor="end" >60</text>
<text x="88.6" y="698.5" font-size="12" text-anchor="middle" >0</text>
<text x="132.2" y="698.5" font-size="12" text-anchor="middle" >200</text>
<text x="175.8" y="698.5" font-size="12" text-anchor="middle" >400</text>
<text x="219.5" y="698.5" font-size="12" text-anchor="middle" >600</text>
<text x="263.1" y="698.5" font-size="12" text-anchor="middle" >800</text>
<text x="306.7" y="698.5" font-size="12" text-anchor="middle" >1000</text>
<text x="105.8" y="511.4" font-size="10.35" text-anchor="start" >5% Stretching strain</text>
<text x="105.8" y="524.6" font-size="10.35" text-anchor="start" >10% Stretching strain</text>
<text x="105.8" y="537.8" font-size="10.35" text-anchor="start" >20% Stretching strain</text>
<text x="197.7" y="720.1" font-size="15" text-anchor="middle" >Number of stretching (cycles)</text>
<text transform="translate(37.3,588.6) rotate(-90)" font-size="15" text-anchor="middle">Resistance change (%)</text>
</g>
<g><path d="M434.5 595.7 L434.9 596.4 L435.4 594.1 L435.8 597.0 L436.3 596.2 L436.7 594.3 L437.1 595.3 L437.6 595.7 L438.0 595.8 L438.4 591.9 L438.9 594.8 L439.3 594.9 L439.8 594.6 L440.2 591.3 L440.6 594.4 L441.1 591.5 L441.5 596.4 L442.0 593.3 L442.4 592.0 L442.8 593.3 L443.3 591.2 L443.7 591.1 L444.1 589.9 L444.6 591.8 L445.0 590.6 L445.5 590.9 L445.9 589.5 L446.3 591.1 L446.8 591.8 L447.2 591.6 L447.7 588.7 L448.1 590.4 L448.5 588.2 L449.0 590.9 L449.4 590.2 L449.8 588.9 L450.3 588.0 L450.7 588.4 L451.2 588.7 L451.6 590.3 L452.0 588.5 L452.5 589.3 L452.9 587.4 L453.4 585.2 L453.8 586.5 L454.2 587.5 L454.7 584.3 L455.1 585.3 L455.5 586.3 L456.0 586.5 L456.4 586.1 L456.9 585.5 L457.3 584.5 L457.7 586.6 L458.2 585.2 L458.6 584.5 L459.1 585.4 L459.5 584.2 L459.9 584.6 L460.4 586.8 L460.8 586.1 L461.2 585.4 L461.7 583.9 L462.1 583.1 L462.6 581.8 L463.0 585.1 L463.4 583.4 L463.9 586.8 L464.3 580.2 L464.8 582.0 L465.2 583.3 L465.6 582.0 L466.1 581.1 L466.5 582.1 L466.9 579.6 L467.4 581.8 L467.8 581.5 L468.3 580.8 L468.7 581.0 L469.1 580.3 L469.6 579.5 L470.0 580.5 L470.5 581.4 L470.9 581.2 L471.3 578.6 L471.8 578.7 L472.2 578.5 L472.6 580.5 L473.1 579.7 L473.5 580.0 L474.0 579.7 L474.4 577.3 L474.8 577.5 L475.3 577.1 L475.7 576.9 L476.2 575.5 L476.6 578.6 L477.0 576.5 L477.5 578.4 L477.9 575.9 L478.3 578.3 L478.8 575.4 L479.2 575.3 L479.7 575.0 L480.1 577.6 L480.5 576.4 L481.0 576.3 L481.4 576.0 L481.9 576.4 L482.3 577.9 L482.7 574.4 L483.2 575.9 L483.6 575.3 L484.0 575.3 L484.5 576.8 L484.9 573.4 L485.4 575.8 L485.8 575.3 L486.2 577.4 L486.7 575.8 L487.1 575.3 L487.6 572.6 L488.0 571.9 L488.4 574.9 L488.9 572.8 L489.3 571.0 L489.7 576.3 L490.2 573.3 L490.6 575.0 L491.1 573.1 L491.5 576.3 L491.9 572.6 L492.4 573.2 L492.8 572.9 L493.3 571.1 L493.7 575.2 L494.1 573.3 L494.6 573.0 L495.0 571.5 L495.4 570.9 L495.9 572.2 L496.3 572.4 L496.8 571.5 L497.2 574.1 L497.6 570.4 L498.1 572.5 L498.5 570.9 L499.0 571.8 L499.4 572.7 L499.8 571.4 L500.3 572.7 L500.7 570.4 L501.1 568.9 L501.6 572.1 L502.0 572.9 L502.5 571.4 L502.9 571.4 L503.3 571.4 L503.8 567.7 L504.2 571.9 L504.7 571.7 L505.1 569.8 L505.5 571.7 L506.0 569.7 L506.4 571.1 L506.8 571.1 L507.3 570.5 L507.7 569.2 L508.2 571.0 L508.6 569.8 L509.0 569.1 L509.5 568.2 L509.9 570.4 L510.4 571.5 L510.8 570.6 L511.2 567.9 L511.7 568.9 L512.1 567.0 L512.5 567.6 L513.0 566.4 L513.4 568.4 L513.9 566.7 L514.3 569.0 L514.7 565.8 L515.2 567.2 L515.6 566.2 L516.1 568.6 L516.5 568.8 L516.9 571.3 L517.4 566.9 L517.8 568.5 L518.2 568.9 L518.7 567.8 L519.1 566.1 L519.6 566.1 L520.0 566.9 L520.4 567.7 L520.9 568.6 L521.3 566.0 L521.8 564.7 L522.2 566.2 L522.6 565.6 L523.1 566.5 L523.5 566.0 L523.9 565.6 L524.4 566.0 L524.8 564.3 L525.3 566.6 L525.7 563.9 L526.1 566.1 L526.6 564.6 L527.0 564.8 L527.5 564.5 L527.9 565.9 L528.3 567.6 L528.8 566.2 L529.2 565.1 L529.6 563.7 L530.1 564.3 L530.5 563.4 L531.0 563.6 L531.4 566.0 L531.8 564.3 L532.3 564.5 L532.7 563.3 L533.2 563.8 L533.6 563.5 L534.0 565.1 L534.5 565.2 L534.9 564.1 L535.3 563.7 L535.8 563.5 L536.2 560.9 L536.7 564.4 L537.1 565.6 L537.5 564.8 L538.0 561.6 L538.4 563.2 L538.9 564.3 L539.3 565.6 L539.7 562.1 L540.2 564.0 L540.6 563.5 L541.0 562.8 L541.5 564.1 L541.9 563.2 L542.4 562.4 L542.8 562.6 L543.2 561.7 L543.7 563.5 L544.1 563.4 L544.6 561.7 L545.0 563.0 L545.4 561.5 L545.9 565.1 L546.3 561.5 L546.8 561.5 L547.2 561.1 L547.6 560.5 L548.1 560.2 L548.5 561.8 L548.9 562.4 L549.4 560.5 L549.8 563.5 L550.3 561.0 L550.7 562.7 L551.1 560.8 L551.6 562.5 L552.0 563.4 L552.5 561.1 L552.9 560.7 L553.3 559.8 L553.8 559.9 L554.2 561.5 L554.6 560.5 L555.1 559.2 L555.5 559.2 L556.0 560.6 L556.4 562.4 L556.8 563.0 L557.3 562.3 L557.7 558.3 L558.2 558.9 L558.6 560.4 L559.0 558.7 L559.5 558.5 L559.9 560.3 L560.3 558.6 L560.8 558.5 L561.2 560.2 L561.7 561.7 L562.1 560.2 L562.5 557.8 L563.0 559.6 L563.4 560.3 L563.9 559.4 L564.3 557.6 L564.7 559.7 L565.2 556.3 L565.6 558.5 L566.0 556.9 L566.5 556.9 L566.9 559.2 L567.4 557.9 L567.8 558.2 L568.2 558.3 L568.7 556.7 L569.1 558.1 L569.6 558.8 L570.0 556.7 L570.4 559.4 L570.9 559.9 L571.3 557.2 L571.7 556.5 L572.2 555.3 L572.6 558.0 L573.1 556.7 L573.5 554.3 L573.9 555.7 L574.4 556.4 L574.8 558.1 L575.3 556.7 L575.7 556.5 L576.1 557.0 L576.6 555.2 L577.0 554.7 L577.4 558.4 L577.9 556.9 L578.3 556.7 L578.8 556.1 L579.2 557.9 L579.6 554.8 L580.1 557.7 L580.5 555.2 L581.0 554.3 L581.4 553.3 L581.8 556.4 L582.3 552.4 L582.7 556.2 L583.1 553.5 L583.6 555.4 L584.0 553.7 L584.5 555.3 L584.9 553.0 L585.3 552.8 L585.8 556.3 L586.2 557.3 L586.7 554.8 L587.1 555.1 L587.5 554.1 L588.0 553.7 L588.4 553.6 L588.8 555.5 L589.3 553.3 L589.7 553.5 L590.2 553.9 L590.6 556.0 L591.0 554.4 L591.5 553.4 L591.9 553.6 L592.4 553.9 L592.8 552.3 L593.2 553.3 L593.7 553.9 L594.1 554.5 L594.5 551.6 L595.0 551.8 L595.4 550.5 L595.9 549.2 L596.3 553.0 L596.7 551.5 L597.2 550.1 L597.6 549.9 L598.1 550.2 L598.5 550.5 L598.9 554.0 L599.4 549.2 L599.8 550.0 L600.2 551.3 L600.7 550.3 L601.1 551.9 L601.6 548.5 L602.0 550.1 L602.4 548.8 L602.9 550.2 L603.3 548.7 L603.8 549.3 L604.2 547.5 L604.6 548.7 L605.1 549.7 L605.5 548.4 L605.9 547.5 L606.4 547.1 L606.8 548.7 L607.3 547.3 L607.7 546.8 L608.1 547.7 L608.6 548.6 L609.0 546.5 L609.5 548.3 L609.9 548.9 L610.3 549.4 L610.8 546.6 L611.2 547.4 L611.6 544.7 L612.1 548.4 L612.5 549.2 L613.0 549.5 L613.4 546.7 L613.8 546.8 L614.3 546.8 L614.7 545.3 L615.2 546.7 L615.6 542.7 L616.0 544.7 L616.5 544.2 L616.9 547.7 L617.3 544.5 L617.8 545.9 L618.2 543.0 L618.7 545.3 L619.1 543.1 L619.5 545.0 L620.0 544.7 L620.4 543.3 L620.9 542.1 L621.3 542.9 L621.7 541.4 L622.2 542.9 L622.6 543.9 L623.0 543.7 L623.5 542.5 L623.9 544.5 L624.4 541.7 L624.8 545.1 L625.2 543.5 L625.7 539.6 L626.1 540.8 L626.6 541.3 L627.0 541.9 L627.4 543.6 L627.9 539.7 L628.3 541.7 L628.7 539.6 L629.2 542.7 L629.6 539.3 L630.1 540.2 L630.5 540.9 L630.9 537.4 L631.4 538.7 L631.8 538.4 L632.3 541.2 L632.7 539.9 L633.1 538.2 L633.6 539.4 L634.0 536.4 L634.4 538.0 L634.9 541.1 L635.3 537.5 L635.8 538.2 L636.2 537.7 L636.6 537.3 L637.1 537.5 L637.5 536.6 L638.0 539.2 L638.4 538.7 L638.8 537.0 L639.3 538.2 L639.7 539.1 L640.1 535.9 L640.6 536.1 L641.0 536.3 L641.5 537.3 L641.9 534.2 L642.3 536.2 L642.8 536.4 L643.2 534.3 L643.7 535.2 L644.1 536.4 L644.5 533.9 L645.0 534.0 L645.4 538.3 L645.8 533.1 L646.3 533.1 L646.7 534.5 L647.2 532.7 L647.6 534.8 L648.0 535.6 L648.5 532.3 L648.9 534.9 L649.4 536.6 L649.8 533.6 L650.2 535.0 L650.7 532.4 L651.1 536.5 L651.5 536.2 L652.0 534.6 L652.4 538.0 L652.9 532.9 L653.3 535.6 L653.3 641.4 L652.9 649.7 L652.4 644.4 L652.0 651.1 L651.5 642.9 L651.1 642.2 L650.7 642.0 L650.2 643.1 L649.8 641.9 L649.4 642.3 L648.9 642.3 L648.5 640.7 L648.0 645.3 L647.6 640.2 L647.2 649.5 L646.7 644.3 L646.3 643.7 L645.8 642.8 L645.4 642.5 L645.0 644.0 L644.5 643.6 L644.1 643.0 L643.7 642.7 L643.2 641.7 L642.8 643.0 L642.3 646.8 L641.9 641.9 L641.5 652.0 L641.0 639.6 L640.6 643.6 L640.1 641.8 L639.7 644.6 L639.3 643.5 L638.8 641.8 L638.4 640.5 L638.0 643.6 L637.5 646.9 L637.1 642.6 L636.6 641.6 L636.2 641.1 L635.8 638.9 L635.3 643.6 L634.9 642.8 L634.4 641.9 L634.0 643.0 L633.6 647.4 L633.1 642.4 L632.7 642.0 L632.3 642.4 L631.8 639.8 L631.4 643.7 L630.9 645.1 L630.5 644.3 L630.1 647.4 L629.6 642.8 L629.2 642.3 L628.7 650.2 L628.3 643.7 L627.9 642.8 L627.4 642.8 L627.0 644.1 L626.6 642.9 L626.1 643.4 L625.7 643.6 L625.2 643.8 L624.8 642.7 L624.4 641.7 L623.9 650.2 L623.5 649.6 L623.0 643.0 L622.6 644.7 L622.2 642.2 L621.7 642.5 L621.3 641.1 L620.9 642.7 L620.4 643.9 L620.0 643.1 L619.5 642.6 L619.1 644.7 L618.7 642.1 L618.2 643.8 L617.8 643.7 L617.3 647.8 L616.9 640.2 L616.5 639.4 L616.0 643.6 L615.6 643.2 L615.2 643.4 L614.7 642.0 L614.3 641.7 L613.8 642.6 L613.4 645.5 L613.0 644.0 L612.5 649.6 L612.1 643.8 L611.6 644.1 L611.2 643.6 L610.8 641.5 L610.3 644.3 L609.9 644.1 L609.5 641.1 L609.0 643.3 L608.6 643.2 L608.1 643.7 L607.7 641.9 L607.3 641.5 L606.8 643.1 L606.4 643.9 L605.9 643.1 L605.5 644.4 L605.1 642.8 L604.6 643.8 L604.2 643.9 L603.8 648.4 L603.3 643.8 L602.9 642.2 L602.4 643.6 L602.0 642.8 L601.6 648.4 L601.1 648.4 L600.7 642.3 L600.2 649.6 L599.8 643.6 L599.4 644.9 L598.9 643.8 L598.5 641.7 L598.1 644.2 L597.6 643.0 L597.2 642.6 L596.7 644.6 L596.3 644.5 L595.9 644.5 L595.4 642.1 L595.0 644.5 L594.5 642.4 L594.1 644.8 L593.7 642.9 L593.2 641.7 L592.8 651.1 L592.4 643.7 L591.9 642.9 L591.5 643.2 L591.0 642.5 L590.6 650.5 L590.2 642.6 L589.7 645.4 L589.3 644.5 L588.8 644.8 L588.4 645.2 L588.0 644.2 L587.5 644.9 L587.1 646.4 L586.7 644.6 L586.2 644.1 L585.8 645.7 L585.3 645.4 L584.9 645.1 L584.5 644.7 L584.0 644.9 L583.6 642.9 L583.1 644.4 L582.7 644.4 L582.3 652.8 L581.8 643.8 L581.4 651.3 L581.0 644.0 L580.5 642.5 L580.1 644.8 L579.6 646.8 L579.2 644.8 L578.8 645.1 L578.3 642.3 L577.9 643.5 L577.4 645.1 L577.0 643.7 L576.6 654.1 L576.1 645.8 L575.7 651.5 L575.3 646.3 L574.8 645.6 L574.4 645.0 L573.9 644.3 L573.5 645.2 L573.1 650.5 L572.6 645.7 L572.2 644.5 L571.7 644.1 L571.3 645.8 L570.9 642.5 L570.4 644.8 L570.0 644.4 L569.6 644.1 L569.1 643.8 L568.7 644.5 L568.2 644.0 L567.8 643.9 L567.4 644.7 L566.9 651.4 L566.5 645.0 L566.0 645.4 L565.6 644.8 L565.2 650.9 L564.7 645.7 L564.3 642.9 L563.9 645.0 L563.4 645.6 L563.0 644.8 L562.5 645.3 L562.1 644.5 L561.7 645.9 L561.2 645.5 L560.8 648.6 L560.3 647.1 L559.9 645.8 L559.5 644.3 L559.0 644.5 L558.6 644.6 L558.2 648.8 L557.7 644.9 L557.3 647.4 L556.8 645.8 L556.4 645.3 L556.0 646.4 L555.5 643.4 L555.1 645.7 L554.6 644.0 L554.2 647.0 L553.8 644.4 L553.3 646.7 L552.9 646.4 L552.5 643.6 L552.0 645.0 L551.6 650.8 L551.1 644.9 L550.7 644.8 L550.3 649.9 L549.8 646.8 L549.4 646.5 L548.9 646.3 L548.5 647.4 L548.1 646.1 L547.6 649.4 L547.2 646.6 L546.8 652.1 L546.3 645.5 L545.9 651.1 L545.4 646.9 L545.0 649.5 L544.6 646.4 L544.1 646.3 L543.7 644.8 L543.2 652.4 L542.8 647.7 L542.4 645.5 L541.9 646.7 L541.5 644.3 L541.0 645.8 L540.6 645.6 L540.2 643.2 L539.7 647.3 L539.3 644.2 L538.9 650.3 L538.4 646.2 L538.0 654.0 L537.5 646.1 L537.1 646.1 L536.7 651.4 L536.2 644.3 L535.8 646.0 L535.3 646.0 L534.9 646.1 L534.5 645.5 L534.0 643.7 L533.6 645.9 L533.2 646.2 L532.7 655.2 L532.3 646.0 L531.8 654.1 L531.4 647.2 L531.0 644.8 L530.5 647.6 L530.1 645.6 L529.6 644.2 L529.2 647.2 L528.8 647.3 L528.3 646.2 L527.9 652.2 L527.5 647.3 L527.0 652.1 L526.6 646.5 L526.1 646.0 L525.7 644.2 L525.3 647.3 L524.8 646.5 L524.4 645.9 L523.9 652.6 L523.5 646.1 L523.1 646.5 L522.6 647.6 L522.2 646.3 L521.8 646.9 L521.3 647.1 L520.9 646.7 L520.4 647.8 L520.0 645.4 L519.6 646.3 L519.1 649.1 L518.7 650.5 L518.2 648.4 L517.8 648.5 L517.4 646.9 L516.9 647.6 L516.5 647.1 L516.1 644.8 L515.6 647.6 L515.2 648.6 L514.7 646.7 L514.3 646.3 L513.9 647.6 L513.4 647.7 L513.0 646.1 L512.5 647.2 L512.1 646.7 L511.7 646.7 L511.2 647.0 L510.8 648.2 L510.4 655.8 L509.9 653.6 L509.5 650.1 L509.0 647.4 L508.6 649.4 L508.2 647.6 L507.7 647.4 L507.3 647.1 L506.8 654.6 L506.4 648.2 L506.0 650.3 L505.5 649.1 L505.1 648.4 L504.7 649.3 L504.2 648.9 L503.8 649.5 L503.3 648.1 L502.9 649.4 L502.5 649.9 L502.0 651.0 L501.6 650.2 L501.1 648.0 L500.7 649.6 L500.3 648.1 L499.8 652.6 L499.4 656.0 L499.0 649.3 L498.5 651.2 L498.1 650.3 L497.6 647.5 L497.2 649.7 L496.8 656.2 L496.3 650.3 L495.9 653.7 L495.4 649.7 L495.0 648.5 L494.6 648.9 L494.1 652.3 L493.7 650.5 L493.3 651.9 L492.8 650.9 L492.4 650.1 L491.9 649.9 L491.5 657.0 L491.1 649.6 L490.6 651.1 L490.2 651.6 L489.7 650.3 L489.3 651.0 L488.9 651.6 L488.4 654.3 L488.0 652.9 L487.6 657.5 L487.1 651.9 L486.7 651.5 L486.2 649.7 L485.8 652.5 L485.4 649.9 L484.9 650.9 L484.5 653.1 L484.0 651.9 L483.6 649.3 L483.2 651.2 L482.7 655.4 L482.3 649.9 L481.9 649.9 L481.4 650.4 L481.0 650.3 L480.5 650.4 L480.1 658.0 L479.7 649.9 L479.2 649.3 L478.8 649.4 L478.3 651.0 L477.9 649.2 L477.5 650.8 L477.0 656.5 L476.6 651.7 L476.2 650.5 L475.7 653.6 L475.3 651.0 L474.8 653.3 L474.4 658.8 L474.0 651.2 L473.5 649.9 L473.1 650.2 L472.6 649.9 L472.2 651.3 L471.8 650.1 L471.3 651.4 L470.9 650.1 L470.5 650.2 L470.0 650.7 L469.6 651.8 L469.1 649.9 L468.7 652.8 L468.3 651.2 L467.8 650.4 L467.4 650.4 L466.9 651.4 L466.5 650.3 L466.1 652.2 L465.6 653.0 L465.2 651.4 L464.8 649.5 L464.3 650.3 L463.9 651.1 L463.4 652.6 L463.0 651.9 L462.6 650.6 L462.1 650.6 L461.7 649.8 L461.2 654.3 L460.8 652.7 L460.4 652.4 L459.9 651.2 L459.5 652.4 L459.1 650.1 L458.6 652.4 L458.2 649.9 L457.7 653.4 L457.3 654.2 L456.9 651.8 L456.4 651.1 L456.0 649.5 L455.5 653.6 L455.1 652.0 L454.7 651.4 L454.2 652.4 L453.8 653.9 L453.4 652.0 L452.9 652.9 L452.5 653.3 L452.0 653.7 L451.6 654.5 L451.2 652.4 L450.7 652.7 L450.3 653.0 L449.8 655.0 L449.4 655.7 L449.0 657.4 L448.5 654.4 L448.1 655.1 L447.7 654.1 L447.2 656.5 L446.8 656.5 L446.3 659.8 L445.9 658.2 L445.5 659.1 L445.0 657.8 L444.6 657.9 L444.1 660.2 L443.7 660.9 L443.3 662.4 L442.8 661.1 L442.4 660.4 L442.0 658.2 L441.5 660.5 L441.1 659.5 L440.6 661.2 L440.2 661.9 L439.8 660.5 L439.3 662.5 L438.9 662.4 L438.4 662.8 L438.0 661.6 L437.6 661.1 L437.1 662.5 L436.7 661.5 L436.3 662.6 L435.8 661.1 L435.4 662.6 L434.9 662.6 L434.5 663.1Z" fill="#5bbb73"/>
<path d="M434.5 609.6 L434.9 609.4 L435.4 611.1 L435.8 609.8 L436.3 608.0 L436.7 609.5 L437.1 608.4 L437.6 608.0 L438.0 610.6 L438.4 608.4 L438.9 608.6 L439.3 607.5 L439.8 608.6 L440.2 608.3 L440.6 606.9 L441.1 606.5 L441.5 606.6 L442.0 607.6 L442.4 607.7 L442.8 607.1 L443.3 606.2 L443.7 605.2 L444.1 604.7 L444.6 606.0 L445.0 605.6 L445.5 606.1 L445.9 605.6 L446.3 604.7 L446.8 604.5 L447.2 606.4 L447.7 605.9 L448.1 605.3 L448.5 602.5 L449.0 605.1 L449.4 604.1 L449.8 603.4 L450.3 603.9 L450.7 602.8 L451.2 603.3 L451.6 602.7 L452.0 603.4 L452.5 601.2 L452.9 603.1 L453.4 602.4 L453.8 602.4 L454.2 601.2 L454.7 600.1 L455.1 602.2 L455.5 601.4 L456.0 601.9 L456.4 601.6 L456.9 602.2 L457.3 599.6 L457.7 599.3 L458.2 600.2 L458.6 599.6 L459.1 598.8 L459.5 598.8 L459.9 599.2 L460.4 600.9 L460.8 599.9 L461.2 598.4 L461.7 599.2 L462.1 599.2 L462.6 599.2 L463.0 598.7 L463.4 598.2 L463.9 598.8 L464.3 599.6 L464.8 597.2 L465.2 597.3 L465.6 598.1 L466.1 598.1 L466.5 597.6 L466.9 598.9 L467.4 598.5 L467.8 598.6 L468.3 598.3 L468.7 596.9 L469.1 597.8 L469.6 596.6 L470.0 596.5 L470.5 597.0 L470.9 595.8 L471.3 597.5 L471.8 596.9 L472.2 597.8 L472.6 597.1 L473.1 596.6 L473.5 596.1 L474.0 595.6 L474.4 596.4 L474.8 596.4 L475.3 595.1 L475.7 596.5 L476.2 595.0 L476.6 595.4 L477.0 595.6 L477.5 595.0 L477.9 595.4 L478.3 595.8 L478.8 593.8 L479.2 593.7 L479.7 595.6 L480.1 594.9 L480.5 593.9 L481.0 594.2 L481.4 593.2 L481.9 592.9 L482.3 595.4 L482.7 593.1 L483.2 595.6 L483.6 594.9 L484.0 595.9 L484.5 593.3 L484.9 596.2 L485.4 594.0 L485.8 595.4 L486.2 591.8 L486.7 594.3 L487.1 593.6 L487.6 595.3 L488.0 593.9 L488.4 594.2 L488.9 592.8 L489.3 594.1 L489.7 593.7 L490.2 594.0 L490.6 592.1 L491.1 592.6 L491.5 592.7 L491.9 592.2 L492.4 590.6 L492.8 592.4 L493.3 593.0 L493.7 593.3 L494.1 592.0 L494.6 591.6 L495.0 593.3 L495.4 592.4 L495.9 592.4 L496.3 592.9 L496.8 591.8 L497.2 591.0 L497.6 590.1 L498.1 592.6 L498.5 591.8 L499.0 591.6 L499.4 592.0 L499.8 589.9 L500.3 592.0 L500.7 592.0 L501.1 590.0 L501.6 590.6 L502.0 590.7 L502.5 589.5 L502.9 591.5 L503.3 589.5 L503.8 590.7 L504.2 591.3 L504.7 590.8 L505.1 591.1 L505.5 590.6 L506.0 591.3 L506.4 590.8 L506.8 589.3 L507.3 592.0 L507.7 589.1 L508.2 592.3 L508.6 588.4 L509.0 589.8 L509.5 589.6 L509.9 590.8 L510.4 588.5 L510.8 589.6 L511.2 589.6 L511.7 589.4 L512.1 594.1 L512.5 591.3 L513.0 591.5 L513.4 590.2 L513.9 591.0 L514.3 590.8 L514.7 589.7 L515.2 588.6 L515.6 590.2 L516.1 590.4 L516.5 590.3 L516.9 590.7 L517.4 591.7 L517.8 589.5 L518.2 590.0 L518.7 590.2 L519.1 590.5 L519.6 590.0 L520.0 587.4 L520.4 589.7 L520.9 590.7 L521.3 590.2 L521.8 589.3 L522.2 591.3 L522.6 588.5 L523.1 590.0 L523.5 588.8 L523.9 589.6 L524.4 590.4 L524.8 587.1 L525.3 589.7 L525.7 591.3 L526.1 589.8 L526.6 590.2 L527.0 589.2 L527.5 588.4 L527.9 590.9 L528.3 588.0 L528.8 590.2 L529.2 590.0 L529.6 587.9 L530.1 588.8 L530.5 589.9 L531.0 589.6 L531.4 589.3 L531.8 589.4 L532.3 588.6 L532.7 589.1 L533.2 590.2 L533.6 591.5 L534.0 589.4 L534.5 588.2 L534.9 589.9 L535.3 588.6 L535.8 589.8 L536.2 588.7 L536.7 589.2 L537.1 588.0 L537.5 589.4 L538.0 589.0 L538.4 588.2 L538.9 588.4 L539.3 590.4 L539.7 587.4 L540.2 589.5 L540.6 587.9 L541.0 590.4 L541.5 589.6 L541.9 589.5 L542.4 589.5 L542.8 589.0 L543.2 587.3 L543.7 588.2 L544.1 590.2 L544.6 590.9 L545.0 587.1 L545.4 587.5 L545.9 588.3 L546.3 589.3 L546.8 588.3 L547.2 588.6 L547.6 590.2 L548.1 587.2 L548.5 587.6 L548.9 588.9 L549.4 588.9 L549.8 588.3 L550.3 586.9 L550.7 588.7 L551.1 587.5 L551.6 588.3 L552.0 586.5 L552.5 588.8 L552.9 588.2 L553.3 587.5 L553.8 588.4 L554.2 587.4 L554.6 587.0 L555.1 590.9 L555.5 587.7 L556.0 587.1 L556.4 587.6 L556.8 588.1 L557.3 587.0 L557.7 587.4 L558.2 587.9 L558.6 588.7 L559.0 587.1 L559.5 587.1 L559.9 586.4 L560.3 589.4 L560.8 589.0 L561.2 586.4 L561.7 584.9 L562.1 588.6 L562.5 587.7 L563.0 586.3 L563.4 588.3 L563.9 589.5 L564.3 586.5 L564.7 588.1 L565.2 586.2 L565.6 587.1 L566.0 587.1 L566.5 587.7 L566.9 588.2 L567.4 588.9 L567.8 588.6 L568.2 588.5 L568.7 589.5 L569.1 588.2 L569.6 588.3 L570.0 587.5 L570.4 587.1 L570.9 588.9 L571.3 587.8 L571.7 587.5 L572.2 587.6 L572.6 586.8 L573.1 586.6 L573.5 586.9 L573.9 586.7 L574.4 586.8 L574.8 587.5 L575.3 587.7 L575.7 588.2 L576.1 588.2 L576.6 586.9 L577.0 588.5 L577.4 585.8 L577.9 587.2 L578.3 586.6 L578.8 585.7 L579.2 587.5 L579.6 587.1 L580.1 587.0 L580.5 587.6 L581.0 589.0 L581.4 585.9 L581.8 588.7 L582.3 586.5 L582.7 587.8 L583.1 586.4 L583.6 588.4 L584.0 586.2 L584.5 587.4 L584.9 589.1 L585.3 584.7 L585.8 586.4 L586.2 586.6 L586.7 587.3 L587.1 587.4 L587.5 586.7 L588.0 587.2 L588.4 585.3 L588.8 587.6 L589.3 585.8 L589.7 585.9 L590.2 586.8 L590.6 586.6 L591.0 587.8 L591.5 587.9 L591.9 587.0 L592.4 585.4 L592.8 586.2 L593.2 587.3 L593.7 586.3 L594.1 587.4 L594.5 586.9 L595.0 586.9 L595.4 589.5 L595.9 586.1 L596.3 586.9 L596.7 587.9 L597.2 587.1 L597.6 586.0 L598.1 586.9 L598.5 587.2 L598.9 586.7 L599.4 587.1 L599.8 586.3 L600.2 587.5 L600.7 586.3 L601.1 586.1 L601.6 585.6 L602.0 586.1 L602.4 586.7 L602.9 587.5 L603.3 586.1 L603.8 585.0 L604.2 586.9 L604.6 587.2 L605.1 587.4 L605.5 586.9 L605.9 586.7 L606.4 585.0 L606.8 585.4 L607.3 587.4 L607.7 586.5 L608.1 586.6 L608.6 588.6 L609.0 586.3 L609.5 586.4 L609.9 586.2 L610.3 586.4 L610.8 586.6 L611.2 584.7 L611.6 585.6 L612.1 586.6 L612.5 588.9 L613.0 583.9 L613.4 586.8 L613.8 586.4 L614.3 585.8 L614.7 584.8 L615.2 587.2 L615.6 588.3 L616.0 586.5 L616.5 587.6 L616.9 586.1 L617.3 584.5 L617.8 586.2 L618.2 586.1 L618.7 587.4 L619.1 584.1 L619.5 586.2 L620.0 585.4 L620.4 586.4 L620.9 588.0 L621.3 585.5 L621.7 586.0 L622.2 586.2 L622.6 586.1 L623.0 585.6 L623.5 585.8 L623.9 585.7 L624.4 586.0 L624.8 585.8 L625.2 584.4 L625.7 585.5 L626.1 584.4 L626.6 585.9 L627.0 585.7 L627.4 586.2 L627.9 586.8 L628.3 587.3 L628.7 585.1 L629.2 585.8 L629.6 586.8 L630.1 585.5 L630.5 587.2 L630.9 587.0 L631.4 585.8 L631.8 584.8 L632.3 585.8 L632.7 585.9 L633.1 585.5 L633.6 585.3 L634.0 585.9 L634.4 585.2 L634.9 585.6 L635.3 586.0 L635.8 585.6 L636.2 587.6 L636.6 584.7 L637.1 584.8 L637.5 585.8 L638.0 583.6 L638.4 584.1 L638.8 584.3 L639.3 585.0 L639.7 585.7 L640.1 585.7 L640.6 584.0 L641.0 583.8 L641.5 587.1 L641.9 586.7 L642.3 587.4 L642.8 585.6 L643.2 584.6 L643.7 585.1 L644.1 583.0 L644.5 586.2 L645.0 585.5 L645.4 585.1 L645.8 584.9 L646.3 583.2 L646.7 586.7 L647.2 585.8 L647.6 584.6 L648.0 586.9 L648.5 584.1 L648.9 586.6 L649.4 584.5 L649.8 584.9 L650.2 584.8 L650.7 583.6 L651.1 585.4 L651.5 586.4 L652.0 585.8 L652.4 585.2 L652.9 584.6 L653.3 584.5 L653.3 642.5 L652.9 642.8 L652.4 645.5 L652.0 644.1 L651.5 644.0 L651.1 643.3 L650.7 643.1 L650.2 644.3 L649.8 643.0 L649.4 643.5 L648.9 643.4 L648.5 641.8 L648.0 642.7 L647.6 641.3 L647.2 643.6 L646.7 645.4 L646.3 644.8 L645.8 643.9 L645.4 643.6 L645.0 645.1 L644.5 644.7 L644.1 644.1 L643.7 643.9 L643.2 642.9 L642.8 644.2 L642.3 644.1 L641.9 643.1 L641.5 646.2 L641.0 640.7 L640.6 644.8 L640.1 643.0 L639.7 645.7 L639.3 644.7 L638.8 642.9 L638.4 641.6 L638.0 644.7 L637.5 643.8 L637.1 643.7 L636.6 642.7 L636.2 642.2 L635.8 640.0 L635.3 644.8 L634.9 643.9 L634.4 643.0 L634.0 644.2 L633.6 643.3 L633.1 643.5 L632.7 643.1 L632.3 643.5 L631.8 640.9 L631.4 644.8 L630.9 646.2 L630.5 645.5 L630.1 644.4 L629.6 643.9 L629.2 643.4 L628.7 642.9 L628.3 644.8 L627.9 643.9 L627.4 643.9 L627.0 645.2 L626.6 644.1 L626.1 644.6 L625.7 644.7 L625.2 645.0 L624.8 643.8 L624.4 642.9 L623.9 644.4 L623.5 643.4 L623.0 644.1 L622.6 645.8 L622.2 643.3 L621.7 643.6 L621.3 642.2 L620.9 643.8 L620.4 645.1 L620.0 644.2 L619.5 643.7 L619.1 645.8 L618.7 643.2 L618.2 645.0 L617.8 644.8 L617.3 643.9 L616.9 641.3 L616.5 640.5 L616.0 644.8 L615.6 644.4 L615.2 644.5 L614.7 643.1 L614.3 642.8 L613.8 643.8 L613.4 646.6 L613.0 645.1 L612.5 645.5 L612.1 644.9 L611.6 645.2 L611.2 644.7 L610.8 642.6 L610.3 645.4 L609.9 645.2 L609.5 642.2 L609.0 644.5 L608.6 644.4 L608.1 644.8 L607.7 643.0 L607.3 642.7 L606.8 644.2 L606.4 645.1 L605.9 644.3 L605.5 645.5 L605.1 643.9 L604.6 644.9 L604.2 645.0 L603.8 644.8 L603.3 644.9 L602.9 643.3 L602.4 644.7 L602.0 643.9 L601.6 645.0 L601.1 644.9 L600.7 643.5 L600.2 645.3 L599.8 644.7 L599.4 646.0 L598.9 644.9 L598.5 642.8 L598.1 645.3 L597.6 644.2 L597.2 643.7 L596.7 645.7 L596.3 645.6 L595.9 645.7 L595.4 643.2 L595.0 645.6 L594.5 643.5 L594.1 645.9 L593.7 644.0 L593.2 642.8 L592.8 645.6 L592.4 644.9 L591.9 644.0 L591.5 644.3 L591.0 643.7 L590.6 643.6 L590.2 643.7 L589.7 646.6 L589.3 645.6 L588.8 645.9 L588.4 646.3 L588.0 645.3 L587.5 646.0 L587.1 643.8 L586.7 645.7 L586.2 645.2 L585.8 646.9 L585.3 646.5 L584.9 646.2 L584.5 645.9 L584.0 646.0 L583.6 644.0 L583.1 645.5 L582.7 645.5 L582.3 647.0 L581.8 644.9 L581.4 643.6 L581.0 645.2 L580.5 643.6 L580.1 646.0 L579.6 648.0 L579.2 645.9 L578.8 646.2 L578.3 643.4 L577.9 644.6 L577.4 646.3 L577.0 644.9 L576.6 648.0 L576.1 646.9 L575.7 646.3 L575.3 647.5 L574.8 646.8 L574.4 646.1 L573.9 645.4 L573.5 646.4 L573.1 646.7 L572.6 646.8 L572.2 645.6 L571.7 645.2 L571.3 646.9 L570.9 643.6 L570.4 645.9 L570.0 645.5 L569.6 645.2 L569.1 645.0 L568.7 645.7 L568.2 645.1 L567.8 645.1 L567.4 645.8 L566.9 647.6 L566.5 646.1 L566.0 646.5 L565.6 645.9 L565.2 646.3 L564.7 646.8 L564.3 644.0 L563.9 646.2 L563.4 646.7 L563.0 645.9 L562.5 646.5 L562.1 645.6 L561.7 647.0 L561.2 646.6 L560.8 645.5 L560.3 648.2 L559.9 646.9 L559.5 645.4 L559.0 645.6 L558.6 645.7 L558.2 645.5 L557.7 646.1 L557.3 648.5 L556.8 646.9 L556.4 646.5 L556.0 647.5 L555.5 644.5 L555.1 646.9 L554.6 645.1 L554.2 648.1 L553.8 645.6 L553.3 647.8 L552.9 647.6 L552.5 644.7 L552.0 646.2 L551.6 644.0 L551.1 646.0 L550.7 645.9 L550.3 647.0 L549.8 648.0 L549.4 647.7 L548.9 647.4 L548.5 648.5 L548.1 647.2 L547.6 646.1 L547.2 647.8 L546.8 647.0 L546.3 646.6 L545.9 647.8 L545.4 648.0 L545.0 647.1 L544.6 647.6 L544.1 647.4 L543.7 645.9 L543.2 647.3 L542.8 648.8 L542.4 646.6 L541.9 647.8 L541.5 645.4 L541.0 646.9 L540.6 646.8 L540.2 644.3 L539.7 648.4 L539.3 645.3 L538.9 646.0 L538.4 647.4 L538.0 647.3 L537.5 647.3 L537.1 647.2 L536.7 647.3 L536.2 645.4 L535.8 647.1 L535.3 647.1 L534.9 647.2 L534.5 646.7 L534.0 644.8 L533.6 647.1 L533.2 647.3 L532.7 648.3 L532.3 647.2 L531.8 648.1 L531.4 648.3 L531.0 645.9 L530.5 648.7 L530.1 646.7 L529.6 645.3 L529.2 648.4 L528.8 648.5 L528.3 647.3 L527.9 647.7 L527.5 648.4 L527.0 647.5 L526.6 647.6 L526.1 647.1 L525.7 645.3 L525.3 648.4 L524.8 647.6 L524.4 647.1 L523.9 648.8 L523.5 647.2 L523.1 647.6 L522.6 648.7 L522.2 647.4 L521.8 648.0 L521.3 648.2 L520.9 647.8 L520.4 648.9 L520.0 646.5 L519.6 647.4 L519.1 650.2 L518.7 647.8 L518.2 649.5 L517.8 649.6 L517.4 648.0 L516.9 648.7 L516.5 648.2 L516.1 645.9 L515.6 648.8 L515.2 649.8 L514.7 647.8 L514.3 647.4 L513.9 648.7 L513.4 648.8 L513.0 647.2 L512.5 648.3 L512.1 647.8 L511.7 647.9 L511.2 648.2 L510.8 649.3 L510.4 650.0 L509.9 648.8 L509.5 651.2 L509.0 648.5 L508.6 650.6 L508.2 648.8 L507.7 648.5 L507.3 648.2 L506.8 651.1 L506.4 649.3 L506.0 651.4 L505.5 650.2 L505.1 649.5 L504.7 650.4 L504.2 650.0 L503.8 650.6 L503.3 649.2 L502.9 650.5 L502.5 651.0 L502.0 652.2 L501.6 651.3 L501.1 649.1 L500.7 650.8 L500.3 649.2 L499.8 649.3 L499.4 649.2 L499.0 650.4 L498.5 652.3 L498.1 651.5 L497.6 648.6 L497.2 650.8 L496.8 651.7 L496.3 651.4 L495.9 651.4 L495.4 650.8 L495.0 649.7 L494.6 650.0 L494.1 653.4 L493.7 651.6 L493.3 653.0 L492.8 652.0 L492.4 651.2 L491.9 651.0 L491.5 651.3 L491.1 650.7 L490.6 652.3 L490.2 652.7 L489.7 651.4 L489.3 652.1 L488.9 652.7 L488.4 648.1 L488.0 654.1 L487.6 652.0 L487.1 653.0 L486.7 652.7 L486.2 650.8 L485.8 653.6 L485.4 651.1 L484.9 652.0 L484.5 654.2 L484.0 653.1 L483.6 650.5 L483.2 652.4 L482.7 651.5 L482.3 651.0 L481.9 651.1 L481.4 651.6 L481.0 651.4 L480.5 651.6 L480.1 651.1 L479.7 651.0 L479.2 650.4 L478.8 650.5 L478.3 652.1 L477.9 650.4 L477.5 651.9 L477.0 652.6 L476.6 652.8 L476.2 651.6 L475.7 654.7 L475.3 652.2 L474.8 654.4 L474.4 652.2 L474.0 652.3 L473.5 651.0 L473.1 651.4 L472.6 651.0 L472.2 652.4 L471.8 651.3 L471.3 652.5 L470.9 651.2 L470.5 651.3 L470.0 651.8 L469.6 652.9 L469.1 651.1 L468.7 653.9 L468.3 652.3 L467.8 651.5 L467.4 651.5 L466.9 652.5 L466.5 651.5 L466.1 653.3 L465.6 654.1 L465.2 652.5 L464.8 650.7 L464.3 651.4 L463.9 652.3 L463.4 653.8 L463.0 653.0 L462.6 651.7 L462.1 651.8 L461.7 650.9 L461.2 655.4 L460.8 653.8 L460.4 653.5 L459.9 652.4 L459.5 653.5 L459.1 651.2 L458.6 653.5 L458.2 651.0 L457.7 654.5 L457.3 655.3 L456.9 653.0 L456.4 652.2 L456.0 650.7 L455.5 654.7 L455.1 653.1 L454.7 652.5 L454.2 653.5 L453.8 655.0 L453.4 653.1 L452.9 654.0 L452.5 654.4 L452.0 654.8 L451.6 655.6 L451.2 653.5 L450.7 653.9 L450.3 654.1 L449.8 656.1 L449.4 656.8 L449.0 658.5 L448.5 655.5 L448.1 656.3 L447.7 655.2 L447.2 657.6 L446.8 657.6 L446.3 660.9 L445.9 659.3 L445.5 660.2 L445.0 658.9 L444.6 659.1 L444.1 661.3 L443.7 662.0 L443.3 663.5 L442.8 662.2 L442.4 661.6 L442.0 659.3 L441.5 661.6 L441.1 660.6 L440.6 662.3 L440.2 663.0 L439.8 661.6 L439.3 663.6 L438.9 663.5 L438.4 664.0 L438.0 662.7 L437.6 662.2 L437.1 663.6 L436.7 662.6 L436.3 663.7 L435.8 662.2 L435.4 663.8 L434.9 663.7 L434.5 664.2Z" fill="#4376e2"/>
<path d="M434.5 648.9 L434.9 649.0 L435.4 649.0 L435.8 649.2 L436.3 649.4 L436.7 649.4 L437.1 649.2 L437.6 649.0 L438.0 649.3 L438.4 649.6 L438.9 649.5 L439.3 649.6 L439.8 649.8 L440.2 649.5 L440.6 649.6 L441.1 649.5 L441.5 648.9 L442.0 649.2 L442.4 649.1 L442.8 649.5 L443.3 649.5 L443.7 649.8 L444.1 650.1 L444.6 650.1 L445.0 649.8 L445.5 649.5 L445.9 649.1 L446.3 649.7 L446.8 650.2 L447.2 649.9 L447.7 649.7 L448.1 650.1 L448.5 650.0 L449.0 649.7 L449.4 649.9 L449.8 649.8 L450.3 649.9 L450.7 650.0 L451.2 649.6 L451.6 649.8 L452.0 650.0 L452.5 649.9 L452.9 650.1 L453.4 650.1 L453.8 650.0 L454.2 650.1 L454.7 649.5 L455.1 650.1 L455.5 650.1 L456.0 649.6 L456.4 650.5 L456.9 650.2 L457.3 649.9 L457.7 650.2 L458.2 650.3 L458.6 650.6 L459.1 650.4 L459.5 650.6 L459.9 650.1 L460.4 650.3 L460.8 650.5 L461.2 650.2 L461.7 650.8 L462.1 650.8 L462.6 650.3 L463.0 650.5 L463.4 650.9 L463.9 650.8 L464.3 650.7 L464.8 650.8 L465.2 650.6 L465.6 650.7 L466.1 650.6 L466.5 650.8 L466.9 650.7 L467.4 650.9 L467.8 650.7 L468.3 650.7 L468.7 650.6 L469.1 650.7 L469.6 651.0 L470.0 650.9 L470.5 650.5 L470.9 650.9 L471.3 650.9 L471.8 650.5 L472.2 650.7 L472.6 650.7 L473.1 651.2 L473.5 651.2 L474.0 650.9 L474.4 650.4 L474.8 651.4 L475.3 651.4 L475.7 650.8 L476.2 650.9 L476.6 651.3 L477.0 650.8 L477.5 651.0 L477.9 651.1 L478.3 651.1 L478.8 651.2 L479.2 651.0 L479.7 651.2 L480.1 651.4 L480.5 651.3 L481.0 651.0 L481.4 650.8 L481.9 651.3 L482.3 651.4 L482.7 651.0 L483.2 650.8 L483.6 651.2 L484.0 650.7 L484.5 651.4 L484.9 650.8 L485.4 651.0 L485.8 651.6 L486.2 651.0 L486.7 651.3 L487.1 651.3 L487.6 651.4 L488.0 651.2 L488.4 651.4 L488.9 651.2 L489.3 651.0 L489.7 650.9 L490.2 651.0 L490.6 651.0 L491.1 651.2 L491.5 651.4 L491.9 651.6 L492.4 651.0 L492.8 651.4 L493.3 651.3 L493.7 651.7 L494.1 651.2 L494.6 651.0 L495.0 651.4 L495.4 651.1 L495.9 651.4 L496.3 651.4 L496.8 651.5 L497.2 652.1 L497.6 651.3 L498.1 651.3 L498.5 651.3 L499.0 651.0 L499.4 651.2 L499.8 651.3 L500.3 651.7 L500.7 650.7 L501.1 651.8 L501.6 651.6 L502.0 651.6 L502.5 651.1 L502.9 651.3 L503.3 651.3 L503.8 651.9 L504.2 651.6 L504.7 651.1 L505.1 651.5 L505.5 651.7 L506.0 651.3 L506.4 651.5 L506.8 651.4 L507.3 651.3 L507.7 651.6 L508.2 651.4 L508.6 651.0 L509.0 651.4 L509.5 651.4 L509.9 651.5 L510.4 651.2 L510.8 651.2 L511.2 651.5 L511.7 651.3 L512.1 650.8 L512.5 651.7 L513.0 651.0 L513.4 651.0 L513.9 651.7 L514.3 651.7 L514.7 651.4 L515.2 650.9 L515.6 651.4 L516.1 651.2 L516.5 651.2 L516.9 651.2 L517.4 650.7 L517.8 651.1 L518.2 651.5 L518.7 651.1 L519.1 651.0 L519.6 651.5 L520.0 651.1 L520.4 651.3 L520.9 651.5 L521.3 651.4 L521.8 650.9 L522.2 651.2 L522.6 651.6 L523.1 650.9 L523.5 651.2 L523.9 651.9 L524.4 651.4 L524.8 651.7 L525.3 651.3 L525.7 650.3 L526.1 650.5 L526.6 651.0 L527.0 651.3 L527.5 651.4 L527.9 651.3 L528.3 651.0 L528.8 650.7 L529.2 651.0 L529.6 650.7 L530.1 651.0 L530.5 651.6 L531.0 650.9 L531.4 650.7 L531.8 650.8 L532.3 650.7 L532.7 651.2 L533.2 651.0 L533.6 650.9 L534.0 650.9 L534.5 650.8 L534.9 650.7 L535.3 651.0 L535.8 651.2 L536.2 651.0 L536.7 651.0 L537.1 651.0 L537.5 651.2 L538.0 650.6 L538.4 650.6 L538.9 650.6 L539.3 650.7 L539.7 650.7 L540.2 651.0 L540.6 651.0 L541.0 650.8 L541.5 651.3 L541.9 650.8 L542.4 651.4 L542.8 650.3 L543.2 650.6 L543.7 651.0 L544.1 650.8 L544.6 650.9 L545.0 650.4 L545.4 650.5 L545.9 650.8 L546.3 650.9 L546.8 650.6 L547.2 650.7 L547.6 650.8 L548.1 650.9 L548.5 651.2 L548.9 651.1 L549.4 651.0 L549.8 651.2 L550.3 651.0 L550.7 650.2 L551.1 650.7 L551.6 650.5 L552.0 650.9 L552.5 650.4 L552.9 650.7 L553.3 650.5 L553.8 650.4 L554.2 650.6 L554.6 650.2 L555.1 651.0 L555.5 650.8 L556.0 650.6 L556.4 650.7 L556.8 650.6 L557.3 650.1 L557.7 650.8 L558.2 650.6 L558.6 650.8 L559.0 650.9 L559.5 651.2 L559.9 650.5 L560.3 650.3 L560.8 650.7 L561.2 650.3 L561.7 651.0 L562.1 650.7 L562.5 650.7 L563.0 650.4 L563.4 650.6 L563.9 650.5 L564.3 650.2 L564.7 650.9 L565.2 650.7 L565.6 650.5 L566.0 650.8 L566.5 650.5 L566.9 651.1 L567.4 650.9 L567.8 650.7 L568.2 651.1 L568.7 650.0 L569.1 650.1 L569.6 650.3 L570.0 650.4 L570.4 650.3 L570.9 650.7 L571.3 650.6 L571.7 651.1 L572.2 650.3 L572.6 650.6 L573.1 651.1 L573.5 650.8 L573.9 650.4 L574.4 651.0 L574.8 650.7 L575.3 651.2 L575.7 650.7 L576.1 650.6 L576.6 651.2 L577.0 650.8 L577.4 650.4 L577.9 650.6 L578.3 650.1 L578.8 650.3 L579.2 650.2 L579.6 650.9 L580.1 650.8 L580.5 650.4 L581.0 650.4 L581.4 650.7 L581.8 650.6 L582.3 650.8 L582.7 650.6 L583.1 650.4 L583.6 650.1 L584.0 650.3 L584.5 650.2 L584.9 650.5 L585.3 650.3 L585.8 650.2 L586.2 650.7 L586.7 650.2 L587.1 650.3 L587.5 650.2 L588.0 650.3 L588.4 650.6 L588.8 650.6 L589.3 650.4 L589.7 651.1 L590.2 650.7 L590.6 650.6 L591.0 650.6 L591.5 650.7 L591.9 650.7 L592.4 650.5 L592.8 650.6 L593.2 650.1 L593.7 650.4 L594.1 650.4 L594.5 650.2 L595.0 650.4 L595.4 650.4 L595.9 650.1 L596.3 650.1 L596.7 650.5 L597.2 650.8 L597.6 650.6 L598.1 650.2 L598.5 650.8 L598.9 650.5 L599.4 650.4 L599.8 650.8 L600.2 650.1 L600.7 650.4 L601.1 650.8 L601.6 650.6 L602.0 650.3 L602.4 650.0 L602.9 650.3 L603.3 650.3 L603.8 650.4 L604.2 649.9 L604.6 650.0 L605.1 650.8 L605.5 650.3 L605.9 650.2 L606.4 650.4 L606.8 650.2 L607.3 650.1 L607.7 650.6 L608.1 650.0 L608.6 650.3 L609.0 650.0 L609.5 650.2 L609.9 650.3 L610.3 649.9 L610.8 650.2 L611.2 649.9 L611.6 650.1 L612.1 649.7 L612.5 650.5 L613.0 650.3 L613.4 650.5 L613.8 650.6 L614.3 650.2 L614.7 650.7 L615.2 650.3 L615.6 649.9 L616.0 650.1 L616.5 650.4 L616.9 650.3 L617.3 650.1 L617.8 649.8 L618.2 650.3 L618.7 650.2 L619.1 650.1 L619.5 650.3 L620.0 650.1 L620.4 650.2 L620.9 649.9 L621.3 650.4 L621.7 650.2 L622.2 650.1 L622.6 650.4 L623.0 650.3 L623.5 650.2 L623.9 650.6 L624.4 650.3 L624.8 650.5 L625.2 650.3 L625.7 650.4 L626.1 650.3 L626.6 650.0 L627.0 649.9 L627.4 650.0 L627.9 650.4 L628.3 650.1 L628.7 650.5 L629.2 650.0 L629.6 650.0 L630.1 650.3 L630.5 650.2 L630.9 649.9 L631.4 650.0 L631.8 650.3 L632.3 650.4 L632.7 650.6 L633.1 650.2 L633.6 650.3 L634.0 650.2 L634.4 650.0 L634.9 650.5 L635.3 650.3 L635.8 650.2 L636.2 650.6 L636.6 650.2 L637.1 650.3 L637.5 650.0 L638.0 649.9 L638.4 649.9 L638.8 650.2 L639.3 650.1 L639.7 650.1 L640.1 649.8 L640.6 650.6 L641.0 650.2 L641.5 650.3 L641.9 650.1 L642.3 649.8 L642.8 650.0 L643.2 650.1 L643.7 650.3 L644.1 650.0 L644.5 650.0 L645.0 650.3 L645.4 649.9 L645.8 650.2 L646.3 650.6 L646.7 650.1 L647.2 649.9 L647.6 649.9 L648.0 650.0 L648.5 650.1 L648.9 649.9 L649.4 649.9 L649.8 650.5 L650.2 650.2 L650.7 650.0 L651.1 650.1 L651.5 649.8 L652.0 649.8 L652.4 650.0 L652.9 650.1 L653.3 649.6 L653.3 661.8 L652.9 661.8 L652.4 661.3 L652.0 662.3 L651.5 661.6 L651.1 661.8 L650.7 661.5 L650.2 661.9 L649.8 661.8 L649.4 661.7 L648.9 661.7 L648.5 661.5 L648.0 662.5 L647.6 661.7 L647.2 661.8 L646.7 661.9 L646.3 661.6 L645.8 661.9 L645.4 661.5 L645.0 661.8 L644.5 662.0 L644.1 661.7 L643.7 661.2 L643.2 661.9 L642.8 661.7 L642.3 661.4 L641.9 661.8 L641.5 662.2 L641.0 662.2 L640.6 661.6 L640.1 662.0 L639.7 662.0 L639.3 662.0 L638.8 661.8 L638.4 661.8 L638.0 661.6 L637.5 661.9 L637.1 661.8 L636.6 662.3 L636.2 661.9 L635.8 661.9 L635.3 661.6 L634.9 662.0 L634.4 661.7 L634.0 661.7 L633.6 661.5 L633.1 662.1 L632.7 661.4 L632.3 661.9 L631.8 662.1 L631.4 661.8 L630.9 661.9 L630.5 661.4 L630.1 661.4 L629.6 661.9 L629.2 661.5 L628.7 661.3 L628.3 661.5 L627.9 661.9 L627.4 662.5 L627.0 661.2 L626.6 661.8 L626.1 662.5 L625.7 661.7 L625.2 662.1 L624.8 661.7 L624.4 661.4 L623.9 661.8 L623.5 662.0 L623.0 662.1 L622.6 661.9 L622.2 661.9 L621.7 661.7 L621.3 662.1 L620.9 661.5 L620.4 662.0 L620.0 661.2 L619.5 661.9 L619.1 661.9 L618.7 661.7 L618.2 661.3 L617.8 661.7 L617.3 661.4 L616.9 661.9 L616.5 661.9 L616.0 661.9 L615.6 661.8 L615.2 661.8 L614.7 661.4 L614.3 661.5 L613.8 661.9 L613.4 662.5 L613.0 661.5 L612.5 662.2 L612.1 661.9 L611.6 661.5 L611.2 661.8 L610.8 661.9 L610.3 661.7 L609.9 661.5 L609.5 662.5 L609.0 662.1 L608.6 662.1 L608.1 662.0 L607.7 661.5 L607.3 661.8 L606.8 662.2 L606.4 661.9 L605.9 661.7 L605.5 661.9 L605.1 662.0 L604.6 662.4 L604.2 661.7 L603.8 660.9 L603.3 662.2 L602.9 662.3 L602.4 661.7 L602.0 661.9 L601.6 662.0 L601.1 661.3 L600.7 662.0 L600.2 661.9 L599.8 661.4 L599.4 662.3 L598.9 662.1 L598.5 662.0 L598.1 661.8 L597.6 661.4 L597.2 661.5 L596.7 661.8 L596.3 662.1 L595.9 662.0 L595.4 662.1 L595.0 661.6 L594.5 661.4 L594.1 661.8 L593.7 661.8 L593.2 661.8 L592.8 662.1 L592.4 661.9 L591.9 661.8 L591.5 661.9 L591.0 662.3 L590.6 662.6 L590.2 662.2 L589.7 661.8 L589.3 662.4 L588.8 661.6 L588.4 662.1 L588.0 662.0 L587.5 661.3 L587.1 661.9 L586.7 661.9 L586.2 662.4 L585.8 662.3 L585.3 661.8 L584.9 661.7 L584.5 661.4 L584.0 661.9 L583.6 661.6 L583.1 661.8 L582.7 661.7 L582.3 661.8 L581.8 661.7 L581.4 661.5 L581.0 661.8 L580.5 662.0 L580.1 661.7 L579.6 661.5 L579.2 661.4 L578.8 661.8 L578.3 661.4 L577.9 661.8 L577.4 662.4 L577.0 662.2 L576.6 661.4 L576.1 661.8 L575.7 661.9 L575.3 661.7 L574.8 662.2 L574.4 662.1 L573.9 662.0 L573.5 661.5 L573.1 662.3 L572.6 660.8 L572.2 662.1 L571.7 662.2 L571.3 661.9 L570.9 662.2 L570.4 661.7 L570.0 662.0 L569.6 662.0 L569.1 661.5 L568.7 661.9 L568.2 661.7 L567.8 661.7 L567.4 661.5 L566.9 661.5 L566.5 661.6 L566.0 661.7 L565.6 661.8 L565.2 662.0 L564.7 662.1 L564.3 661.9 L563.9 661.9 L563.4 661.6 L563.0 661.6 L562.5 662.5 L562.1 661.8 L561.7 662.0 L561.2 661.6 L560.8 662.0 L560.3 661.6 L559.9 662.0 L559.5 661.2 L559.0 662.3 L558.6 661.6 L558.2 662.0 L557.7 662.3 L557.3 661.7 L556.8 662.5 L556.4 661.7 L556.0 661.7 L555.5 661.1 L555.1 661.4 L554.6 661.9 L554.2 661.6 L553.8 662.0 L553.3 661.4 L552.9 661.5 L552.5 661.7 L552.0 662.0 L551.6 662.0 L551.1 661.6 L550.7 661.5 L550.3 662.2 L549.8 662.1 L549.4 662.3 L548.9 661.4 L548.5 661.7 L548.1 661.6 L547.6 661.9 L547.2 662.0 L546.8 661.9 L546.3 662.0 L545.9 662.0 L545.4 662.4 L545.0 661.8 L544.6 661.7 L544.1 661.8 L543.7 662.0 L543.2 661.9 L542.8 662.0 L542.4 661.5 L541.9 661.7 L541.5 661.7 L541.0 661.8 L540.6 661.7 L540.2 661.8 L539.7 661.5 L539.3 661.8 L538.9 661.6 L538.4 662.1 L538.0 662.3 L537.5 661.8 L537.1 661.7 L536.7 661.5 L536.2 660.9 L535.8 662.0 L535.3 662.1 L534.9 662.1 L534.5 661.9 L534.0 662.0 L533.6 661.6 L533.2 661.9 L532.7 662.0 L532.3 662.2 L531.8 661.7 L531.4 661.8 L531.0 662.3 L530.5 662.0 L530.1 662.2 L529.6 662.1 L529.2 662.0 L528.8 661.7 L528.3 662.1 L527.9 662.1 L527.5 662.0 L527.0 662.0 L526.6 661.8 L526.1 661.9 L525.7 662.0 L525.3 662.2 L524.8 662.3 L524.4 661.6 L523.9 661.7 L523.5 662.0 L523.1 661.5 L522.6 661.9 L522.2 661.2 L521.8 662.0 L521.3 661.8 L520.9 661.5 L520.4 661.7 L520.0 661.4 L519.6 661.4 L519.1 662.1 L518.7 661.8 L518.2 662.2 L517.8 662.1 L517.4 661.8 L516.9 661.8 L516.5 661.5 L516.1 661.8 L515.6 661.7 L515.2 662.4 L514.7 662.2 L514.3 661.8 L513.9 662.0 L513.4 661.8 L513.0 662.1 L512.5 661.7 L512.1 662.1 L511.7 661.2 L511.2 661.6 L510.8 661.9 L510.4 661.5 L509.9 661.8 L509.5 661.4 L509.0 661.9 L508.6 662.1 L508.2 661.5 L507.7 662.1 L507.3 661.9 L506.8 662.0 L506.4 662.0 L506.0 662.1 L505.5 661.9 L505.1 661.4 L504.7 662.0 L504.2 662.2 L503.8 662.0 L503.3 662.0 L502.9 661.8 L502.5 661.8 L502.0 661.9 L501.6 662.0 L501.1 661.8 L500.7 661.3 L500.3 661.8 L499.8 661.5 L499.4 661.8 L499.0 661.5 L498.5 661.5 L498.1 662.1 L497.6 661.8 L497.2 661.4 L496.8 661.8 L496.3 662.0 L495.9 662.0 L495.4 661.9 L495.0 661.6 L494.6 661.5 L494.1 662.0 L493.7 661.3 L493.3 661.9 L492.8 661.7 L492.4 661.3 L491.9 661.7 L491.5 662.0 L491.1 662.1 L490.6 661.6 L490.2 661.3 L489.7 662.1 L489.3 661.8 L488.9 661.6 L488.4 662.6 L488.0 661.6 L487.6 661.9 L487.1 661.6 L486.7 662.6 L486.2 661.9 L485.8 661.9 L485.4 662.0 L484.9 661.7 L484.5 661.4 L484.0 662.0 L483.6 661.5 L483.2 662.2 L482.7 661.6 L482.3 661.5 L481.9 662.1 L481.4 662.0 L481.0 661.6 L480.5 661.9 L480.1 661.7 L479.7 662.2 L479.2 662.0 L478.8 662.1 L478.3 661.7 L477.9 661.6 L477.5 661.9 L477.0 661.8 L476.6 661.6 L476.2 662.1 L475.7 661.8 L475.3 661.7 L474.8 662.3 L474.4 662.1 L474.0 662.2 L473.5 661.8 L473.1 661.9 L472.6 662.0 L472.2 661.8 L471.8 661.5 L471.3 661.5 L470.9 661.6 L470.5 661.9 L470.0 661.9 L469.6 662.0 L469.1 661.6 L468.7 661.8 L468.3 661.6 L467.8 662.0 L467.4 662.2 L466.9 661.7 L466.5 662.1 L466.1 662.0 L465.6 661.2 L465.2 661.5 L464.8 661.5 L464.3 662.0 L463.9 661.9 L463.4 662.1 L463.0 661.7 L462.6 662.2 L462.1 662.0 L461.7 662.0 L461.2 661.6 L460.8 661.9 L460.4 662.2 L459.9 661.9 L459.5 661.5 L459.1 661.6 L458.6 661.7 L458.2 661.5 L457.7 661.5 L457.3 662.3 L456.9 661.5 L456.4 661.2 L456.0 661.5 L455.5 661.7 L455.1 662.0 L454.7 661.8 L454.2 661.7 L453.8 661.9 L453.4 662.2 L452.9 661.7 L452.5 661.9 L452.0 662.1 L451.6 662.2 L451.2 661.5 L450.7 662.3 L450.3 661.8 L449.8 662.1 L449.4 661.5 L449.0 662.0 L448.5 662.3 L448.1 662.0 L447.7 661.9 L447.2 662.0 L446.8 661.7 L446.3 662.0 L445.9 661.5 L445.5 662.2 L445.0 661.8 L444.6 661.8 L444.1 661.7 L443.7 662.4 L443.3 661.6 L442.8 661.8 L442.4 661.7 L442.0 661.9 L441.5 661.6 L441.1 662.0 L440.6 661.7 L440.2 662.1 L439.8 661.7 L439.3 661.3 L438.9 661.5 L438.4 661.9 L438.0 661.7 L437.6 661.0 L437.1 661.5 L436.7 661.8 L436.3 661.7 L435.8 661.7 L435.4 661.3 L434.9 661.9 L434.5 662.1Z" fill="#ee3d45"/>
<rect x="413.6" y="492.4" width="261.3" height="191.7" fill="none" stroke="#3a3a3a" stroke-width="1.1"/>
<path d="M413.6 684.1h3.8M413.6 661.6h3.8M413.6 639.1h3.8M413.6 616.6h3.8M413.6 594.1h3.8M413.6 571.6h3.8M413.6 549.1h3.8M413.6 526.6h3.8M413.6 504.1h3.8M413.6 672.9h2.0M413.6 650.4h2.0M413.6 627.9h2.0M413.6 605.4h2.0M413.6 582.9h2.0M413.6 560.4h2.0M413.6 537.9h2.0M413.6 515.4h2.0M674.9 684.1h-3.8M674.9 661.6h-3.8M674.9 639.1h-3.8M674.9 616.6h-3.8M674.9 594.1h-3.8M674.9 571.6h-3.8M674.9 549.1h-3.8M674.9 526.6h-3.8M674.9 504.1h-3.8M674.9 672.9h-2.0M674.9 650.4h-2.0M674.9 627.9h-2.0M674.9 605.4h-2.0M674.9 582.9h-2.0M674.9 560.4h-2.0M674.9 537.9h-2.0M674.9 515.4h-2.0M434.5 492.4v3.8M478.3 492.4v3.8M522.0 492.4v3.8M565.8 492.4v3.8M609.5 492.4v3.8M653.3 492.4v3.8M456.4 492.4v2.0M500.1 492.4v2.0M543.9 492.4v2.0M587.7 492.4v2.0M631.4 492.4v2.0" stroke="#3a3a3a" stroke-width="1.1" fill="none"/>
<path d="M426.6 508.6H450.2" stroke="#ee3d45" stroke-width="1.1" opacity="0.85"/><path d="M426.6 521.7H450.2" stroke="#4376e2" stroke-width="1.1" opacity="0.85"/><path d="M426.6 534.6H450.2" stroke="#5bbb73" stroke-width="1.1" opacity="0.85"/></g>
<g font-family="Liberation Sans, sans-serif" font-weight="bold" fill="#111"><text x="407.9" y="687.9" font-size="12" text-anchor="end" >&#8722;20</text>
<text x="407.9" y="665.4" font-size="12" text-anchor="end" >0</text>
<text x="407.9" y="642.9" font-size="12" text-anchor="end" >20</text>
<text x="407.9" y="620.4" font-size="12" text-anchor="end" >40</text>
<text x="407.9" y="597.9" font-size="12" text-anchor="end" >60</text>
<text x="407.9" y="575.4" font-size="12" text-anchor="end" >80</text>
<text x="407.9" y="552.9" font-size="12" text-anchor="end" >100</text>
<text x="407.9" y="530.4" font-size="12" text-anchor="end" >120</text>
<text x="407.9" y="507.9" font-size="12" text-anchor="end" >140</text>
<text x="434.5" y="698.5" font-size="12" text-anchor="middle" >0</text>
<text x="478.3" y="698.5" font-size="12" text-anchor="middle" >200</text>
<text x="522.0" y="698.5" font-size="12" text-anchor="middle" >400</text>
<text x="565.8" y="698.5" font-size="12" text-anchor="middle" >600</text>
<text x="609.5" y="698.5" font-size="12" text-anchor="middle" >800</text>
<text x="653.3" y="698.5" font-size="12" text-anchor="middle" >1000</text>
<text x="453.3" y="512.1" font-size="10.3" text-anchor="start" >5% stretching stratin</text>
<text x="453.3" y="525.0" font-size="10.3" text-anchor="start" >10% stretching stratin</text>
<text x="453.3" y="537.9" font-size="10.3" text-anchor="start" >20% stretching stratin</text>
<text x="544.3" y="720.9" font-size="15" text-anchor="middle" >Number of stretching (cycles)</text>
<text transform="translate(373.8,588.6) rotate(-90)" font-size="15" text-anchor="middle">Resistance change (%)</text>
</g>
<g><path d="M88.0 905.4 L88.5 906.1 L89.0 906.1 L89.5 905.9 L90.0 905.1 L90.4 905.7 L90.9 905.8 L91.4 906.0 L91.9 905.5 L92.4 905.8 L92.9 905.6 L93.4 905.9 L93.9 905.9 L94.3 905.7 L94.8 905.5 L95.3 905.4 L95.8 905.1 L96.3 905.3 L96.8 905.3 L97.3 905.6 L97.8 905.7 L98.2 905.9 L98.7 905.9 L99.2 906.0 L99.7 906.1 L100.2 905.6 L100.7 905.5 L101.2 905.5 L101.7 906.1 L102.1 906.1 L102.6 905.5 L103.1 906.1 L103.6 905.9 L104.1 905.8 L104.6 905.8 L105.1 905.8 L105.6 905.7 L106.0 905.9 L106.5 906.4 L107.0 906.4 L107.5 905.1 L108.0 906.5 L108.5 906.4 L109.0 906.3 L109.5 906.2 L109.9 906.1 L110.4 905.8 L110.9 906.0 L111.4 905.9 L111.9 905.3 L112.4 905.4 L112.9 904.4 L113.4 904.3 L113.9 904.2 L114.3 904.4 L114.8 904.5 L115.3 905.6 L115.8 905.9 L116.3 905.6 L116.8 905.6 L117.3 905.2 L117.8 906.1 L118.2 906.2 L118.7 905.4 L119.2 906.0 L119.7 906.2 L120.2 906.7 L120.7 906.8 L121.2 906.6 L121.7 906.6 L122.1 906.9 L122.6 906.8 L123.1 906.9 L123.6 907.3 L124.1 907.0 L124.6 907.5 L125.1 907.7 L125.6 906.8 L126.0 906.9 L126.5 907.4 L127.0 907.6 L127.5 907.5 L128.0 907.4 L128.5 906.7 L129.0 907.4 L129.5 907.3 L129.9 907.2 L130.4 908.2 L130.9 908.2 L131.4 907.8 L131.9 907.8 L132.4 907.5 L132.9 908.0 L133.4 908.2 L133.8 908.3 L134.3 907.9 L134.8 906.9 L135.3 907.8 L135.8 907.5 L136.3 907.0 L136.8 907.3 L137.3 906.2 L137.8 907.3 L138.2 907.8 L138.7 908.2 L139.2 908.3 L139.7 908.3 L140.2 908.8 L140.7 908.7 L141.2 908.7 L141.7 908.7 L142.1 908.5 L142.6 907.7 L143.1 907.7 L143.6 908.4 L144.1 908.4 L144.6 908.3 L145.1 907.9 L145.6 908.9 L146.0 908.7 L146.5 908.7 L147.0 908.6 L147.5 908.1 L148.0 908.4 L148.5 908.1 L149.0 907.6 L149.5 907.3 L149.9 907.2 L150.4 907.1 L150.9 907.6 L151.4 907.7 L151.9 907.8 L152.4 907.7 L152.9 907.5 L153.4 908.0 L153.8 907.5 L154.3 907.8 L154.8 906.9 L155.3 907.4 L155.8 907.7 L156.3 907.6 L156.8 907.6 L157.3 907.6 L157.7 908.0 L158.2 908.4 L158.7 908.2 L159.2 908.2 L159.7 907.8 L160.2 907.8 L160.7 908.1 L161.2 908.4 L161.7 908.4 L162.1 907.2 L162.6 907.8 L163.1 908.1 L163.6 908.2 L164.1 907.2 L164.6 908.1 L165.1 908.2 L165.6 908.6 L166.0 908.6 L166.5 908.0 L167.0 907.2 L167.5 907.5 L168.0 907.2 L168.5 907.7 L169.0 907.6 L169.5 907.6 L169.9 907.4 L170.4 907.2 L170.9 907.8 L171.4 907.4 L171.9 906.9 L172.4 906.3 L172.9 906.8 L173.4 906.7 L173.8 905.4 L174.3 906.9 L174.8 906.1 L175.3 906.9 L175.8 906.4 L176.3 907.1 L176.8 907.0 L177.3 906.7 L177.7 906.9 L178.2 907.0 L178.7 906.3 L179.2 906.9 L179.7 906.6 L180.2 907.2 L180.7 906.5 L181.2 907.3 L181.6 907.7 L182.1 907.9 L182.6 907.6 L183.1 907.5 L183.6 907.1 L184.1 907.5 L184.6 906.6 L185.1 906.8 L185.6 906.6 L186.0 906.5 L186.5 905.6 L187.0 906.0 L187.5 905.3 L188.0 905.9 L188.5 905.5 L189.0 905.8 L189.5 906.2 L189.9 906.5 L190.4 906.4 L190.9 906.2 L191.4 906.1 L191.9 905.3 L192.4 905.5 L192.9 905.4 L193.4 905.0 L193.8 905.0 L194.3 905.7 L194.8 906.1 L195.3 906.6 L195.8 906.7 L196.3 906.5 L196.8 906.8 L197.3 906.4 L197.7 906.0 L198.2 905.7 L198.7 906.2 L199.2 905.5 L199.7 906.0 L200.2 905.8 L200.7 905.6 L201.2 905.7 L201.6 905.4 L202.1 905.5 L202.6 905.2 L203.1 904.9 L203.6 905.0 L204.1 905.2 L204.6 904.9 L205.1 905.7 L205.5 905.8 L206.0 905.9 L206.5 905.5 L207.0 905.3 L207.5 905.5 L208.0 905.3 L208.5 905.5 L209.0 905.0 L209.4 904.8 L209.9 904.1 L210.4 903.9 L210.9 903.4 L211.4 903.4 L211.9 903.9 L212.4 903.4 L212.9 903.8 L213.4 904.0 L213.8 904.1 L214.3 903.3 L214.8 903.8 L215.3 903.7 L215.8 903.6 L216.3 903.3 L216.8 903.7 L217.3 903.1 L217.7 903.3 L218.2 902.8 L218.7 903.1 L219.2 902.5 L219.7 903.1 L220.2 902.8 L220.7 903.3 L221.2 903.1 L221.6 903.1 L222.1 902.6 L222.6 902.1 L223.1 903.0 L223.6 903.0 L224.1 903.0 L224.6 903.1 L225.1 902.9 L225.5 902.8 L226.0 902.7 L226.5 902.2 L227.0 902.4 L227.5 902.5 L228.0 902.1 L228.5 902.2 L229.0 902.2 L229.4 901.4 L229.9 901.9 L230.4 901.9 L230.9 901.5 L231.4 901.6 L231.9 901.2 L232.4 901.3 L232.9 901.0 L233.3 900.2 L233.8 900.9 L234.3 900.3 L234.8 900.4 L235.3 900.5 L235.8 900.1 L236.3 900.6 L236.8 900.8 L237.3 901.5 L237.7 901.1 L238.2 901.6 L238.7 901.8 L239.2 901.5 L239.7 901.1 L240.2 900.4 L240.7 899.2 L241.2 899.6 L241.6 898.9 L242.1 899.0 L242.6 898.6 L243.1 898.8 L243.6 899.2 L244.1 899.7 L244.6 900.0 L245.1 899.4 L245.5 900.2 L246.0 900.2 L246.5 899.6 L247.0 899.5 L247.5 899.1 L248.0 898.9 L248.5 899.1 L249.0 898.7 L249.4 898.3 L249.9 897.9 L250.4 898.1 L250.9 898.3 L251.4 898.0 L251.9 898.7 L252.4 899.0 L252.9 899.3 L253.3 899.4 L253.8 898.5 L254.3 899.5 L254.8 899.5 L255.3 899.3 L255.8 899.1 L256.3 899.2 L256.8 898.7 L257.2 898.9 L257.7 899.2 L258.2 898.9 L258.7 898.7 L259.2 898.1 L259.7 897.9 L260.2 897.1 L260.7 898.1 L261.2 897.8 L261.6 898.1 L262.1 897.9 L262.6 898.4 L263.1 898.6 L263.6 898.4 L264.1 898.6 L264.6 898.5 L265.1 897.5 L265.5 897.5 L266.0 897.1 L266.5 897.2 L267.0 897.2 L267.5 897.4 L268.0 897.4 L268.5 897.1 L269.0 897.3 L269.4 897.0 L269.9 896.3 L270.4 897.0 L270.9 896.4 L271.4 897.2 L271.9 897.1 L272.4 896.5 L272.9 896.9 L273.3 896.5 L273.8 895.5 L274.3 896.0 L274.8 895.2 L275.3 896.0 L275.8 896.1 L276.3 896.2 L276.8 896.2 L277.2 896.3 L277.7 896.3 L278.2 896.5 L278.7 896.2 L279.2 896.5 L279.7 895.8 L280.2 895.7 L280.7 895.9 L281.1 895.5 L281.6 895.6 L282.1 894.6 L282.6 895.5 L283.1 895.2 L283.6 894.5 L284.1 895.1 L284.6 894.8 L285.1 894.4 L285.5 895.2 L286.0 895.1 L286.5 895.2 L287.0 893.9 L287.5 895.2 L288.0 895.2 L288.5 895.0 L289.0 894.9 L289.4 894.7 L289.9 895.1 L290.4 894.9 L290.9 895.4 L291.4 895.0 L291.9 895.0 L292.4 895.1 L292.9 895.4 L293.3 895.1 L293.8 895.0 L294.3 894.6 L294.8 894.9 L295.3 894.7 L295.8 894.9 L296.3 894.6 L296.8 893.9 L297.2 894.1 L297.7 893.7 L298.2 893.8 L298.7 893.7 L299.2 893.6 L299.7 892.8 L300.2 893.4 L300.7 893.0 L301.1 893.5 L301.6 893.5 L302.1 893.0 L302.6 893.1 L303.1 893.6 L303.6 893.7 L304.1 893.9 L304.6 893.5 L305.0 893.7 L305.5 893.8 L306.0 893.9 L306.5 893.8 L307.0 894.0 L307.0 898.3 L306.5 897.7 L306.0 898.0 L305.5 898.9 L305.0 897.5 L304.6 897.5 L304.1 897.5 L303.6 897.5 L303.1 897.3 L302.6 897.9 L302.1 897.9 L301.6 897.0 L301.1 897.2 L300.7 897.3 L300.2 896.9 L299.7 896.9 L299.2 897.8 L298.7 897.7 L298.2 897.8 L297.7 898.0 L297.2 898.6 L296.8 898.6 L296.3 898.3 L295.8 899.3 L295.3 899.0 L294.8 898.9 L294.3 899.7 L293.8 898.9 L293.3 898.8 L292.9 899.3 L292.4 899.1 L291.9 899.9 L291.4 899.3 L290.9 899.0 L290.4 899.3 L289.9 898.7 L289.4 899.4 L289.0 898.9 L288.5 899.4 L288.0 898.7 L287.5 898.9 L287.0 898.8 L286.5 899.1 L286.0 898.9 L285.5 899.6 L285.1 899.2 L284.6 899.5 L284.1 899.7 L283.6 899.3 L283.1 899.2 L282.6 899.6 L282.1 899.7 L281.6 899.2 L281.1 899.5 L280.7 899.6 L280.2 900.7 L279.7 900.0 L279.2 900.2 L278.7 900.3 L278.2 900.0 L277.7 900.6 L277.2 900.8 L276.8 900.4 L276.3 900.2 L275.8 899.7 L275.3 900.2 L274.8 900.2 L274.3 900.2 L273.8 899.8 L273.3 900.8 L272.9 901.6 L272.4 901.1 L271.9 901.1 L271.4 900.7 L270.9 900.7 L270.4 900.9 L269.9 901.4 L269.4 901.7 L269.0 900.7 L268.5 900.9 L268.0 901.6 L267.5 901.5 L267.0 900.9 L266.5 900.7 L266.0 901.1 L265.5 901.4 L265.1 902.0 L264.6 902.2 L264.1 902.6 L263.6 902.3 L263.1 902.5 L262.6 901.9 L262.1 901.8 L261.6 902.0 L261.2 901.6 L260.7 901.8 L260.2 902.4 L259.7 902.1 L259.2 902.4 L258.7 902.9 L258.2 902.4 L257.7 902.6 L257.2 902.8 L256.8 902.7 L256.3 903.4 L255.8 903.2 L255.3 903.3 L254.8 903.7 L254.3 903.6 L253.8 903.4 L253.3 903.3 L252.9 902.9 L252.4 903.3 L251.9 902.3 L251.4 901.8 L250.9 902.2 L250.4 901.9 L249.9 902.0 L249.4 902.1 L249.0 902.5 L248.5 903.4 L248.0 903.1 L247.5 903.8 L247.0 903.7 L246.5 903.7 L246.0 904.2 L245.5 904.2 L245.1 903.7 L244.6 903.9 L244.1 903.2 L243.6 903.1 L243.1 902.6 L242.6 902.7 L242.1 902.6 L241.6 903.0 L241.2 903.7 L240.7 903.9 L240.2 904.6 L239.7 904.9 L239.2 905.7 L238.7 906.0 L238.2 905.2 L237.7 905.3 L237.3 905.4 L236.8 904.6 L236.3 904.6 L235.8 904.6 L235.3 904.0 L234.8 904.9 L234.3 904.8 L233.8 905.1 L233.3 905.2 L232.9 905.2 L232.4 905.1 L231.9 905.6 L231.4 905.7 L230.9 905.3 L230.4 905.3 L229.9 905.8 L229.4 905.9 L229.0 906.2 L228.5 906.4 L228.0 906.1 L227.5 907.5 L227.0 906.4 L226.5 906.2 L226.0 906.8 L225.5 907.1 L225.1 906.4 L224.6 907.0 L224.1 907.2 L223.6 907.3 L223.1 906.5 L222.6 906.9 L222.1 906.6 L221.6 907.1 L221.2 906.7 L220.7 907.0 L220.2 907.2 L219.7 907.7 L219.2 907.2 L218.7 906.8 L218.2 906.8 L217.7 906.8 L217.3 907.9 L216.8 907.3 L216.3 907.4 L215.8 907.7 L215.3 908.0 L214.8 908.2 L214.3 907.6 L213.8 907.6 L213.4 907.6 L212.9 907.5 L212.4 907.4 L211.9 907.4 L211.4 907.3 L210.9 907.9 L210.4 908.2 L209.9 908.6 L209.4 908.4 L209.0 909.4 L208.5 909.1 L208.0 909.2 L207.5 909.5 L207.0 909.6 L206.5 909.8 L206.0 910.2 L205.5 909.8 L205.1 910.0 L204.6 909.2 L204.1 909.4 L203.6 909.9 L203.1 908.9 L202.6 909.1 L202.1 909.0 L201.6 909.8 L201.2 909.2 L200.7 909.4 L200.2 909.9 L199.7 910.1 L199.2 910.1 L198.7 910.0 L198.2 910.9 L197.7 910.7 L197.3 910.5 L196.8 910.8 L196.3 910.5 L195.8 910.2 L195.3 910.2 L194.8 910.1 L194.3 909.6 L193.8 910.1 L193.4 909.0 L192.9 909.3 L192.4 909.7 L191.9 909.4 L191.4 909.8 L190.9 910.8 L190.4 910.0 L189.9 909.9 L189.5 909.8 L189.0 909.7 L188.5 910.4 L188.0 909.7 L187.5 910.1 L187.0 910.1 L186.5 910.5 L186.0 910.7 L185.6 910.9 L185.1 910.7 L184.6 911.2 L184.1 911.0 L183.6 911.7 L183.1 911.7 L182.6 911.4 L182.1 911.2 L181.6 911.4 L181.2 910.9 L180.7 911.0 L180.2 910.6 L179.7 910.9 L179.2 910.8 L178.7 910.8 L178.2 911.1 L177.7 911.6 L177.3 911.5 L176.8 910.9 L176.3 910.8 L175.8 911.2 L175.3 910.6 L174.8 910.6 L174.3 910.5 L173.8 910.5 L173.4 911.3 L172.9 910.4 L172.4 910.8 L171.9 911.9 L171.4 912.0 L170.9 911.9 L170.4 911.7 L169.9 911.9 L169.5 911.4 L169.0 911.2 L168.5 911.5 L168.0 911.6 L167.5 911.8 L167.0 911.9 L166.5 911.9 L166.0 912.4 L165.6 912.2 L165.1 913.3 L164.6 911.9 L164.1 911.6 L163.6 911.6 L163.1 911.6 L162.6 913.0 L162.1 911.8 L161.7 912.4 L161.2 912.1 L160.7 912.4 L160.2 912.1 L159.7 912.1 L159.2 912.6 L158.7 912.3 L158.2 912.2 L157.7 911.7 L157.3 911.7 L156.8 911.4 L156.3 911.4 L155.8 912.0 L155.3 911.7 L154.8 911.4 L154.3 911.7 L153.8 912.4 L153.4 912.0 L152.9 911.5 L152.4 912.2 L151.9 911.8 L151.4 911.4 L150.9 911.7 L150.4 911.4 L149.9 911.3 L149.5 911.2 L149.0 911.4 L148.5 912.1 L148.0 911.7 L147.5 912.2 L147.0 912.3 L146.5 912.4 L146.0 913.2 L145.6 912.6 L145.1 912.9 L144.6 912.3 L144.1 912.5 L143.6 912.0 L143.1 912.5 L142.6 912.3 L142.1 911.9 L141.7 912.6 L141.2 912.4 L140.7 912.2 L140.2 912.7 L139.7 912.6 L139.2 912.1 L138.7 912.0 L138.2 911.6 L137.8 911.8 L137.3 912.0 L136.8 911.2 L136.3 911.6 L135.8 911.2 L135.3 911.3 L134.8 912.2 L134.3 911.7 L133.8 911.9 L133.4 912.5 L132.9 912.7 L132.4 911.7 L131.9 911.8 L131.4 911.8 L130.9 912.6 L130.4 911.5 L129.9 911.6 L129.5 911.1 L129.0 911.3 L128.5 911.2 L128.0 911.0 L127.5 912.0 L127.0 911.2 L126.5 911.4 L126.0 911.5 L125.6 911.6 L125.1 911.1 L124.6 911.6 L124.1 910.9 L123.6 911.1 L123.1 911.0 L122.6 911.1 L122.1 910.8 L121.7 910.8 L121.2 911.0 L120.7 911.7 L120.2 910.5 L119.7 910.0 L119.2 909.9 L118.7 910.0 L118.2 910.0 L117.8 909.8 L117.3 910.3 L116.8 909.7 L116.3 909.9 L115.8 909.5 L115.3 909.1 L114.8 909.1 L114.3 909.0 L113.9 908.8 L113.4 908.7 L112.9 909.1 L112.4 909.6 L111.9 909.3 L111.4 909.6 L110.9 909.6 L110.4 910.0 L109.9 909.8 L109.5 909.8 L109.0 909.9 L108.5 910.7 L108.0 910.6 L107.5 910.7 L107.0 910.0 L106.5 910.4 L106.0 910.2 L105.6 909.6 L105.1 909.9 L104.6 909.9 L104.1 909.9 L103.6 909.7 L103.1 910.2 L102.6 910.0 L102.1 911.1 L101.7 910.3 L101.2 910.1 L100.7 909.6 L100.2 909.7 L99.7 909.7 L99.2 910.2 L98.7 910.4 L98.2 909.7 L97.8 909.4 L97.3 909.1 L96.8 909.4 L96.3 909.6 L95.8 909.5 L95.3 909.2 L94.8 909.1 L94.3 909.6 L93.9 910.0 L93.4 911.0 L92.9 910.2 L92.4 910.3 L91.9 910.6 L91.4 910.2 L90.9 909.7 L90.4 910.2 L90.0 909.8 L89.5 910.0 L89.0 919.0 L88.5 919.0 L88.0 919.0Z" fill="#5bbb73"/>
<path d="M88.0 909.9 L88.5 910.0 L89.0 910.1 L89.5 909.5 L90.0 909.5 L90.4 909.7 L90.9 908.9 L91.4 908.9 L91.9 909.0 L92.4 908.6 L92.9 909.8 L93.4 910.1 L93.9 909.9 L94.3 910.6 L94.8 910.5 L95.3 910.8 L95.8 910.8 L96.3 910.2 L96.8 909.5 L97.3 909.2 L97.8 909.4 L98.2 909.6 L98.7 909.9 L99.2 910.3 L99.7 910.7 L100.2 911.0 L100.7 910.9 L101.2 910.4 L101.7 910.2 L102.1 909.8 L102.6 909.2 L103.1 908.9 L103.6 909.3 L104.1 908.3 L104.6 909.1 L105.1 909.5 L105.6 908.4 L106.0 909.0 L106.5 909.7 L107.0 910.0 L107.5 910.1 L108.0 910.3 L108.5 910.4 L109.0 910.5 L109.5 910.6 L109.9 910.2 L110.4 910.1 L110.9 909.0 L111.4 909.9 L111.9 909.8 L112.4 909.8 L112.9 910.0 L113.4 910.2 L113.9 910.1 L114.3 910.0 L114.8 909.7 L115.3 909.0 L115.8 908.4 L116.3 908.7 L116.8 908.9 L117.3 908.5 L117.8 908.8 L118.2 909.5 L118.7 909.8 L119.2 910.1 L119.7 909.8 L120.2 910.5 L120.7 909.6 L121.2 909.8 L121.7 909.8 L122.1 909.6 L122.6 909.4 L123.1 909.1 L123.6 909.4 L124.1 909.8 L124.6 909.6 L125.1 910.2 L125.6 910.5 L126.0 910.7 L126.5 910.6 L127.0 910.6 L127.5 910.2 L128.0 910.5 L128.5 910.7 L129.0 911.0 L129.5 910.7 L129.9 910.5 L130.4 909.5 L130.9 910.4 L131.4 910.3 L131.9 910.1 L132.4 910.8 L132.9 911.0 L133.4 910.8 L133.8 911.2 L134.3 910.4 L134.8 911.0 L135.3 910.5 L135.8 910.4 L136.3 910.8 L136.8 910.6 L137.3 911.0 L137.8 910.9 L138.2 910.3 L138.7 910.0 L139.2 910.7 L139.7 910.7 L140.2 910.5 L140.7 910.2 L141.2 909.8 L141.7 910.5 L142.1 910.1 L142.6 909.9 L143.1 910.1 L143.6 910.4 L144.1 910.3 L144.6 910.8 L145.1 910.4 L145.6 910.5 L146.0 910.6 L146.5 910.6 L147.0 910.1 L147.5 911.0 L148.0 910.7 L148.5 910.3 L149.0 910.3 L149.5 909.7 L149.9 909.7 L150.4 909.0 L150.9 909.0 L151.4 909.3 L151.9 909.2 L152.4 909.6 L152.9 909.8 L153.4 909.2 L153.8 910.0 L154.3 909.9 L154.8 910.4 L155.3 910.2 L155.8 910.0 L156.3 908.8 L156.8 909.2 L157.3 909.6 L157.7 908.7 L158.2 909.4 L158.7 910.1 L159.2 910.5 L159.7 910.6 L160.2 909.9 L160.7 910.4 L161.2 910.0 L161.7 908.8 L162.1 909.9 L162.6 909.5 L163.1 909.6 L163.6 908.4 L164.1 909.5 L164.6 909.0 L165.1 909.8 L165.6 909.9 L166.0 909.8 L166.5 909.7 L167.0 909.0 L167.5 908.6 L168.0 908.9 L168.5 908.8 L169.0 908.2 L169.5 909.0 L169.9 908.7 L170.4 908.1 L170.9 908.8 L171.4 908.5 L171.9 908.9 L172.4 908.6 L172.9 909.4 L173.4 908.9 L173.8 909.3 L174.3 909.2 L174.8 908.9 L175.3 909.1 L175.8 909.3 L176.3 909.2 L176.8 909.5 L177.3 909.3 L177.7 908.8 L178.2 908.8 L178.7 908.9 L179.2 908.7 L179.7 907.9 L180.2 909.2 L180.7 909.4 L181.2 908.6 L181.6 908.5 L182.1 909.2 L182.6 909.1 L183.1 909.0 L183.6 908.9 L184.1 909.0 L184.6 908.3 L185.1 908.9 L185.6 908.9 L186.0 908.8 L186.5 908.7 L187.0 908.6 L187.5 908.7 L188.0 908.6 L188.5 908.4 L189.0 908.5 L189.5 908.1 L189.9 908.2 L190.4 908.5 L190.9 908.3 L191.4 908.6 L191.9 908.3 L192.4 908.1 L192.9 908.6 L193.4 908.4 L193.8 908.1 L194.3 908.6 L194.8 908.7 L195.3 908.7 L195.8 909.2 L196.3 908.9 L196.8 909.4 L197.3 909.2 L197.7 908.5 L198.2 908.2 L198.7 907.4 L199.2 907.8 L199.7 907.8 L200.2 907.0 L200.7 907.6 L201.2 908.5 L201.6 908.5 L202.1 908.7 L202.6 908.4 L203.1 907.8 L203.6 907.9 L204.1 907.7 L204.6 907.0 L205.1 907.3 L205.5 907.7 L206.0 907.9 L206.5 908.4 L207.0 908.1 L207.5 907.1 L208.0 907.9 L208.5 907.6 L209.0 906.8 L209.4 907.0 L209.9 906.9 L210.4 907.3 L210.9 907.4 L211.4 907.2 L211.9 907.5 L212.4 907.7 L212.9 907.4 L213.4 907.7 L213.8 907.7 L214.3 906.9 L214.8 907.6 L215.3 907.5 L215.8 906.9 L216.3 907.4 L216.8 907.3 L217.3 906.7 L217.7 907.4 L218.2 906.5 L218.7 907.3 L219.2 907.4 L219.7 907.0 L220.2 906.7 L220.7 906.6 L221.2 906.6 L221.6 906.7 L222.1 906.7 L222.6 906.7 L223.1 906.3 L223.6 906.8 L224.1 906.3 L224.6 907.4 L225.1 907.8 L225.5 908.5 L226.0 908.6 L226.5 908.5 L227.0 908.4 L227.5 908.9 L228.0 909.3 L228.5 909.4 L229.0 909.5 L229.4 909.1 L229.9 909.4 L230.4 909.0 L230.9 909.1 L231.4 908.5 L231.9 909.4 L232.4 909.1 L232.9 909.2 L233.3 908.7 L233.8 908.3 L234.3 908.2 L234.8 908.4 L235.3 908.6 L235.8 908.1 L236.3 908.5 L236.8 908.0 L237.3 908.3 L237.7 909.2 L238.2 909.0 L238.7 908.6 L239.2 909.2 L239.7 909.6 L240.2 909.0 L240.7 908.9 L241.2 909.4 L241.6 908.5 L242.1 909.0 L242.6 909.3 L243.1 909.4 L243.6 908.9 L244.1 909.5 L244.6 908.8 L245.1 909.1 L245.5 909.2 L246.0 909.6 L246.5 909.8 L247.0 910.0 L247.5 910.0 L248.0 909.8 L248.5 909.8 L249.0 909.6 L249.4 909.4 L249.9 909.6 L250.4 909.2 L250.9 909.4 L251.4 909.1 L251.9 909.1 L252.4 908.9 L252.9 909.1 L253.3 909.1 L253.8 909.2 L254.3 910.0 L254.8 909.4 L255.3 909.9 L255.8 909.9 L256.3 909.2 L256.8 909.7 L257.2 910.4 L257.7 910.8 L258.2 910.8 L258.7 910.9 L259.2 910.7 L259.7 911.0 L260.2 910.8 L260.7 910.0 L261.2 910.4 L261.6 910.7 L262.1 910.9 L262.6 910.7 L263.1 911.1 L263.6 911.4 L264.1 911.4 L264.6 911.4 L265.1 911.5 L265.5 911.3 L266.0 911.5 L266.5 911.6 L267.0 911.7 L267.5 911.1 L268.0 910.5 L268.5 911.2 L269.0 911.3 L269.4 911.3 L269.9 910.6 L270.4 910.9 L270.9 909.5 L271.4 910.5 L271.9 909.4 L272.4 909.8 L272.9 909.4 L273.3 909.8 L273.8 910.7 L274.3 910.5 L274.8 910.7 L275.3 911.2 L275.8 911.3 L276.3 911.0 L276.8 910.7 L277.2 910.6 L277.7 910.3 L278.2 909.2 L278.7 909.2 L279.2 909.7 L279.7 908.9 L280.2 909.9 L280.7 910.2 L281.1 910.8 L281.6 910.7 L282.1 909.9 L282.6 910.5 L283.1 910.0 L283.6 909.8 L284.1 909.5 L284.6 910.0 L285.1 909.2 L285.5 910.1 L286.0 910.0 L286.5 909.8 L287.0 909.8 L287.5 909.4 L288.0 909.3 L288.5 908.9 L289.0 909.1 L289.4 909.0 L289.9 909.2 L290.4 909.6 L290.9 909.8 L291.4 910.2 L291.9 909.9 L292.4 910.5 L292.9 910.1 L293.3 909.3 L293.8 908.8 L294.3 909.1 L294.8 909.0 L295.3 909.0 L295.8 908.6 L296.3 908.9 L296.8 909.6 L297.2 909.9 L297.7 909.9 L298.2 909.9 L298.7 909.7 L299.2 910.2 L299.7 910.2 L300.2 909.8 L300.7 910.4 L301.1 909.9 L301.6 910.5 L302.1 910.4 L302.6 910.9 L303.1 911.0 L303.6 910.4 L304.1 910.0 L304.6 909.7 L305.0 909.3 L305.5 908.8 L306.0 908.9 L306.5 907.9 L307.0 908.6 L307.0 913.7 L306.5 913.8 L306.0 914.2 L305.5 914.7 L305.0 914.9 L304.6 915.4 L304.1 915.1 L303.6 915.7 L303.1 915.9 L302.6 916.1 L302.1 916.6 L301.6 916.8 L301.1 915.5 L300.7 915.2 L300.2 915.0 L299.7 915.2 L299.2 915.0 L298.7 915.0 L298.2 914.9 L297.7 915.0 L297.2 914.8 L296.8 914.6 L296.3 914.5 L295.8 914.3 L295.3 914.7 L294.8 915.1 L294.3 914.6 L293.8 914.8 L293.3 915.0 L292.9 915.4 L292.4 915.8 L291.9 915.4 L291.4 915.8 L290.9 915.2 L290.4 915.0 L289.9 914.6 L289.4 914.1 L289.0 914.1 L288.5 914.5 L288.0 914.4 L287.5 914.7 L287.0 915.0 L286.5 915.8 L286.0 915.2 L285.5 915.1 L285.1 915.1 L284.6 915.0 L284.1 914.9 L283.6 914.9 L283.1 915.2 L282.6 915.6 L282.1 915.6 L281.6 915.8 L281.1 915.7 L280.7 915.6 L280.2 915.1 L279.7 914.9 L279.2 915.3 L278.7 914.8 L278.2 915.0 L277.7 915.8 L277.2 915.7 L276.8 917.1 L276.3 916.1 L275.8 916.2 L275.3 916.5 L274.8 916.7 L274.3 915.9 L273.8 915.5 L273.3 915.9 L272.9 915.1 L272.4 914.9 L271.9 915.0 L271.4 915.5 L270.9 916.0 L270.4 915.9 L269.9 916.1 L269.4 916.3 L269.0 915.9 L268.5 916.9 L268.0 917.2 L267.5 916.2 L267.0 916.4 L266.5 917.2 L266.0 917.0 L265.5 916.9 L265.1 917.2 L264.6 916.4 L264.1 916.5 L263.6 916.7 L263.1 916.2 L262.6 916.0 L262.1 915.8 L261.6 916.2 L261.2 915.5 L260.7 916.0 L260.2 915.6 L259.7 915.7 L259.2 916.3 L258.7 916.0 L258.2 916.2 L257.7 915.8 L257.2 915.4 L256.8 916.0 L256.3 915.2 L255.8 915.0 L255.3 915.0 L254.8 915.4 L254.3 914.7 L253.8 914.5 L253.3 915.3 L252.9 914.1 L252.4 914.1 L251.9 914.5 L251.4 915.1 L250.9 914.5 L250.4 914.4 L249.9 914.7 L249.4 915.0 L249.0 914.8 L248.5 915.0 L248.0 914.7 L247.5 914.7 L247.0 914.9 L246.5 915.0 L246.0 914.7 L245.5 914.7 L245.1 914.8 L244.6 915.3 L244.1 914.5 L243.6 914.3 L243.1 914.2 L242.6 914.1 L242.1 914.1 L241.6 914.0 L241.2 914.2 L240.7 914.1 L240.2 914.3 L239.7 914.5 L239.2 914.8 L238.7 914.4 L238.2 914.6 L237.7 914.3 L237.3 913.6 L236.8 913.7 L236.3 913.8 L235.8 913.3 L235.3 913.5 L234.8 914.1 L234.3 913.7 L233.8 914.5 L233.3 914.3 L232.9 915.3 L232.4 914.4 L231.9 914.7 L231.4 914.2 L230.9 914.7 L230.4 914.7 L229.9 915.5 L229.4 914.3 L229.0 914.5 L228.5 914.1 L228.0 914.4 L227.5 914.0 L227.0 914.5 L226.5 914.0 L226.0 913.4 L225.5 913.7 L225.1 913.1 L224.6 913.0 L224.1 913.2 L223.6 912.3 L223.1 912.2 L222.6 912.1 L222.1 912.2 L221.6 912.2 L221.2 912.5 L220.7 912.2 L220.2 912.4 L219.7 912.6 L219.2 912.7 L218.7 912.8 L218.2 912.5 L217.7 912.7 L217.3 912.6 L216.8 912.1 L216.3 912.1 L215.8 912.3 L215.3 912.6 L214.8 912.7 L214.3 913.0 L213.8 913.3 L213.4 912.7 L212.9 912.7 L212.4 913.1 L211.9 912.8 L211.4 912.7 L210.9 912.4 L210.4 912.4 L209.9 912.6 L209.4 912.5 L209.0 912.5 L208.5 912.6 L208.0 913.1 L207.5 913.5 L207.0 913.4 L206.5 914.3 L206.0 913.4 L205.5 914.4 L205.1 912.9 L204.6 913.0 L204.1 914.0 L203.6 913.2 L203.1 913.3 L202.6 913.5 L202.1 914.2 L201.6 914.8 L201.2 914.3 L200.7 913.3 L200.2 913.9 L199.7 913.1 L199.2 913.1 L198.7 913.7 L198.2 913.4 L197.7 913.6 L197.3 914.4 L196.8 914.1 L196.3 914.5 L195.8 914.3 L195.3 914.1 L194.8 914.1 L194.3 913.5 L193.8 913.9 L193.4 913.5 L192.9 914.2 L192.4 913.7 L191.9 913.3 L191.4 913.7 L190.9 913.2 L190.4 913.2 L189.9 913.3 L189.5 913.2 L189.0 914.7 L188.5 913.4 L188.0 914.2 L187.5 914.1 L187.0 914.3 L186.5 914.1 L186.0 913.7 L185.6 914.0 L185.1 914.1 L184.6 913.8 L184.1 914.4 L183.6 914.1 L183.1 914.1 L182.6 914.6 L182.1 914.7 L181.6 914.3 L181.2 914.5 L180.7 914.2 L180.2 914.0 L179.7 914.1 L179.2 914.0 L178.7 914.4 L178.2 914.1 L177.7 913.9 L177.3 914.9 L176.8 914.8 L176.3 914.6 L175.8 914.6 L175.3 914.2 L174.8 914.0 L174.3 914.0 L173.8 914.2 L173.4 914.6 L172.9 914.5 L172.4 914.1 L171.9 914.3 L171.4 913.6 L170.9 913.7 L170.4 914.0 L169.9 913.6 L169.5 914.1 L169.0 913.7 L168.5 913.7 L168.0 913.7 L167.5 914.1 L167.0 914.6 L166.5 914.4 L166.0 914.8 L165.6 914.6 L165.1 914.5 L164.6 915.2 L164.1 914.9 L163.6 914.4 L163.1 914.4 L162.6 914.6 L162.1 915.1 L161.7 915.5 L161.2 915.5 L160.7 915.9 L160.2 915.9 L159.7 916.2 L159.2 915.9 L158.7 914.9 L158.2 914.5 L157.7 914.5 L157.3 914.5 L156.8 914.4 L156.3 915.0 L155.8 915.5 L155.3 915.1 L154.8 915.3 L154.3 916.1 L153.8 915.1 L153.4 914.6 L152.9 914.6 L152.4 915.1 L151.9 914.7 L151.4 914.9 L150.9 914.2 L150.4 914.5 L149.9 915.0 L149.5 915.4 L149.0 915.9 L148.5 915.8 L148.0 916.1 L147.5 916.0 L147.0 916.4 L146.5 915.6 L146.0 916.5 L145.6 915.7 L145.1 915.9 L144.6 916.2 L144.1 915.5 L143.6 915.4 L143.1 916.0 L142.6 915.1 L142.1 915.6 L141.7 915.1 L141.2 915.8 L140.7 915.5 L140.2 915.8 L139.7 915.4 L139.2 915.7 L138.7 915.5 L138.2 915.5 L137.8 915.8 L137.3 916.0 L136.8 916.1 L136.3 916.5 L135.8 916.0 L135.3 916.1 L134.8 915.8 L134.3 916.1 L133.8 916.5 L133.4 916.0 L132.9 916.0 L132.4 915.7 L131.9 916.0 L131.4 915.5 L130.9 916.0 L130.4 916.1 L129.9 917.2 L129.5 915.7 L129.0 916.0 L128.5 915.6 L128.0 915.9 L127.5 915.9 L127.0 915.6 L126.5 916.1 L126.0 915.8 L125.6 916.3 L125.1 915.3 L124.6 914.8 L124.1 914.6 L123.6 915.2 L123.1 915.1 L122.6 914.5 L122.1 915.5 L121.7 914.9 L121.2 915.0 L120.7 915.4 L120.2 915.9 L119.7 915.2 L119.2 914.8 L118.7 915.2 L118.2 914.1 L117.8 914.2 L117.3 914.3 L116.8 914.0 L116.3 914.0 L115.8 914.6 L115.3 914.5 L114.8 914.6 L114.3 915.6 L113.9 914.9 L113.4 914.9 L112.9 915.6 L112.4 914.9 L111.9 914.7 L111.4 915.6 L110.9 915.1 L110.4 915.0 L109.9 915.1 L109.5 916.0 L109.0 915.3 L108.5 915.3 L108.0 915.5 L107.5 915.2 L107.0 915.3 L106.5 914.7 L106.0 914.8 L105.6 914.4 L105.1 914.3 L104.6 914.0 L104.1 914.5 L103.6 914.9 L103.1 914.6 L102.6 914.7 L102.1 914.8 L101.7 915.2 L101.2 915.5 L100.7 915.9 L100.2 916.1 L99.7 915.7 L99.2 915.4 L98.7 914.9 L98.2 915.2 L97.8 915.3 L97.3 915.1 L96.8 915.2 L96.3 916.3 L95.8 915.6 L95.3 916.4 L94.8 916.4 L94.3 916.3 L93.9 915.5 L93.4 914.8 L92.9 914.9 L92.4 914.2 L91.9 914.2 L91.4 914.0 L90.9 914.9 L90.4 914.7 L90.0 915.6 L89.5 915.2 L89.0 915.1 L88.5 915.2 L88.0 915.1Z" fill="#4376e2"/>
<path d="M88.0 916.8 L88.5 916.1 L89.0 915.4 L89.5 915.5 L90.0 915.6 L90.4 916.2 L90.9 916.7 L91.4 916.8 L91.9 917.4 L92.4 917.9 L92.9 918.1 L93.4 919.0 L93.9 917.6 L94.3 918.9 L94.8 918.4 L95.3 918.2 L95.8 918.4 L96.3 917.9 L96.8 918.2 L97.3 918.1 L97.8 919.1 L98.2 918.5 L98.7 919.3 L99.2 919.3 L99.7 919.6 L100.2 918.8 L100.7 920.1 L101.2 920.3 L101.7 920.1 L102.1 920.2 L102.6 919.0 L103.1 918.3 L103.6 918.0 L104.1 917.6 L104.6 916.2 L105.1 916.8 L105.6 916.9 L106.0 917.7 L106.5 917.9 L107.0 918.8 L107.5 919.3 L108.0 919.8 L108.5 919.6 L109.0 920.2 L109.5 920.2 L109.9 920.1 L110.4 919.5 L110.9 918.7 L111.4 918.1 L111.9 917.6 L112.4 917.3 L112.9 917.3 L113.4 917.6 L113.9 918.9 L114.3 918.9 L114.8 920.5 L115.3 921.1 L115.8 921.0 L116.3 921.3 L116.8 921.2 L117.3 921.1 L117.8 920.5 L118.2 919.6 L118.7 918.9 L119.2 918.7 L119.7 918.6 L120.2 918.4 L120.7 918.5 L121.2 918.0 L121.7 917.9 L122.1 917.4 L122.6 918.4 L123.1 918.2 L123.6 917.7 L124.1 916.9 L124.6 917.8 L125.1 919.0 L125.6 919.1 L126.0 919.2 L126.5 919.0 L127.0 918.9 L127.5 918.2 L128.0 918.3 L128.5 918.0 L129.0 918.8 L129.5 918.8 L129.9 918.6 L130.4 918.6 L130.9 918.9 L131.4 918.3 L131.9 917.4 L132.4 918.0 L132.9 917.5 L133.4 918.2 L133.8 918.3 L134.3 917.9 L134.8 918.5 L135.3 917.9 L135.8 918.4 L136.3 918.5 L136.8 918.0 L137.3 918.1 L137.8 917.2 L138.2 918.2 L138.7 918.2 L139.2 918.7 L139.7 918.6 L140.2 918.9 L140.7 919.1 L141.2 919.3 L141.7 918.9 L142.1 919.1 L142.6 918.7 L143.1 918.8 L143.6 919.1 L144.1 919.2 L144.6 919.4 L145.1 919.9 L145.6 919.5 L146.0 920.3 L146.5 919.5 L147.0 919.7 L147.5 919.3 L148.0 919.2 L148.5 919.6 L149.0 919.7 L149.5 920.6 L149.9 920.4 L150.4 920.8 L150.9 921.9 L151.4 922.0 L151.9 921.3 L152.4 921.4 L152.9 920.9 L153.4 920.6 L153.8 919.6 L154.3 919.1 L154.8 919.5 L155.3 918.6 L155.8 918.3 L156.3 917.9 L156.8 917.5 L157.3 918.2 L157.7 917.6 L158.2 918.6 L158.7 919.8 L159.2 920.3 L159.7 921.5 L160.2 921.1 L160.7 922.8 L161.2 923.9 L161.7 923.7 L162.1 924.5 L162.6 925.0 L163.1 925.1 L163.6 925.2 L164.1 925.5 L164.6 924.8 L165.1 924.8 L165.6 924.5 L166.0 923.4 L166.5 923.1 L167.0 922.8 L167.5 922.2 L168.0 921.6 L168.5 920.7 L169.0 920.6 L169.5 920.0 L169.9 919.7 L170.4 919.6 L170.9 918.9 L171.4 919.0 L171.9 918.8 L172.4 918.9 L172.9 918.3 L173.4 918.7 L173.8 918.2 L174.3 918.0 L174.8 918.7 L175.3 918.1 L175.8 918.6 L176.3 918.7 L176.8 919.4 L177.3 919.6 L177.7 920.2 L178.2 920.1 L178.7 920.2 L179.2 921.1 L179.7 920.7 L180.2 921.4 L180.7 920.7 L181.2 920.8 L181.6 920.8 L182.1 921.3 L182.6 921.0 L183.1 920.3 L183.6 920.0 L184.1 919.5 L184.6 919.5 L185.1 918.7 L185.6 919.0 L186.0 918.6 L186.5 919.0 L187.0 918.6 L187.5 918.9 L188.0 919.0 L188.5 918.9 L189.0 919.3 L189.5 920.1 L189.9 920.3 L190.4 919.9 L190.9 920.8 L191.4 921.0 L191.9 920.4 L192.4 920.8 L192.9 921.1 L193.4 921.5 L193.8 921.4 L194.3 921.9 L194.8 920.8 L195.3 922.1 L195.8 921.7 L196.3 921.7 L196.8 921.6 L197.3 920.8 L197.7 920.0 L198.2 920.1 L198.7 920.8 L199.2 920.5 L199.7 920.1 L200.2 919.9 L200.7 918.8 L201.2 918.8 L201.6 919.0 L202.1 919.2 L202.6 919.2 L203.1 919.9 L203.6 919.5 L204.1 919.9 L204.6 920.4 L205.1 920.1 L205.5 920.1 L206.0 919.5 L206.5 920.0 L207.0 920.0 L207.5 919.5 L208.0 919.7 L208.5 919.9 L209.0 919.8 L209.4 919.2 L209.9 920.1 L210.4 919.5 L210.9 919.4 L211.4 920.0 L211.9 918.7 L212.4 920.2 L212.9 920.6 L213.4 920.7 L213.8 920.8 L214.3 920.3 L214.8 920.4 L215.3 919.5 L215.8 920.2 L216.3 919.9 L216.8 920.2 L217.3 921.1 L217.7 920.8 L218.2 922.1 L218.7 922.6 L219.2 923.0 L219.7 923.0 L220.2 922.9 L220.7 922.9 L221.2 923.0 L221.6 922.8 L222.1 923.0 L222.6 923.1 L223.1 921.9 L223.6 922.4 L224.1 921.5 L224.6 921.7 L225.1 920.9 L225.5 920.8 L226.0 920.7 L226.5 920.3 L227.0 921.2 L227.5 920.7 L228.0 921.0 L228.5 920.9 L229.0 920.4 L229.4 919.5 L229.9 919.0 L230.4 918.6 L230.9 919.0 L231.4 919.0 L231.9 918.8 L232.4 918.9 L232.9 919.9 L233.3 919.5 L233.8 920.2 L234.3 920.1 L234.8 920.1 L235.3 919.9 L235.8 920.6 L236.3 921.4 L236.8 920.8 L237.3 921.3 L237.7 922.0 L238.2 922.0 L238.7 922.2 L239.2 921.4 L239.7 921.5 L240.2 921.4 L240.7 920.5 L241.2 920.8 L241.6 920.3 L242.1 920.4 L242.6 920.1 L243.1 920.3 L243.6 920.9 L244.1 921.3 L244.6 920.9 L245.1 921.6 L245.5 920.9 L246.0 921.3 L246.5 921.0 L247.0 921.5 L247.5 921.3 L248.0 921.4 L248.5 921.8 L249.0 921.2 L249.4 921.2 L249.9 921.1 L250.4 921.2 L250.9 920.3 L251.4 920.6 L251.9 920.3 L252.4 920.0 L252.9 919.8 L253.3 919.5 L253.8 918.8 L254.3 919.7 L254.8 919.2 L255.3 919.5 L255.8 920.3 L256.3 920.0 L256.8 920.9 L257.2 921.8 L257.7 922.8 L258.2 922.8 L258.7 923.6 L259.2 923.1 L259.7 922.7 L260.2 921.5 L260.7 920.3 L261.2 920.2 L261.6 919.5 L262.1 920.2 L262.6 920.8 L263.1 921.2 L263.6 921.9 L264.1 922.0 L264.6 922.6 L265.1 922.7 L265.5 922.7 L266.0 921.6 L266.5 921.8 L267.0 921.4 L267.5 921.2 L268.0 920.8 L268.5 921.2 L269.0 921.8 L269.4 922.0 L269.9 923.2 L270.4 923.2 L270.9 923.4 L271.4 923.1 L271.9 922.4 L272.4 921.6 L272.9 920.7 L273.3 920.5 L273.8 920.2 L274.3 919.7 L274.8 920.3 L275.3 920.2 L275.8 921.0 L276.3 921.4 L276.8 921.7 L277.2 922.1 L277.7 922.2 L278.2 922.4 L278.7 922.5 L279.2 921.9 L279.7 922.3 L280.2 921.6 L280.7 922.2 L281.1 921.5 L281.6 921.8 L282.1 921.6 L282.6 920.8 L283.1 920.8 L283.6 920.6 L284.1 920.8 L284.6 920.9 L285.1 921.3 L285.5 921.0 L286.0 922.3 L286.5 922.2 L287.0 921.5 L287.5 921.4 L288.0 921.4 L288.5 921.2 L289.0 920.5 L289.4 920.1 L289.9 920.8 L290.4 920.6 L290.9 920.8 L291.4 921.6 L291.9 921.6 L292.4 922.3 L292.9 922.5 L293.3 922.8 L293.8 922.3 L294.3 922.2 L294.8 921.4 L295.3 921.4 L295.8 921.4 L296.3 921.6 L296.8 921.4 L297.2 921.5 L297.7 921.6 L298.2 921.9 L298.7 921.9 L299.2 922.1 L299.7 922.7 L300.2 922.8 L300.7 922.8 L301.1 922.7 L301.6 922.7 L302.1 922.8 L302.6 922.2 L303.1 922.3 L303.6 922.2 L304.1 922.6 L304.6 923.0 L305.0 922.8 L305.5 922.5 L306.0 922.9 L306.5 923.1 L307.0 922.3 L307.0 925.3 L306.5 926.4 L306.0 926.0 L305.5 927.1 L305.0 926.6 L304.6 925.7 L304.1 926.1 L303.6 925.7 L303.1 925.6 L302.6 925.5 L302.1 925.7 L301.6 926.0 L301.1 925.8 L300.7 926.3 L300.2 925.8 L299.7 925.4 L299.2 925.2 L298.7 925.3 L298.2 925.1 L297.7 924.4 L297.2 924.4 L296.8 924.4 L296.3 924.5 L295.8 924.3 L295.3 924.8 L294.8 925.5 L294.3 926.3 L293.8 926.4 L293.3 926.0 L292.9 925.3 L292.4 925.6 L291.9 924.7 L291.4 925.0 L290.9 924.8 L290.4 923.8 L289.9 924.3 L289.4 924.2 L289.0 923.6 L288.5 924.0 L288.0 924.2 L287.5 925.0 L287.0 925.7 L286.5 925.2 L286.0 925.7 L285.5 925.7 L285.1 924.9 L284.6 924.3 L284.1 924.8 L283.6 923.6 L283.1 924.6 L282.6 924.1 L282.1 924.3 L281.6 924.5 L281.1 925.5 L280.7 925.5 L280.2 925.2 L279.7 925.4 L279.2 925.1 L278.7 925.7 L278.2 925.5 L277.7 925.2 L277.2 925.0 L276.8 924.9 L276.3 924.4 L275.8 923.9 L275.3 924.1 L274.8 923.0 L274.3 922.8 L273.8 922.8 L273.3 923.3 L272.9 924.3 L272.4 924.6 L271.9 926.0 L271.4 926.2 L270.9 926.4 L270.4 926.8 L269.9 925.7 L269.4 926.1 L269.0 924.8 L268.5 924.5 L268.0 924.7 L267.5 924.3 L267.0 924.5 L266.5 925.5 L266.0 925.2 L265.5 925.6 L265.1 926.0 L264.6 925.6 L264.1 925.3 L263.6 924.9 L263.1 924.7 L262.6 923.7 L262.1 923.3 L261.6 922.6 L261.2 922.9 L260.7 923.5 L260.2 924.8 L259.7 925.5 L259.2 926.7 L258.7 926.3 L258.2 926.2 L257.7 925.7 L257.2 925.0 L256.8 925.5 L256.3 923.8 L255.8 923.4 L255.3 922.9 L254.8 923.0 L254.3 922.5 L253.8 922.4 L253.3 922.7 L252.9 923.0 L252.4 923.1 L251.9 924.0 L251.4 924.0 L250.9 924.5 L250.4 924.7 L249.9 924.9 L249.4 924.7 L249.0 924.7 L248.5 925.1 L248.0 925.0 L247.5 924.4 L247.0 924.4 L246.5 924.3 L246.0 924.3 L245.5 924.3 L245.1 925.1 L244.6 925.0 L244.1 924.1 L243.6 924.3 L243.1 924.1 L242.6 923.8 L242.1 923.4 L241.6 924.3 L241.2 923.6 L240.7 923.9 L240.2 924.2 L239.7 924.8 L239.2 925.0 L238.7 925.6 L238.2 925.2 L237.7 926.1 L237.3 925.7 L236.8 924.9 L236.3 924.4 L235.8 923.7 L235.3 923.4 L234.8 923.1 L234.3 923.6 L233.8 923.0 L233.3 923.1 L232.9 923.1 L232.4 922.6 L231.9 922.2 L231.4 922.7 L230.9 922.1 L230.4 921.9 L229.9 922.5 L229.4 922.9 L229.0 923.4 L228.5 924.9 L228.0 924.0 L227.5 924.2 L227.0 924.5 L226.5 924.5 L226.0 923.9 L225.5 924.0 L225.1 924.2 L224.6 924.6 L224.1 924.8 L223.6 925.1 L223.1 926.0 L222.6 925.9 L222.1 926.5 L221.6 926.5 L221.2 926.7 L220.7 926.5 L220.2 926.8 L219.7 926.2 L219.2 925.8 L218.7 925.7 L218.2 925.5 L217.7 924.4 L217.3 924.2 L216.8 923.6 L216.3 923.7 L215.8 923.3 L215.3 922.9 L214.8 923.2 L214.3 923.6 L213.8 923.6 L213.4 923.4 L212.9 923.3 L212.4 923.8 L211.9 923.1 L211.4 922.7 L210.9 924.0 L210.4 923.0 L209.9 923.7 L209.4 923.1 L209.0 923.4 L208.5 922.9 L208.0 923.2 L207.5 922.8 L207.0 922.8 L206.5 922.7 L206.0 923.3 L205.5 923.3 L205.1 923.4 L204.6 923.1 L204.1 923.5 L203.6 923.3 L203.1 923.2 L202.6 922.6 L202.1 922.0 L201.6 922.6 L201.2 922.5 L200.7 922.4 L200.2 922.7 L199.7 923.0 L199.2 923.9 L198.7 923.9 L198.2 924.0 L197.7 924.7 L197.3 924.5 L196.8 924.8 L196.3 925.0 L195.8 926.1 L195.3 924.9 L194.8 924.8 L194.3 924.8 L193.8 925.4 L193.4 924.5 L192.9 924.0 L192.4 924.7 L191.9 923.7 L191.4 924.1 L190.9 924.0 L190.4 923.5 L189.9 924.2 L189.5 923.6 L189.0 922.2 L188.5 922.5 L188.0 922.0 L187.5 922.1 L187.0 922.2 L186.5 922.1 L186.0 922.0 L185.6 921.8 L185.1 922.8 L184.6 922.6 L184.1 922.8 L183.6 923.4 L183.1 923.5 L182.6 923.9 L182.1 924.6 L181.6 924.1 L181.2 924.1 L180.7 924.1 L180.2 924.9 L179.7 924.1 L179.2 924.7 L178.7 924.1 L178.2 924.7 L177.7 923.7 L177.3 923.9 L176.8 922.0 L176.3 922.6 L175.8 921.3 L175.3 921.3 L174.8 922.0 L174.3 921.8 L173.8 921.8 L173.4 922.3 L172.9 922.3 L172.4 922.5 L171.9 921.7 L171.4 922.4 L170.9 921.8 L170.4 922.4 L169.9 923.4 L169.5 922.9 L169.0 923.8 L168.5 923.7 L168.0 924.5 L167.5 925.4 L167.0 925.8 L166.5 926.4 L166.0 927.4 L165.6 928.7 L165.1 928.4 L164.6 928.5 L164.1 928.6 L163.6 928.3 L163.1 928.3 L162.6 927.9 L162.1 928.0 L161.7 927.2 L161.2 926.8 L160.7 926.1 L160.2 925.3 L159.7 925.1 L159.2 923.9 L158.7 922.9 L158.2 922.4 L157.7 921.7 L157.3 921.7 L156.8 921.1 L156.3 921.6 L155.8 922.0 L155.3 921.8 L154.8 922.4 L154.3 922.6 L153.8 924.1 L153.4 923.5 L152.9 924.2 L152.4 925.7 L151.9 925.5 L151.4 925.2 L150.9 924.9 L150.4 924.8 L149.9 924.0 L149.5 923.5 L149.0 922.8 L148.5 922.4 L148.0 922.1 L147.5 922.2 L147.0 922.8 L146.5 923.0 L146.0 923.5 L145.6 923.0 L145.1 922.8 L144.6 922.2 L144.1 922.1 L143.6 922.2 L143.1 921.8 L142.6 922.3 L142.1 921.9 L141.7 922.6 L141.2 922.1 L140.7 922.8 L140.2 921.9 L139.7 921.4 L139.2 922.1 L138.7 921.2 L138.2 920.9 L137.8 920.8 L137.3 921.0 L136.8 921.6 L136.3 921.4 L135.8 921.4 L135.3 921.6 L134.8 921.7 L134.3 921.9 L133.8 921.0 L133.4 920.9 L132.9 920.7 L132.4 920.8 L131.9 921.1 L131.4 922.4 L130.9 921.8 L130.4 922.3 L129.9 922.1 L129.5 921.9 L129.0 922.0 L128.5 921.4 L128.0 921.3 L127.5 921.4 L127.0 921.6 L126.5 922.1 L126.0 922.3 L125.6 922.0 L125.1 922.8 L124.6 921.9 L124.1 921.1 L123.6 921.1 L123.1 921.4 L122.6 921.2 L122.1 921.6 L121.7 921.8 L121.2 921.9 L120.7 921.3 L120.2 921.7 L119.7 921.4 L119.2 922.1 L118.7 922.6 L118.2 922.7 L117.8 923.6 L117.3 924.1 L116.8 924.9 L116.3 924.5 L115.8 924.4 L115.3 924.2 L114.8 923.8 L114.3 923.1 L113.9 922.6 L113.4 921.9 L112.9 921.2 L112.4 920.6 L111.9 921.1 L111.4 921.1 L110.9 921.6 L110.4 922.6 L109.9 923.6 L109.5 923.6 L109.0 923.3 L108.5 923.6 L108.0 923.6 L107.5 922.5 L107.0 921.7 L106.5 921.4 L106.0 920.5 L105.6 920.8 L105.1 920.1 L104.6 920.0 L104.1 920.3 L103.6 921.1 L103.1 921.5 L102.6 922.6 L102.1 922.9 L101.7 923.7 L101.2 923.6 L100.7 923.6 L100.2 922.8 L99.7 922.8 L99.2 922.3 L98.7 922.5 L98.2 922.3 L97.8 922.1 L97.3 921.4 L96.8 921.3 L96.3 921.6 L95.8 921.3 L95.3 921.7 L94.8 921.8 L94.3 921.7 L93.9 922.2 L93.4 922.9 L92.9 921.4 L92.4 920.9 L91.9 920.8 L91.4 920.4 L90.9 919.7 L90.4 919.3 L90.0 919.1 L89.5 918.7 L89.0 920.1 L88.5 919.4 L88.0 919.7Z" fill="#ee3d45"/>
<rect x="67.0" y="748.6" width="261.0" height="191.4" fill="none" stroke="#3a3a3a" stroke-width="1.1"/>
<path d="M67.0 940.0h3.8M67.0 908.2h3.8M67.0 876.4h3.8M67.0 844.6h3.8M67.0 812.8h3.8M67.0 781.0h3.8M67.0 749.2h3.8M67.0 924.1h2.0M67.0 892.3h2.0M67.0 860.5h2.0M67.0 828.7h2.0M67.0 796.9h2.0M67.0 765.1h2.0M328.0 940.0h-3.8M328.0 908.2h-3.8M328.0 876.4h-3.8M328.0 844.6h-3.8M328.0 812.8h-3.8M328.0 781.0h-3.8M328.0 749.2h-3.8M328.0 924.1h-2.0M328.0 892.3h-2.0M328.0 860.5h-2.0M328.0 828.7h-2.0M328.0 796.9h-2.0M328.0 765.1h-2.0M88.0 748.6v3.3M131.8 748.6v3.3M175.6 748.6v3.3M219.4 748.6v3.3M263.2 748.6v3.3M307.0 748.6v3.3M109.9 748.6v3.3M153.7 748.6v3.3M197.5 748.6v3.3M241.3 748.6v3.3M285.1 748.6v3.3" stroke="#3a3a3a" stroke-width="1.1" fill="none"/>
<path d="M83.1 766.7H113.1" stroke="#ee3d45" stroke-width="2.2"/><path d="M83.1 783.0H113.1" stroke="#4376e2" stroke-width="2.2"/><path d="M83.1 799.0H113.1" stroke="#5bbb73" stroke-width="2.2"/></g><g font-family="Liberation Sans, sans-serif" font-weight="bold" fill="#111"><text x="62.5" y="943.8" font-size="12" text-anchor="end" >0.0</text>
<text x="62.5" y="912.0" font-size="12" text-anchor="end" >0.5</text>
<text x="62.5" y="880.2" font-size="12" text-anchor="end" >1.0</text>
<text x="62.5" y="848.4" font-size="12" text-anchor="end" >1.5</text>
<text x="62.5" y="816.6" font-size="12" text-anchor="end" >2.0</text>
<text x="62.5" y="784.8" font-size="12" text-anchor="end" >2.5</text>
<text x="62.5" y="753.0" font-size="12" text-anchor="end" >3.0</text>
<text x="88.0" y="954.0" font-size="12" text-anchor="middle" >0</text>
<text x="131.8" y="954.0" font-size="12" text-anchor="middle" >200</text>
<text x="175.6" y="954.0" font-size="12" text-anchor="middle" >400</text>
<text x="219.4" y="954.0" font-size="12" text-anchor="middle" >600</text>
<text x="263.2" y="954.0" font-size="12" text-anchor="middle" >800</text>
<text x="307.0" y="954.0" font-size="12" text-anchor="middle" >1000</text>
<text x="116.6" y="771.4" font-size="12.2" text-anchor="start" >10 mm</text>
<text x="116.6" y="787.5" font-size="12.2" text-anchor="start" >5 mm</text>
<text x="116.6" y="803.5" font-size="12.2" text-anchor="start" >2 mm</text>
<text x="196.3" y="976.2" font-size="14.9" text-anchor="middle" >Number of bending (cycles)</text>
<text transform="translate(30.7,844.6) rotate(-90)" font-size="15" text-anchor="middle">Resistance change (%)</text>
</g>
<g><path d="M436.4 897.1 L436.9 897.9 L437.4 896.1 L437.9 897.3 L438.3 896.7 L438.8 897.6 L439.3 897.6 L439.8 897.8 L440.3 897.7 L440.8 897.1 L441.3 895.6 L441.8 896.4 L442.2 898.1 L442.7 895.0 L443.2 897.1 L443.7 897.8 L444.2 897.3 L444.7 896.4 L445.2 897.5 L445.7 896.2 L446.1 897.7 L446.6 895.9 L447.1 891.6 L447.6 889.4 L448.1 892.2 L448.6 891.8 L449.1 891.2 L449.6 891.0 L450.0 891.1 L450.5 890.6 L451.0 891.3 L451.5 890.6 L452.0 889.6 L452.5 891.1 L453.0 889.9 L453.4 891.0 L453.9 891.7 L454.4 891.0 L454.9 891.5 L455.4 891.1 L455.9 891.4 L456.4 890.1 L456.9 891.1 L457.3 890.3 L457.8 890.0 L458.3 890.9 L458.8 890.2 L459.3 888.8 L459.8 889.7 L460.3 889.8 L460.8 890.8 L461.2 890.4 L461.7 890.8 L462.2 890.0 L462.7 890.2 L463.2 890.7 L463.7 890.0 L464.2 889.9 L464.7 891.1 L465.1 890.4 L465.6 890.8 L466.1 890.7 L466.6 889.3 L467.1 888.2 L467.6 891.0 L468.1 890.5 L468.5 890.1 L469.0 890.9 L469.5 891.2 L470.0 890.4 L470.5 891.2 L471.0 890.6 L471.5 889.2 L472.0 890.2 L472.4 889.9 L472.9 891.0 L473.4 890.6 L473.9 889.3 L474.4 891.0 L474.9 890.3 L475.4 890.0 L475.9 889.8 L476.3 890.5 L476.8 890.8 L477.3 890.7 L477.8 888.7 L478.3 889.8 L478.8 890.9 L479.3 890.6 L479.8 890.9 L480.2 891.0 L480.7 889.4 L481.2 889.3 L481.7 890.0 L482.2 889.9 L482.7 891.1 L483.2 889.6 L483.6 888.3 L484.1 889.9 L484.6 888.2 L485.1 890.9 L485.6 890.7 L486.1 890.8 L486.6 889.8 L487.1 890.3 L487.5 888.6 L488.0 890.3 L488.5 890.7 L489.0 890.2 L489.5 890.5 L490.0 890.9 L490.5 888.4 L491.0 889.6 L491.4 888.8 L491.9 888.9 L492.4 887.8 L492.9 888.8 L493.4 888.4 L493.9 890.7 L494.4 889.7 L494.8 890.7 L495.3 889.3 L495.8 889.1 L496.3 888.4 L496.8 888.8 L497.3 888.9 L497.8 889.4 L498.3 889.7 L498.7 888.6 L499.2 889.1 L499.7 888.4 L500.2 888.2 L500.7 887.7 L501.2 886.0 L501.7 885.9 L502.2 886.3 L502.6 885.4 L503.1 885.8 L503.6 885.4 L504.1 884.9 L504.6 885.1 L505.1 883.8 L505.6 885.7 L506.1 883.1 L506.5 884.8 L507.0 884.7 L507.5 884.8 L508.0 884.9 L508.5 883.7 L509.0 883.8 L509.5 883.3 L509.9 884.5 L510.4 884.2 L510.9 884.9 L511.4 883.7 L511.9 883.1 L512.4 884.6 L512.9 884.9 L513.4 885.2 L513.8 885.0 L514.3 884.5 L514.8 885.7 L515.3 885.1 L515.8 884.8 L516.3 885.7 L516.8 885.6 L517.3 884.4 L517.7 885.9 L518.2 884.1 L518.7 886.1 L519.2 886.1 L519.7 886.0 L520.2 886.5 L520.7 884.8 L521.2 885.2 L521.6 886.3 L522.1 886.2 L522.6 886.7 L523.1 886.9 L523.6 886.0 L524.1 883.8 L524.6 883.5 L525.0 884.6 L525.5 885.8 L526.0 886.8 L526.5 886.5 L527.0 886.8 L527.5 885.7 L528.0 886.1 L528.5 886.6 L528.9 884.6 L529.4 886.4 L529.9 886.5 L530.4 886.9 L530.9 887.0 L531.4 887.0 L531.9 886.3 L532.4 886.2 L532.8 886.2 L533.3 886.1 L533.8 886.2 L534.3 887.3 L534.8 887.2 L535.3 886.9 L535.8 887.1 L536.3 887.0 L536.7 886.9 L537.2 886.3 L537.7 886.2 L538.2 886.9 L538.7 886.9 L539.2 886.4 L539.7 886.3 L540.1 886.5 L540.6 886.3 L541.1 887.2 L541.6 887.5 L542.1 887.4 L542.6 886.8 L543.1 887.7 L543.6 886.6 L544.0 886.6 L544.5 886.3 L545.0 886.9 L545.5 886.5 L546.0 885.6 L546.5 887.7 L547.0 887.7 L547.5 885.3 L547.9 887.6 L548.4 887.8 L548.9 885.9 L549.4 886.7 L549.9 887.7 L550.4 887.0 L550.9 886.9 L551.4 886.3 L551.8 886.4 L552.3 887.1 L552.8 887.7 L553.3 887.0 L553.8 887.5 L554.3 886.8 L554.8 886.8 L555.2 887.5 L555.7 886.2 L556.2 887.1 L556.7 887.0 L557.2 886.6 L557.7 886.3 L558.2 886.3 L558.7 887.1 L559.1 886.1 L559.6 883.9 L560.1 886.2 L560.6 885.4 L561.1 885.8 L561.6 887.0 L562.1 886.8 L562.6 887.5 L563.0 887.1 L563.5 885.4 L564.0 886.6 L564.5 885.6 L565.0 886.9 L565.5 885.9 L566.0 885.7 L566.5 886.4 L566.9 887.5 L567.4 886.1 L567.9 887.0 L568.4 885.7 L568.9 887.1 L569.4 886.6 L569.9 885.0 L570.3 886.9 L570.8 887.1 L571.3 886.0 L571.8 886.4 L572.3 886.8 L572.8 886.0 L573.3 885.6 L573.8 886.3 L574.2 885.6 L574.7 885.7 L575.2 886.2 L575.7 884.1 L576.2 886.3 L576.7 885.7 L577.2 886.0 L577.7 886.6 L578.1 886.6 L578.6 884.0 L579.1 885.7 L579.6 885.7 L580.1 884.7 L580.6 886.4 L581.1 886.2 L581.6 885.5 L582.0 885.9 L582.5 885.3 L583.0 884.8 L583.5 885.7 L584.0 885.0 L584.5 884.8 L585.0 883.5 L585.4 884.2 L585.9 885.0 L586.4 884.9 L586.9 882.8 L587.4 884.8 L587.9 882.8 L588.4 881.5 L588.9 884.4 L589.3 884.4 L589.8 884.2 L590.3 884.0 L590.8 884.1 L591.3 882.6 L591.8 882.9 L592.3 881.7 L592.8 880.5 L593.2 882.6 L593.7 882.5 L594.2 881.0 L594.7 882.3 L595.2 882.9 L595.7 882.8 L596.2 881.1 L596.7 881.7 L597.1 880.8 L597.6 881.2 L598.1 881.7 L598.6 881.3 L599.1 880.7 L599.6 880.3 L600.1 881.5 L600.5 881.9 L601.0 879.8 L601.5 881.5 L602.0 881.2 L602.5 881.7 L603.0 881.7 L603.5 881.3 L604.0 881.4 L604.4 881.3 L604.9 880.7 L605.4 880.1 L605.9 880.0 L606.4 880.0 L606.9 880.1 L607.4 880.1 L607.9 879.1 L608.3 880.2 L608.8 879.7 L609.3 879.2 L609.8 879.3 L610.3 880.4 L610.8 879.0 L611.3 880.3 L611.7 878.5 L612.2 879.8 L612.7 878.9 L613.2 878.0 L613.7 879.4 L614.2 879.3 L614.7 878.4 L615.2 877.8 L615.6 879.4 L616.1 878.4 L616.6 878.8 L617.1 877.9 L617.6 877.3 L618.1 878.7 L618.6 877.6 L619.1 878.4 L619.5 878.0 L620.0 878.4 L620.5 877.5 L621.0 878.3 L621.5 877.5 L622.0 877.3 L622.5 877.6 L623.0 877.9 L623.4 878.2 L623.9 877.5 L624.4 876.8 L624.9 876.0 L625.4 876.2 L625.9 877.2 L626.4 878.2 L626.8 878.0 L627.3 877.1 L627.8 877.4 L628.3 877.0 L628.8 878.5 L629.3 876.7 L629.8 878.4 L630.3 877.8 L630.7 878.3 L631.2 877.1 L631.7 878.5 L632.2 878.6 L632.7 879.1 L633.2 878.0 L633.7 877.2 L634.2 877.2 L634.6 878.3 L635.1 878.0 L635.6 879.0 L636.1 878.3 L636.6 875.7 L637.1 878.0 L637.6 878.3 L638.1 878.8 L638.5 877.8 L639.0 878.1 L639.5 877.9 L640.0 878.4 L640.5 877.4 L641.0 876.7 L641.5 878.2 L641.9 877.6 L642.4 877.9 L642.9 876.6 L643.4 877.4 L643.9 877.4 L644.4 878.4 L644.9 877.0 L645.4 876.5 L645.8 877.0 L646.3 875.6 L646.8 878.0 L647.3 877.9 L647.8 877.4 L648.3 877.3 L648.8 877.5 L649.3 877.5 L649.7 877.6 L650.2 876.4 L650.7 876.1 L651.2 877.9 L651.7 875.8 L652.2 877.1 L652.7 877.3 L653.2 877.3 L653.6 877.6 L654.1 877.4 L654.6 877.0 L655.1 876.2 L655.1 882.9 L654.6 882.6 L654.1 882.6 L653.6 883.0 L653.2 883.8 L652.7 882.7 L652.2 884.1 L651.7 882.9 L651.2 883.5 L650.7 883.6 L650.2 883.3 L649.7 883.3 L649.3 883.3 L648.8 883.5 L648.3 882.9 L647.8 883.9 L647.3 883.4 L646.8 883.5 L646.3 883.0 L645.8 883.8 L645.4 883.5 L644.9 884.7 L644.4 883.4 L643.9 883.6 L643.4 883.2 L642.9 884.0 L642.4 884.4 L641.9 885.3 L641.5 883.7 L641.0 885.9 L640.5 883.5 L640.0 884.0 L639.5 884.4 L639.0 884.0 L638.5 884.9 L638.1 886.2 L637.6 884.1 L637.1 885.7 L636.6 884.5 L636.1 884.6 L635.6 885.0 L635.1 884.3 L634.6 884.1 L634.2 885.2 L633.7 884.9 L633.2 884.4 L632.7 885.0 L632.2 887.2 L631.7 884.9 L631.2 884.5 L630.7 884.3 L630.3 885.3 L629.8 883.8 L629.3 884.4 L628.8 884.0 L628.3 884.7 L627.8 884.1 L627.3 883.4 L626.8 883.3 L626.4 883.1 L625.9 884.7 L625.4 883.3 L624.9 883.9 L624.4 884.0 L623.9 884.7 L623.4 883.7 L623.0 883.4 L622.5 883.3 L622.0 883.3 L621.5 883.8 L621.0 884.6 L620.5 883.3 L620.0 885.3 L619.5 883.3 L619.1 883.6 L618.6 884.9 L618.1 884.2 L617.6 884.0 L617.1 885.0 L616.6 884.8 L616.1 884.7 L615.6 884.5 L615.2 885.5 L614.7 884.4 L614.2 884.7 L613.7 886.0 L613.2 884.7 L612.7 886.1 L612.2 885.8 L611.7 884.8 L611.3 886.8 L610.8 885.8 L610.3 885.1 L609.8 885.3 L609.3 886.1 L608.8 886.3 L608.3 885.7 L607.9 886.1 L607.4 889.0 L606.9 887.0 L606.4 887.0 L605.9 886.6 L605.4 886.6 L604.9 887.2 L604.4 886.2 L604.0 887.5 L603.5 887.0 L603.0 888.6 L602.5 887.6 L602.0 886.7 L601.5 887.9 L601.0 887.8 L600.5 887.2 L600.1 888.3 L599.6 887.6 L599.1 888.6 L598.6 888.4 L598.1 888.3 L597.6 887.8 L597.1 887.9 L596.7 888.4 L596.2 887.7 L595.7 889.1 L595.2 888.2 L594.7 888.5 L594.2 888.4 L593.7 889.6 L593.2 888.7 L592.8 890.6 L592.3 889.6 L591.8 888.6 L591.3 889.5 L590.8 890.3 L590.3 889.3 L589.8 891.5 L589.3 890.6 L588.9 889.9 L588.4 889.8 L587.9 890.2 L587.4 890.5 L586.9 890.7 L586.4 891.2 L585.9 890.2 L585.4 891.8 L585.0 890.6 L584.5 890.7 L584.0 891.4 L583.5 891.5 L583.0 892.1 L582.5 891.0 L582.0 892.2 L581.6 891.1 L581.1 891.1 L580.6 891.1 L580.1 891.4 L579.6 891.9 L579.1 892.1 L578.6 892.0 L578.1 892.0 L577.7 892.0 L577.2 892.2 L576.7 892.2 L576.2 892.3 L575.7 892.3 L575.2 893.3 L574.7 893.0 L574.2 892.3 L573.8 893.0 L573.3 892.0 L572.8 892.1 L572.3 892.7 L571.8 892.6 L571.3 892.9 L570.8 892.3 L570.3 894.5 L569.9 895.4 L569.4 894.6 L568.9 893.3 L568.4 893.3 L567.9 892.9 L567.4 892.4 L566.9 893.0 L566.5 892.6 L566.0 893.2 L565.5 894.4 L565.0 892.5 L564.5 892.4 L564.0 892.9 L563.5 893.2 L563.0 893.7 L562.6 892.4 L562.1 892.5 L561.6 894.2 L561.1 892.4 L560.6 895.7 L560.1 893.2 L559.6 893.5 L559.1 892.7 L558.7 893.3 L558.2 893.9 L557.7 894.2 L557.2 892.7 L556.7 892.7 L556.2 893.2 L555.7 893.3 L555.2 893.1 L554.8 893.5 L554.3 892.9 L553.8 894.3 L553.3 893.4 L552.8 893.3 L552.3 895.2 L551.8 893.7 L551.4 892.7 L550.9 893.8 L550.4 893.5 L549.9 893.0 L549.4 893.3 L548.9 893.8 L548.4 892.7 L547.9 894.2 L547.5 892.7 L547.0 893.3 L546.5 893.5 L546.0 893.3 L545.5 893.5 L545.0 893.3 L544.5 893.0 L544.0 893.1 L543.6 894.6 L543.1 894.6 L542.6 893.5 L542.1 893.1 L541.6 893.6 L541.1 894.0 L540.6 892.5 L540.1 892.9 L539.7 893.6 L539.2 892.5 L538.7 892.5 L538.2 893.7 L537.7 894.2 L537.2 892.9 L536.7 894.0 L536.3 892.7 L535.8 893.2 L535.3 892.9 L534.8 893.1 L534.3 894.8 L533.8 893.3 L533.3 893.0 L532.8 893.1 L532.4 892.7 L531.9 895.0 L531.4 892.9 L530.9 892.2 L530.4 892.6 L529.9 892.3 L529.4 893.1 L528.9 892.6 L528.5 893.6 L528.0 893.2 L527.5 893.4 L527.0 893.5 L526.5 893.6 L526.0 892.4 L525.5 893.7 L525.0 892.2 L524.6 893.8 L524.1 894.2 L523.6 892.1 L523.1 892.9 L522.6 893.1 L522.1 892.3 L521.6 892.4 L521.2 892.2 L520.7 893.4 L520.2 893.1 L519.7 892.7 L519.2 892.3 L518.7 891.4 L518.2 892.1 L517.7 893.5 L517.3 892.0 L516.8 891.2 L516.3 891.0 L515.8 891.2 L515.3 893.7 L514.8 893.9 L514.3 891.5 L513.8 890.6 L513.4 892.0 L512.9 891.1 L512.4 891.5 L511.9 890.4 L511.4 891.4 L510.9 891.2 L510.4 890.4 L509.9 890.9 L509.5 891.1 L509.0 891.1 L508.5 890.7 L508.0 891.0 L507.5 890.9 L507.0 891.0 L506.5 890.9 L506.1 892.1 L505.6 890.8 L505.1 891.0 L504.6 891.4 L504.1 891.8 L503.6 893.6 L503.1 891.8 L502.6 892.7 L502.2 891.9 L501.7 892.5 L501.2 893.5 L500.7 894.0 L500.2 894.4 L499.7 894.8 L499.2 894.4 L498.7 896.3 L498.3 895.1 L497.8 896.1 L497.3 897.2 L496.8 896.3 L496.3 896.1 L495.8 896.4 L495.3 896.5 L494.8 897.5 L494.4 896.9 L493.9 896.7 L493.4 896.0 L492.9 896.9 L492.4 897.8 L491.9 896.4 L491.4 896.5 L491.0 896.4 L490.5 895.9 L490.0 897.2 L489.5 896.0 L489.0 896.7 L488.5 896.5 L488.0 896.3 L487.5 897.5 L487.1 897.4 L486.6 897.0 L486.1 896.1 L485.6 896.8 L485.1 896.4 L484.6 897.6 L484.1 896.2 L483.6 896.4 L483.2 896.7 L482.7 898.6 L482.2 896.2 L481.7 898.5 L481.2 897.8 L480.7 896.8 L480.2 898.2 L479.8 896.5 L479.3 897.6 L478.8 898.3 L478.3 897.3 L477.8 898.9 L477.3 897.5 L476.8 897.0 L476.3 896.3 L475.9 897.7 L475.4 897.8 L474.9 896.3 L474.4 897.0 L473.9 896.8 L473.4 898.8 L472.9 897.6 L472.4 899.9 L472.0 897.7 L471.5 897.3 L471.0 896.5 L470.5 897.8 L470.0 897.8 L469.5 896.4 L469.0 897.1 L468.5 896.3 L468.1 896.8 L467.6 897.0 L467.1 898.3 L466.6 898.6 L466.1 896.7 L465.6 896.5 L465.1 898.7 L464.7 897.4 L464.2 898.1 L463.7 896.7 L463.2 897.8 L462.7 897.3 L462.2 898.2 L461.7 896.5 L461.2 898.7 L460.8 896.5 L460.3 899.5 L459.8 896.4 L459.3 896.2 L458.8 896.7 L458.3 897.4 L457.8 897.4 L457.3 897.5 L456.9 898.8 L456.4 896.6 L455.9 897.2 L455.4 898.2 L454.9 898.5 L454.4 897.0 L453.9 897.5 L453.4 897.8 L453.0 897.6 L452.5 897.0 L452.0 898.6 L451.5 897.8 L451.0 897.9 L450.5 898.3 L450.0 897.5 L449.6 898.0 L449.1 899.3 L448.6 898.4 L448.1 899.6 L447.6 898.2 L447.1 903.4 L446.6 916.4 L446.1 924.8 L445.7 923.8 L445.2 924.2 L444.7 923.7 L444.2 924.5 L443.7 925.6 L443.2 924.0 L442.7 925.0 L442.2 924.1 L441.8 924.8 L441.3 924.7 L440.8 923.6 L440.3 924.7 L439.8 925.9 L439.3 926.2 L438.8 925.4 L438.3 925.8 L437.9 926.9 L437.4 923.8 L436.9 926.1 L436.4 925.9Z" fill="#5bbb73"/>
<path d="M436.4 897.7 L436.9 897.1 L437.4 897.2 L437.9 895.4 L438.3 896.3 L438.8 896.3 L439.3 897.3 L439.8 896.2 L440.3 896.9 L440.8 896.4 L441.3 897.8 L441.8 897.0 L442.2 896.2 L442.7 896.7 L443.2 896.5 L443.7 895.4 L444.2 897.8 L444.7 897.6 L445.2 895.2 L445.7 896.7 L446.1 894.6 L446.6 894.5 L447.1 895.9 L447.6 897.1 L448.1 897.2 L448.6 896.3 L449.1 896.6 L449.6 896.7 L450.0 897.0 L450.5 895.9 L451.0 897.5 L451.5 896.7 L452.0 893.9 L452.5 897.5 L453.0 895.5 L453.4 897.4 L453.9 896.9 L454.4 897.8 L454.9 897.4 L455.4 895.6 L455.9 897.5 L456.4 895.1 L456.9 896.9 L457.3 897.7 L457.8 897.7 L458.3 896.7 L458.8 898.1 L459.3 897.6 L459.8 898.8 L460.3 898.8 L460.8 897.5 L461.2 900.6 L461.7 902.0 L462.2 900.6 L462.7 902.2 L463.2 902.5 L463.7 903.8 L464.2 905.5 L464.7 905.6 L465.1 906.2 L465.6 907.3 L466.1 908.7 L466.6 909.3 L467.1 908.3 L467.6 911.4 L468.1 908.8 L468.5 911.2 L469.0 911.7 L469.5 911.6 L470.0 911.1 L470.5 909.9 L471.0 911.4 L471.5 910.2 L472.0 911.2 L472.4 910.6 L472.9 908.8 L473.4 908.2 L473.9 906.6 L474.4 906.3 L474.9 905.8 L475.4 905.5 L475.9 903.8 L476.3 902.8 L476.8 902.4 L477.3 899.9 L477.8 902.0 L478.3 900.1 L478.8 899.7 L479.3 899.0 L479.8 898.5 L480.2 900.8 L480.7 899.8 L481.2 899.6 L481.7 897.7 L482.2 899.5 L482.7 897.0 L483.2 897.2 L483.6 898.7 L484.1 897.5 L484.6 895.5 L485.1 896.6 L485.6 898.3 L486.1 897.5 L486.6 896.8 L487.1 896.4 L487.5 896.9 L488.0 896.6 L488.5 897.8 L489.0 896.7 L489.5 896.0 L490.0 897.1 L490.5 897.2 L491.0 897.1 L491.4 897.1 L491.9 897.0 L492.4 894.0 L492.9 896.0 L493.4 896.4 L493.9 897.3 L494.4 896.7 L494.8 897.5 L495.3 895.7 L495.8 895.1 L496.3 895.4 L496.8 897.6 L497.3 897.4 L497.8 897.1 L498.3 896.4 L498.7 897.3 L499.2 896.5 L499.7 897.6 L500.2 896.9 L500.7 897.5 L501.2 897.4 L501.7 896.6 L502.2 896.1 L502.6 897.2 L503.1 896.0 L503.6 895.6 L504.1 896.4 L504.6 895.7 L505.1 895.2 L505.6 895.4 L506.1 896.2 L506.5 896.7 L507.0 896.6 L507.5 895.5 L508.0 895.4 L508.5 895.0 L509.0 895.4 L509.5 893.8 L509.9 896.3 L510.4 895.3 L510.9 894.4 L511.4 895.0 L511.9 895.0 L512.4 895.2 L512.9 895.6 L513.4 893.6 L513.8 894.7 L514.3 894.1 L514.8 894.1 L515.3 894.6 L515.8 894.4 L516.3 894.5 L516.8 894.9 L517.3 894.5 L517.7 895.0 L518.2 893.5 L518.7 894.4 L519.2 894.8 L519.7 892.6 L520.2 892.7 L520.7 894.2 L521.2 894.3 L521.6 894.4 L522.1 893.1 L522.6 891.5 L523.1 894.2 L523.6 894.1 L524.1 893.3 L524.6 892.8 L525.0 893.9 L525.5 894.1 L526.0 894.4 L526.5 893.8 L527.0 893.5 L527.5 893.6 L528.0 894.3 L528.5 894.0 L528.9 894.9 L529.4 894.5 L529.9 895.5 L530.4 894.3 L530.9 895.4 L531.4 895.9 L531.9 895.9 L532.4 896.3 L532.8 896.2 L533.3 895.3 L533.8 894.0 L534.3 896.1 L534.8 896.4 L535.3 896.5 L535.8 895.4 L536.3 895.0 L536.7 893.9 L537.2 895.4 L537.7 895.8 L538.2 895.9 L538.7 895.2 L539.2 895.7 L539.7 894.3 L540.1 894.4 L540.6 894.8 L541.1 894.8 L541.6 894.7 L542.1 894.3 L542.6 893.9 L543.1 894.1 L543.6 894.4 L544.0 894.0 L544.5 893.0 L545.0 894.5 L545.5 891.2 L546.0 892.8 L546.5 894.2 L547.0 893.8 L547.5 893.0 L547.9 891.8 L548.4 894.0 L548.9 894.1 L549.4 894.1 L549.9 892.5 L550.4 892.7 L550.9 895.0 L551.4 895.1 L551.8 893.3 L552.3 894.8 L552.8 894.4 L553.3 895.5 L553.8 894.8 L554.3 895.2 L554.8 895.8 L555.2 894.4 L555.7 895.9 L556.2 895.4 L556.7 895.1 L557.2 894.4 L557.7 894.6 L558.2 895.1 L558.7 894.2 L559.1 894.0 L559.6 894.6 L560.1 895.4 L560.6 893.4 L561.1 895.1 L561.6 895.2 L562.1 895.2 L562.6 894.5 L563.0 893.0 L563.5 894.0 L564.0 894.0 L564.5 893.2 L565.0 894.8 L565.5 894.4 L566.0 893.3 L566.5 893.9 L566.9 894.2 L567.4 893.3 L567.9 893.8 L568.4 893.8 L568.9 893.6 L569.4 893.8 L569.9 893.8 L570.3 892.3 L570.8 891.1 L571.3 892.3 L571.8 892.9 L572.3 892.5 L572.8 893.3 L573.3 890.7 L573.8 892.3 L574.2 891.5 L574.7 892.5 L575.2 892.7 L575.7 891.6 L576.2 891.4 L576.7 892.1 L577.2 891.9 L577.7 891.6 L578.1 891.9 L578.6 891.6 L579.1 891.7 L579.6 889.6 L580.1 891.9 L580.6 891.5 L581.1 891.7 L581.6 889.8 L582.0 891.3 L582.5 891.4 L583.0 891.3 L583.5 890.7 L584.0 889.3 L584.5 891.0 L585.0 889.3 L585.4 889.9 L585.9 889.8 L586.4 890.3 L586.9 889.1 L587.4 890.0 L587.9 890.2 L588.4 890.0 L588.9 889.9 L589.3 889.0 L589.8 889.0 L590.3 889.6 L590.8 889.7 L591.3 886.6 L591.8 889.4 L592.3 889.6 L592.8 889.2 L593.2 888.9 L593.7 888.5 L594.2 888.5 L594.7 888.7 L595.2 889.0 L595.7 889.4 L596.2 888.5 L596.7 888.8 L597.1 888.4 L597.6 888.1 L598.1 889.0 L598.6 887.1 L599.1 886.9 L599.6 887.4 L600.1 887.5 L600.5 887.9 L601.0 888.4 L601.5 888.3 L602.0 887.1 L602.5 888.8 L603.0 888.5 L603.5 888.6 L604.0 887.1 L604.4 887.6 L604.9 885.9 L605.4 888.4 L605.9 887.5 L606.4 887.8 L606.9 887.8 L607.4 886.7 L607.9 887.8 L608.3 888.0 L608.8 886.5 L609.3 887.8 L609.8 887.8 L610.3 886.8 L610.8 888.2 L611.3 886.1 L611.7 886.4 L612.2 886.7 L612.7 886.7 L613.2 886.9 L613.7 887.2 L614.2 887.0 L614.7 885.5 L615.2 887.7 L615.6 887.0 L616.1 886.4 L616.6 887.2 L617.1 886.3 L617.6 887.7 L618.1 885.8 L618.6 887.0 L619.1 886.0 L619.5 887.8 L620.0 887.5 L620.5 887.7 L621.0 887.2 L621.5 887.9 L622.0 886.6 L622.5 887.9 L623.0 887.6 L623.4 887.8 L623.9 887.4 L624.4 887.5 L624.9 887.8 L625.4 886.3 L625.9 887.5 L626.4 887.6 L626.8 887.9 L627.3 887.9 L627.8 886.1 L628.3 886.9 L628.8 885.1 L629.3 887.9 L629.8 885.5 L630.3 886.9 L630.7 887.9 L631.2 887.7 L631.7 887.7 L632.2 887.8 L632.7 887.7 L633.2 887.1 L633.7 887.5 L634.2 887.6 L634.6 886.9 L635.1 886.2 L635.6 886.1 L636.1 886.7 L636.6 887.7 L637.1 886.9 L637.6 887.5 L638.1 887.8 L638.5 886.2 L639.0 887.2 L639.5 887.0 L640.0 886.0 L640.5 886.0 L641.0 887.2 L641.5 887.4 L641.9 886.4 L642.4 886.8 L642.9 885.5 L643.4 887.3 L643.9 887.2 L644.4 886.5 L644.9 885.7 L645.4 887.4 L645.8 887.4 L646.3 887.1 L646.8 886.5 L647.3 887.4 L647.8 887.5 L648.3 887.2 L648.8 887.4 L649.3 886.9 L649.7 886.7 L650.2 885.1 L650.7 886.9 L651.2 887.1 L651.7 885.0 L652.2 886.0 L652.7 886.8 L653.2 886.9 L653.6 886.0 L654.1 886.6 L654.6 886.7 L655.1 887.2 L655.1 897.4 L654.6 898.4 L654.1 898.5 L653.6 898.0 L653.2 896.6 L652.7 896.4 L652.2 898.1 L651.7 897.5 L651.2 896.8 L650.7 898.3 L650.2 897.9 L649.7 896.7 L649.3 897.7 L648.8 896.6 L648.3 896.5 L647.8 896.7 L647.3 898.3 L646.8 897.5 L646.3 897.4 L645.8 897.6 L645.4 896.8 L644.9 896.9 L644.4 897.2 L643.9 897.6 L643.4 897.8 L642.9 896.4 L642.4 897.2 L641.9 896.9 L641.5 897.0 L641.0 896.7 L640.5 898.8 L640.0 896.9 L639.5 898.5 L639.0 897.3 L638.5 896.8 L638.1 898.7 L637.6 897.1 L637.1 897.5 L636.6 897.5 L636.1 896.8 L635.6 897.5 L635.1 896.6 L634.6 896.7 L634.2 896.8 L633.7 897.3 L633.2 896.9 L632.7 897.1 L632.2 898.4 L631.7 898.1 L631.2 897.4 L630.7 899.2 L630.3 898.3 L629.8 898.4 L629.3 896.5 L628.8 896.4 L628.3 896.4 L627.8 897.2 L627.3 897.1 L626.8 896.5 L626.4 896.6 L625.9 898.6 L625.4 897.9 L624.9 897.4 L624.4 898.0 L623.9 897.6 L623.4 896.6 L623.0 896.3 L622.5 897.4 L622.0 897.9 L621.5 896.8 L621.0 897.4 L620.5 896.8 L620.0 896.7 L619.5 896.7 L619.1 897.2 L618.6 898.9 L618.1 897.2 L617.6 898.5 L617.1 896.5 L616.6 896.5 L616.1 897.1 L615.6 897.7 L615.2 896.5 L614.7 900.1 L614.2 897.0 L613.7 896.3 L613.2 896.7 L612.7 896.9 L612.2 898.3 L611.7 896.4 L611.3 898.3 L610.8 897.5 L610.3 898.4 L609.8 897.5 L609.3 897.0 L608.8 896.5 L608.3 898.0 L607.9 897.0 L607.4 897.5 L606.9 898.1 L606.4 896.5 L605.9 897.4 L605.4 896.7 L604.9 898.1 L604.4 896.8 L604.0 896.6 L603.5 897.0 L603.0 897.4 L602.5 898.2 L602.0 896.7 L601.5 897.4 L601.0 898.4 L600.5 897.9 L600.1 898.1 L599.6 899.8 L599.1 897.7 L598.6 898.1 L598.1 897.5 L597.6 897.8 L597.1 898.4 L596.7 901.5 L596.2 899.2 L595.7 897.7 L595.2 898.8 L594.7 897.8 L594.2 897.6 L593.7 897.9 L593.2 897.7 L592.8 897.3 L592.3 898.6 L591.8 897.4 L591.3 898.1 L590.8 899.0 L590.3 898.9 L589.8 898.1 L589.3 899.4 L588.9 898.7 L588.4 899.7 L587.9 897.9 L587.4 898.5 L586.9 898.3 L586.4 898.6 L585.9 898.7 L585.4 899.1 L585.0 899.8 L584.5 900.5 L584.0 898.7 L583.5 900.6 L583.0 899.1 L582.5 898.9 L582.0 898.8 L581.6 900.5 L581.1 901.0 L580.6 899.8 L580.1 899.6 L579.6 900.0 L579.1 899.3 L578.6 899.4 L578.1 900.3 L577.7 900.2 L577.2 900.1 L576.7 900.3 L576.2 901.2 L575.7 901.6 L575.2 900.2 L574.7 900.5 L574.2 901.6 L573.8 901.3 L573.3 900.7 L572.8 902.4 L572.3 900.8 L571.8 901.8 L571.3 900.9 L570.8 900.9 L570.3 902.7 L569.9 901.9 L569.4 902.5 L568.9 902.5 L568.4 903.1 L567.9 901.8 L567.4 903.1 L566.9 902.5 L566.5 903.4 L566.0 901.8 L565.5 902.0 L565.0 903.2 L564.5 902.2 L564.0 903.3 L563.5 905.1 L563.0 902.4 L562.6 904.1 L562.1 902.2 L561.6 903.8 L561.1 903.0 L560.6 903.5 L560.1 904.2 L559.6 904.6 L559.1 903.0 L558.7 903.5 L558.2 904.0 L557.7 903.3 L557.2 904.7 L556.7 904.2 L556.2 905.2 L555.7 903.1 L555.2 902.8 L554.8 904.0 L554.3 904.2 L553.8 904.0 L553.3 902.4 L552.8 902.5 L552.3 902.1 L551.8 903.2 L551.4 902.7 L550.9 902.1 L550.4 902.5 L549.9 901.9 L549.4 901.8 L548.9 902.6 L548.4 902.3 L547.9 903.8 L547.5 901.8 L547.0 901.0 L546.5 901.1 L546.0 900.8 L545.5 901.7 L545.0 901.2 L544.5 901.0 L544.0 903.3 L543.6 901.3 L543.1 901.7 L542.6 901.6 L542.1 902.0 L541.6 902.5 L541.1 902.3 L540.6 902.5 L540.1 903.8 L539.7 903.2 L539.2 903.0 L538.7 902.4 L538.2 904.0 L537.7 903.1 L537.2 902.8 L536.7 903.8 L536.3 904.8 L535.8 904.3 L535.3 904.1 L534.8 903.8 L534.3 905.0 L533.8 903.8 L533.3 905.3 L532.8 903.2 L532.4 903.0 L531.9 902.5 L531.4 904.0 L530.9 903.0 L530.4 903.2 L529.9 903.5 L529.4 903.9 L528.9 903.1 L528.5 902.4 L528.0 902.2 L527.5 901.6 L527.0 901.3 L526.5 902.5 L526.0 901.1 L525.5 901.2 L525.0 902.3 L524.6 901.3 L524.1 901.2 L523.6 901.4 L523.1 901.2 L522.6 901.4 L522.1 902.0 L521.6 903.5 L521.2 901.8 L520.7 901.6 L520.2 902.3 L519.7 901.1 L519.2 901.1 L518.7 901.7 L518.2 902.9 L517.7 902.7 L517.3 902.2 L516.8 903.6 L516.3 901.9 L515.8 902.2 L515.3 902.4 L514.8 901.9 L514.3 901.9 L513.8 903.2 L513.4 902.0 L512.9 903.3 L512.4 902.9 L511.9 902.5 L511.4 903.4 L510.9 903.6 L510.4 903.4 L509.9 903.2 L509.5 902.9 L509.0 904.6 L508.5 903.5 L508.0 903.7 L507.5 903.6 L507.0 907.2 L506.5 903.4 L506.1 903.2 L505.6 903.2 L505.1 905.3 L504.6 904.3 L504.1 904.2 L503.6 907.0 L503.1 905.6 L502.6 906.5 L502.2 904.3 L501.7 905.9 L501.2 903.9 L500.7 903.8 L500.2 905.9 L499.7 904.5 L499.2 904.3 L498.7 904.7 L498.3 904.5 L497.8 904.2 L497.3 904.9 L496.8 905.4 L496.3 904.9 L495.8 905.6 L495.3 904.5 L494.8 905.5 L494.4 906.6 L493.9 904.9 L493.4 904.4 L492.9 906.7 L492.4 905.1 L491.9 904.2 L491.4 904.3 L491.0 904.9 L490.5 905.6 L490.0 905.6 L489.5 905.3 L489.0 904.3 L488.5 904.9 L488.0 904.5 L487.5 904.4 L487.1 905.2 L486.6 904.5 L486.1 905.7 L485.6 904.4 L485.1 905.1 L484.6 904.4 L484.1 904.7 L483.6 908.1 L483.2 907.5 L482.7 907.4 L482.2 908.1 L481.7 908.4 L481.2 906.3 L480.7 908.4 L480.2 907.8 L479.8 908.6 L479.3 908.5 L478.8 910.7 L478.3 909.6 L477.8 909.1 L477.3 910.7 L476.8 910.3 L476.3 910.0 L475.9 910.8 L475.4 913.9 L474.9 912.9 L474.4 914.1 L473.9 915.0 L473.4 915.8 L472.9 917.0 L472.4 917.3 L472.0 917.7 L471.5 917.8 L471.0 918.1 L470.5 918.0 L470.0 917.8 L469.5 918.2 L469.0 918.4 L468.5 919.3 L468.1 920.0 L467.6 918.0 L467.1 917.5 L466.6 918.0 L466.1 915.4 L465.6 914.6 L465.1 913.7 L464.7 912.5 L464.2 913.9 L463.7 912.1 L463.2 910.4 L462.7 910.6 L462.2 910.6 L461.7 910.6 L461.2 908.3 L460.8 906.8 L460.3 907.2 L459.8 905.7 L459.3 905.3 L458.8 905.9 L458.3 904.4 L457.8 904.3 L457.3 903.8 L456.9 904.2 L456.4 904.0 L455.9 905.2 L455.4 904.3 L454.9 904.2 L454.4 904.0 L453.9 904.7 L453.4 904.4 L453.0 904.7 L452.5 904.2 L452.0 905.6 L451.5 904.0 L451.0 903.8 L450.5 903.8 L450.0 905.8 L449.6 904.7 L449.1 903.8 L448.6 905.2 L448.1 905.1 L447.6 905.2 L447.1 904.7 L446.6 903.9 L446.1 904.2 L445.7 905.6 L445.2 904.3 L444.7 904.5 L444.2 903.9 L443.7 904.7 L443.2 904.8 L442.7 905.2 L442.2 905.8 L441.8 903.9 L441.3 904.0 L440.8 904.0 L440.3 904.2 L439.8 905.0 L439.3 906.7 L438.8 904.7 L438.3 906.0 L437.9 904.2 L437.4 904.4 L436.9 903.9 L436.4 904.8Z" fill="#4376e2"/>
<path d="M436.4 906.1 L436.9 906.4 L437.4 905.7 L437.9 906.7 L438.3 904.9 L438.8 905.9 L439.3 906.3 L439.8 905.7 L440.3 906.7 L440.8 906.2 L441.3 906.3 L441.8 906.3 L442.2 906.3 L442.7 905.7 L443.2 905.6 L443.7 906.4 L444.2 906.8 L444.7 904.6 L445.2 906.0 L445.7 906.6 L446.1 906.4 L446.6 905.3 L447.1 904.5 L447.6 905.9 L448.1 906.6 L448.6 906.8 L449.1 906.1 L449.6 904.8 L450.0 905.3 L450.5 906.7 L451.0 906.0 L451.5 906.0 L452.0 906.4 L452.5 904.7 L453.0 906.7 L453.4 906.9 L453.9 906.3 L454.4 905.5 L454.9 906.9 L455.4 906.9 L455.9 906.1 L456.4 906.5 L456.9 906.6 L457.3 906.9 L457.8 906.1 L458.3 906.0 L458.8 905.8 L459.3 906.8 L459.8 906.7 L460.3 906.5 L460.8 906.2 L461.2 906.2 L461.7 906.5 L462.2 906.5 L462.7 905.4 L463.2 907.0 L463.7 906.2 L464.2 906.9 L464.7 906.9 L465.1 905.9 L465.6 906.1 L466.1 906.7 L466.6 906.9 L467.1 906.9 L467.6 907.1 L468.1 906.8 L468.5 905.3 L469.0 906.8 L469.5 906.6 L470.0 906.0 L470.5 906.6 L471.0 906.1 L471.5 906.1 L472.0 906.3 L472.4 907.0 L472.9 907.2 L473.4 905.9 L473.9 906.7 L474.4 906.6 L474.9 906.6 L475.4 906.5 L475.9 907.0 L476.3 905.6 L476.8 906.6 L477.3 906.7 L477.8 906.7 L478.3 905.5 L478.8 905.9 L479.3 907.1 L479.8 906.6 L480.2 907.2 L480.7 906.0 L481.2 905.7 L481.7 906.8 L482.2 907.1 L482.7 906.7 L483.2 906.4 L483.6 905.4 L484.1 907.0 L484.6 906.1 L485.1 906.0 L485.6 906.8 L486.1 906.5 L486.6 906.6 L487.1 905.6 L487.5 905.4 L488.0 907.2 L488.5 907.0 L489.0 906.5 L489.5 906.5 L490.0 907.2 L490.5 906.7 L491.0 906.7 L491.4 906.5 L491.9 907.2 L492.4 907.1 L492.9 906.1 L493.4 905.5 L493.9 906.6 L494.4 907.1 L494.8 905.6 L495.3 906.5 L495.8 905.7 L496.3 906.2 L496.8 906.5 L497.3 906.9 L497.8 906.6 L498.3 905.3 L498.7 905.6 L499.2 907.0 L499.7 906.7 L500.2 906.7 L500.7 906.2 L501.2 906.5 L501.7 905.4 L502.2 906.5 L502.6 906.0 L503.1 905.1 L503.6 906.7 L504.1 906.3 L504.6 905.9 L505.1 906.3 L505.6 906.6 L506.1 907.0 L506.5 906.2 L507.0 905.8 L507.5 905.7 L508.0 906.1 L508.5 905.1 L509.0 906.8 L509.5 906.9 L509.9 906.6 L510.4 906.3 L510.9 905.7 L511.4 905.2 L511.9 905.9 L512.4 906.7 L512.9 906.6 L513.4 906.3 L513.8 906.8 L514.3 905.1 L514.8 905.0 L515.3 906.4 L515.8 906.8 L516.3 906.6 L516.8 906.8 L517.3 906.3 L517.7 906.5 L518.2 906.8 L518.7 906.7 L519.2 906.5 L519.7 906.6 L520.2 906.8 L520.7 905.9 L521.2 906.3 L521.6 905.4 L522.1 906.5 L522.6 905.0 L523.1 906.8 L523.6 905.9 L524.1 905.8 L524.6 906.5 L525.0 906.5 L525.5 906.4 L526.0 905.1 L526.5 905.0 L527.0 906.3 L527.5 906.0 L528.0 905.8 L528.5 905.5 L528.9 905.5 L529.4 905.2 L529.9 905.3 L530.4 906.0 L530.9 904.9 L531.4 906.7 L531.9 905.8 L532.4 905.6 L532.8 905.5 L533.3 906.3 L533.8 906.6 L534.3 906.6 L534.8 906.3 L535.3 906.7 L535.8 906.5 L536.3 906.3 L536.7 906.4 L537.2 906.4 L537.7 905.1 L538.2 906.7 L538.7 905.8 L539.2 905.6 L539.7 906.6 L540.1 906.3 L540.6 904.1 L541.1 905.9 L541.6 905.4 L542.1 906.6 L542.6 906.3 L543.1 906.6 L543.6 906.6 L544.0 905.7 L544.5 904.6 L545.0 906.4 L545.5 906.3 L546.0 905.9 L546.5 905.6 L547.0 905.7 L547.5 904.3 L547.9 906.3 L548.4 906.3 L548.9 906.0 L549.4 905.3 L549.9 905.8 L550.4 905.5 L550.9 905.2 L551.4 906.6 L551.8 906.5 L552.3 905.7 L552.8 906.3 L553.3 905.5 L553.8 905.9 L554.3 904.6 L554.8 906.6 L555.2 906.3 L555.7 905.5 L556.2 905.7 L556.7 906.3 L557.2 905.6 L557.7 905.7 L558.2 906.3 L558.7 905.9 L559.1 905.9 L559.6 906.3 L560.1 903.7 L560.6 906.7 L561.1 905.4 L561.6 905.8 L562.1 906.6 L562.6 905.9 L563.0 905.5 L563.5 905.7 L564.0 905.8 L564.5 905.2 L565.0 906.7 L565.5 906.2 L566.0 906.3 L566.5 904.9 L566.9 905.5 L567.4 906.5 L567.9 906.7 L568.4 905.8 L568.9 906.5 L569.4 906.1 L569.9 906.0 L570.3 906.2 L570.8 906.6 L571.3 906.0 L571.8 906.6 L572.3 905.3 L572.8 905.7 L573.3 905.9 L573.8 906.3 L574.2 906.5 L574.7 905.9 L575.2 906.6 L575.7 905.9 L576.2 906.1 L576.7 905.9 L577.2 905.9 L577.7 906.4 L578.1 905.9 L578.6 905.6 L579.1 905.9 L579.6 905.4 L580.1 905.9 L580.6 906.2 L581.1 904.8 L581.6 906.2 L582.0 906.5 L582.5 905.3 L583.0 906.3 L583.5 906.0 L584.0 905.3 L584.5 904.7 L585.0 906.0 L585.4 906.0 L585.9 906.2 L586.4 905.1 L586.9 906.3 L587.4 906.0 L587.9 905.7 L588.4 906.2 L588.9 905.7 L589.3 905.0 L589.8 905.1 L590.3 906.3 L590.8 905.5 L591.3 906.0 L591.8 905.0 L592.3 905.8 L592.8 906.3 L593.2 906.0 L593.7 905.3 L594.2 905.9 L594.7 906.2 L595.2 906.3 L595.7 905.1 L596.2 906.0 L596.7 906.3 L597.1 905.6 L597.6 905.7 L598.1 905.5 L598.6 905.3 L599.1 906.0 L599.6 905.9 L600.1 905.8 L600.5 906.1 L601.0 904.5 L601.5 904.6 L602.0 904.1 L602.5 905.8 L603.0 904.8 L603.5 905.4 L604.0 905.5 L604.4 904.9 L604.9 905.0 L605.4 906.1 L605.9 905.9 L606.4 906.0 L606.9 904.5 L607.4 905.8 L607.9 905.1 L608.3 905.3 L608.8 905.0 L609.3 905.3 L609.8 905.2 L610.3 906.0 L610.8 905.7 L611.3 905.5 L611.7 905.9 L612.2 905.7 L612.7 905.8 L613.2 903.9 L613.7 905.1 L614.2 905.9 L614.7 904.5 L615.2 904.5 L615.6 906.0 L616.1 905.8 L616.6 904.8 L617.1 905.3 L617.6 905.8 L618.1 904.6 L618.6 905.4 L619.1 904.3 L619.5 905.7 L620.0 905.3 L620.5 905.8 L621.0 905.1 L621.5 905.1 L622.0 904.2 L622.5 905.0 L623.0 904.8 L623.4 905.8 L623.9 905.5 L624.4 905.6 L624.9 904.0 L625.4 904.9 L625.9 905.4 L626.4 905.7 L626.8 905.2 L627.3 904.3 L627.8 905.3 L628.3 905.4 L628.8 905.5 L629.3 905.0 L629.8 903.9 L630.3 904.2 L630.7 905.2 L631.2 904.2 L631.7 905.6 L632.2 905.6 L632.7 904.5 L633.2 905.4 L633.7 905.2 L634.2 903.8 L634.6 904.9 L635.1 905.2 L635.6 905.2 L636.1 905.0 L636.6 904.2 L637.1 905.5 L637.6 905.1 L638.1 904.4 L638.5 904.2 L639.0 905.0 L639.5 904.4 L640.0 905.0 L640.5 905.4 L641.0 905.1 L641.5 904.2 L641.9 904.7 L642.4 904.1 L642.9 903.4 L643.4 905.1 L643.9 904.3 L644.4 904.4 L644.9 904.9 L645.4 905.2 L645.8 904.1 L646.3 904.6 L646.8 904.6 L647.3 904.7 L647.8 903.8 L648.3 903.8 L648.8 904.0 L649.3 904.7 L649.7 904.6 L650.2 904.4 L650.7 904.9 L651.2 904.3 L651.7 904.5 L652.2 903.6 L652.7 904.7 L653.2 902.8 L653.6 902.9 L654.1 904.7 L654.6 904.2 L655.1 904.8 L655.1 911.7 L654.6 911.7 L654.1 913.0 L653.6 914.2 L653.2 911.7 L652.7 911.7 L652.2 912.2 L651.7 911.0 L651.2 911.8 L650.7 911.7 L650.2 913.0 L649.7 911.5 L649.3 911.8 L648.8 914.0 L648.3 912.8 L647.8 913.1 L647.3 911.3 L646.8 911.2 L646.3 920.4 L645.8 917.2 L645.4 918.8 L644.9 920.8 L644.4 919.8 L643.9 914.7 L643.4 916.6 L642.9 921.8 L642.4 915.2 L641.9 912.3 L641.5 916.3 L641.0 916.3 L640.5 924.9 L640.0 914.4 L639.5 912.4 L639.0 923.7 L638.5 912.0 L638.1 914.4 L637.6 915.8 L637.1 917.0 L636.6 916.0 L636.1 919.3 L635.6 912.9 L635.1 912.9 L634.6 918.5 L634.2 915.9 L633.7 919.4 L633.2 914.7 L632.7 912.7 L632.2 914.1 L631.7 915.9 L631.2 915.9 L630.7 912.9 L630.3 913.2 L629.8 915.2 L629.3 915.8 L628.8 917.5 L628.3 919.0 L627.8 917.3 L627.3 914.5 L626.8 918.1 L626.4 915.2 L625.9 920.3 L625.4 912.0 L624.9 913.0 L624.4 913.8 L623.9 915.4 L623.4 914.7 L623.0 913.1 L622.5 915.5 L622.0 916.4 L621.5 915.2 L621.0 918.8 L620.5 914.4 L620.0 913.0 L619.5 917.2 L619.1 915.4 L618.6 919.6 L618.1 917.5 L617.6 916.7 L617.1 922.1 L616.6 914.2 L616.1 914.7 L615.6 912.7 L615.2 917.3 L614.7 914.8 L614.2 920.0 L613.7 915.8 L613.2 915.2 L612.7 916.9 L612.2 917.7 L611.7 914.1 L611.3 920.8 L610.8 915.0 L610.3 916.0 L609.8 916.4 L609.3 913.6 L608.8 914.8 L608.3 914.8 L607.9 914.3 L607.4 919.0 L606.9 916.5 L606.4 914.6 L605.9 914.2 L605.4 916.5 L604.9 918.7 L604.4 918.6 L604.0 914.4 L603.5 916.6 L603.0 919.2 L602.5 914.5 L602.0 914.5 L601.5 912.4 L601.0 914.7 L600.5 912.8 L600.1 913.0 L599.6 915.6 L599.1 913.5 L598.6 912.5 L598.1 913.1 L597.6 912.1 L597.1 912.6 L596.7 912.9 L596.2 914.3 L595.7 912.4 L595.2 913.0 L594.7 914.3 L594.2 913.6 L593.7 912.2 L593.2 913.7 L592.8 913.5 L592.3 912.5 L591.8 913.3 L591.3 912.9 L590.8 913.4 L590.3 912.9 L589.8 913.6 L589.3 913.3 L588.9 913.1 L588.4 913.6 L587.9 914.3 L587.4 912.9 L586.9 914.5 L586.4 913.0 L585.9 913.5 L585.4 912.4 L585.0 915.0 L584.5 913.6 L584.0 914.3 L583.5 913.0 L583.0 913.9 L582.5 913.6 L582.0 913.3 L581.6 912.4 L581.1 912.6 L580.6 913.5 L580.1 914.4 L579.6 913.1 L579.1 912.7 L578.6 912.6 L578.1 914.5 L577.7 913.8 L577.2 913.8 L576.7 913.7 L576.2 912.9 L575.7 912.4 L575.2 912.4 L574.7 912.9 L574.2 912.6 L573.8 912.5 L573.3 914.1 L572.8 912.9 L572.3 913.3 L571.8 914.5 L571.3 912.8 L570.8 914.2 L570.3 912.6 L569.9 914.1 L569.4 913.5 L568.9 912.7 L568.4 912.8 L567.9 912.8 L567.4 913.0 L566.9 913.6 L566.5 912.5 L566.0 913.4 L565.5 913.0 L565.0 913.0 L564.5 912.5 L564.0 913.6 L563.5 914.5 L563.0 913.2 L562.6 914.3 L562.1 914.3 L561.6 914.4 L561.1 913.1 L560.6 912.9 L560.1 916.7 L559.6 913.7 L559.1 912.6 L558.7 914.0 L558.2 914.2 L557.7 912.9 L557.2 912.8 L556.7 912.6 L556.2 912.7 L555.7 914.3 L555.2 914.0 L554.8 914.1 L554.3 913.1 L553.8 913.6 L553.3 912.7 L552.8 912.8 L552.3 913.6 L551.8 913.2 L551.4 914.3 L550.9 912.6 L550.4 914.0 L549.9 914.6 L549.4 914.6 L548.9 914.6 L548.4 912.6 L547.9 913.9 L547.5 913.9 L547.0 912.9 L546.5 913.2 L546.0 914.1 L545.5 914.1 L545.0 913.1 L544.5 913.0 L544.0 914.1 L543.6 914.5 L543.1 915.3 L542.6 915.3 L542.1 915.1 L541.6 912.5 L541.1 913.1 L540.6 914.4 L540.1 912.5 L539.7 913.6 L539.2 912.6 L538.7 914.4 L538.2 914.4 L537.7 914.9 L537.2 912.5 L536.7 912.7 L536.3 912.7 L535.8 913.3 L535.3 912.9 L534.8 913.0 L534.3 913.0 L533.8 912.7 L533.3 913.3 L532.8 912.6 L532.4 913.3 L531.9 913.7 L531.4 912.7 L530.9 912.6 L530.4 912.7 L529.9 913.1 L529.4 914.2 L528.9 914.3 L528.5 915.0 L528.0 913.7 L527.5 913.4 L527.0 914.1 L526.5 912.6 L526.0 914.1 L525.5 913.9 L525.0 912.6 L524.6 913.2 L524.1 914.6 L523.6 913.4 L523.1 914.5 L522.6 914.7 L522.1 913.1 L521.6 913.6 L521.2 912.6 L520.7 913.1 L520.2 914.3 L519.7 912.8 L519.2 913.1 L518.7 914.4 L518.2 913.2 L517.7 915.3 L517.3 914.1 L516.8 913.8 L516.3 913.1 L515.8 914.1 L515.3 913.3 L514.8 915.3 L514.3 915.4 L513.8 912.8 L513.4 913.5 L512.9 914.2 L512.4 915.2 L511.9 914.0 L511.4 914.9 L510.9 913.2 L510.4 914.4 L509.9 914.5 L509.5 913.1 L509.0 914.5 L508.5 915.1 L508.0 914.5 L507.5 914.0 L507.0 913.5 L506.5 912.8 L506.1 913.7 L505.6 913.2 L505.1 913.6 L504.6 913.7 L504.1 914.0 L503.6 913.5 L503.1 913.0 L502.6 913.9 L502.2 912.8 L501.7 912.8 L501.2 913.1 L500.7 913.1 L500.2 913.2 L499.7 914.4 L499.2 914.6 L498.7 915.0 L498.3 913.2 L497.8 913.3 L497.3 914.7 L496.8 914.0 L496.3 915.5 L495.8 913.6 L495.3 915.8 L494.8 913.9 L494.4 913.4 L493.9 913.9 L493.4 914.0 L492.9 915.6 L492.4 913.5 L491.9 914.6 L491.4 913.1 L491.0 913.5 L490.5 914.0 L490.0 914.4 L489.5 914.2 L489.0 914.2 L488.5 916.1 L488.0 913.5 L487.5 913.2 L487.1 914.0 L486.6 914.4 L486.1 913.7 L485.6 913.9 L485.1 913.5 L484.6 913.6 L484.1 913.1 L483.6 913.3 L483.2 913.6 L482.7 914.0 L482.2 914.8 L481.7 913.2 L481.2 914.0 L480.7 914.6 L480.2 914.5 L479.8 915.3 L479.3 914.4 L478.8 914.6 L478.3 914.4 L477.8 913.4 L477.3 913.5 L476.8 913.6 L476.3 914.9 L475.9 914.4 L475.4 913.4 L474.9 915.0 L474.4 913.7 L473.9 913.5 L473.4 913.4 L472.9 913.6 L472.4 914.5 L472.0 913.1 L471.5 913.8 L471.0 914.2 L470.5 914.1 L470.0 913.2 L469.5 913.0 L469.0 913.4 L468.5 913.3 L468.1 913.6 L467.6 913.9 L467.1 913.2 L466.6 914.5 L466.1 914.4 L465.6 915.0 L465.1 913.1 L464.7 913.8 L464.2 913.5 L463.7 914.2 L463.2 913.2 L462.7 913.8 L462.2 914.6 L461.7 914.2 L461.2 913.9 L460.8 913.5 L460.3 912.9 L459.8 913.3 L459.3 913.0 L458.8 915.6 L458.3 914.1 L457.8 914.0 L457.3 914.2 L456.9 913.6 L456.4 913.2 L455.9 913.3 L455.4 913.3 L454.9 913.9 L454.4 914.3 L453.9 912.8 L453.4 913.0 L453.0 913.6 L452.5 914.0 L452.0 912.9 L451.5 914.1 L451.0 912.8 L450.5 913.1 L450.0 913.4 L449.6 913.0 L449.1 913.4 L448.6 915.4 L448.1 914.5 L447.6 913.2 L447.1 913.7 L446.6 914.2 L446.1 913.0 L445.7 916.7 L445.2 914.6 L444.7 913.6 L444.2 913.6 L443.7 914.0 L443.2 913.6 L442.7 914.3 L442.2 913.6 L441.8 913.7 L441.3 912.6 L440.8 914.3 L440.3 912.7 L439.8 913.9 L439.3 913.8 L438.8 913.8 L438.3 913.4 L437.9 914.0 L437.4 912.9 L436.9 913.6 L436.4 913.0Z" fill="#ee3d45"/>
<rect x="415.6" y="747.7" width="261.0" height="191.8" fill="none" stroke="#3a3a3a" stroke-width="1.1"/>
<path d="M415.6 939.5h3.8M415.6 907.7h3.8M415.6 875.9h3.8M415.6 844.1h3.8M415.6 812.3h3.8M415.6 780.5h3.8M415.6 748.7h3.8M415.6 923.6h2.0M415.6 891.8h2.0M415.6 860.0h2.0M415.6 828.2h2.0M415.6 796.4h2.0M415.6 764.6h2.0M676.6 939.5h-3.8M676.6 907.7h-3.8M676.6 875.9h-3.8M676.6 844.1h-3.8M676.6 812.3h-3.8M676.6 780.5h-3.8M676.6 748.7h-3.8M676.6 923.6h-2.0M676.6 891.8h-2.0M676.6 860.0h-2.0M676.6 828.2h-2.0M676.6 796.4h-2.0M676.6 764.6h-2.0M436.4 747.7v3.3M480.1 747.7v3.3M523.9 747.7v3.3M567.6 747.7v3.3M611.4 747.7v3.3M655.1 747.7v3.3M458.3 747.7v3.3M502.0 747.7v3.3M545.8 747.7v3.3M589.5 747.7v3.3M633.2 747.7v3.3" stroke="#3a3a3a" stroke-width="1.1" fill="none"/>
<path d="M430 766.1H460.1" stroke="#ee3d45" stroke-width="2.2"/><path d="M430 782.4H460.1" stroke="#4376e2" stroke-width="2.2"/><path d="M430 798.4H460.1" stroke="#5bbb73" stroke-width="2.2"/></g><g font-family="Liberation Sans, sans-serif" font-weight="bold" fill="#111"><text x="410.9" y="943.3" font-size="12" text-anchor="end" >0.0</text>
<text x="410.9" y="911.5" font-size="12" text-anchor="end" >0.5</text>
<text x="410.9" y="879.7" font-size="12" text-anchor="end" >1.0</text>
<text x="410.9" y="847.9" font-size="12" text-anchor="end" >1.5</text>
<text x="410.9" y="816.1" font-size="12" text-anchor="end" >2.0</text>
<text x="410.9" y="784.3" font-size="12" text-anchor="end" >2.5</text>
<text x="410.9" y="752.5" font-size="12" text-anchor="end" >3.0</text>
<text x="436.4" y="954.0" font-size="12" text-anchor="middle" >0</text>
<text x="480.1" y="954.0" font-size="12" text-anchor="middle" >200</text>
<text x="523.9" y="954.0" font-size="12" text-anchor="middle" >400</text>
<text x="567.6" y="954.0" font-size="12" text-anchor="middle" >600</text>
<text x="611.4" y="954.0" font-size="12" text-anchor="middle" >800</text>
<text x="655.1" y="954.0" font-size="12" text-anchor="middle" >1000</text>
<text x="463.4" y="770.4" font-size="12.2" text-anchor="start" >10 mm</text>
<text x="463.4" y="786.5" font-size="12.2" text-anchor="start" >5 mm</text>
<text x="463.4" y="802.4" font-size="12.2" text-anchor="start" >2 mm</text>
<text x="545.6" y="975.9" font-size="14.9" text-anchor="middle" >Number of bending (cycles)</text>
<text transform="translate(379.0,844.4) rotate(-90)" font-size="15" text-anchor="middle">Resistance change (%)</text>
</g>
<g font-family="Liberation Sans, sans-serif" font-weight="bold" font-size="22.5" letter-spacing="1" fill="#111"><text x="8.0" y="24.9">(a)</text><text x="2.4" y="249.2">(b)</text><text x="331.8" y="248.7">(c)</text><text x="0.5" y="496.4">(d)</text><text x="339.9" y="496.4">(e)</text><text x="0.2" y="754.9">(f)</text><text x="340.0" y="754.9">(g)</text></g>
</svg>
</body></html>
